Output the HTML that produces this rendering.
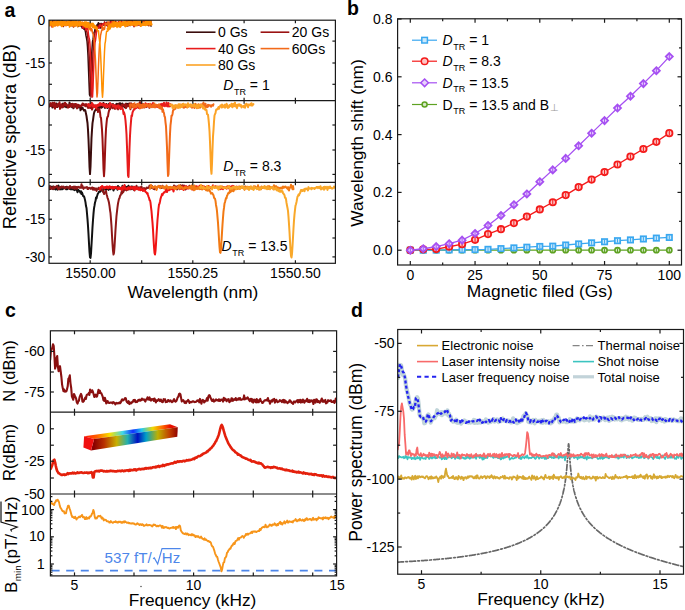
<!DOCTYPE html>
<html><head><meta charset="utf-8"><style>
html,body{margin:0;padding:0;background:#fff;width:685px;height:610px;overflow:hidden}
svg{position:absolute;left:0;top:0;font-family:"Liberation Sans", sans-serif}
</style></head><body>
<svg width="685" height="610" viewBox="0 0 685 610">
<rect width="685" height="610" fill="#fff"/>
<defs>
<clipPath id="clipA1"><rect x="49.0" y="20.2" width="286.4" height="80.5"/></clipPath>
<clipPath id="clipA2"><rect x="49.0" y="100.7" width="286.4" height="81.60000000000001"/></clipPath>
<clipPath id="clipA3"><rect x="49.0" y="182.3" width="286.4" height="81.0"/></clipPath>
<clipPath id="clipC1"><rect x="50.4" y="330.8" width="286.20000000000005" height="81.39999999999998"/></clipPath>
<clipPath id="clipC2"><rect x="50.4" y="412.2" width="286.20000000000005" height="81.80000000000001"/></clipPath>
<clipPath id="clipC3"><rect x="50.4" y="494.0" width="286.20000000000005" height="81.89999999999998"/></clipPath>
<clipPath id="clipD"><rect x="397.7" y="329.5" width="285.8" height="244.70000000000005"/></clipPath>
</defs>
<text x="4.50" y="16.50" font-size="19.5" text-anchor="start" fill="#000" font-weight="bold">a</text>
<g clip-path="url(#clipA1)">
<path d="M49.00,23.32 L49.50,23.76 L50.00,22.91 L50.50,21.99 L51.00,22.64 L51.50,21.84 L52.00,23.42 L52.50,25.34 L53.00,22.60 L53.50,22.41 L54.00,24.08 L54.50,23.89 L55.00,23.51 L55.50,21.97 L56.00,23.32 L56.50,24.41 L57.00,21.36 L57.50,22.70 L58.00,20.54 L58.50,21.46 L59.00,20.64 L59.50,23.05 L60.00,21.52 L60.50,23.83 L61.00,23.66 L61.50,23.16 L62.00,19.68 L62.50,22.65 L63.00,23.39 L63.50,23.64 L64.00,21.20 L64.50,22.78 L65.00,22.05 L65.50,22.31 L66.00,25.12 L66.50,22.34 L67.00,23.51 L67.50,24.90 L68.00,22.73 L68.50,23.45 L69.00,23.80 L69.50,23.75 L70.00,21.85 L70.50,23.82 L71.00,25.76 L71.50,21.46 L72.00,25.07 L72.50,24.01 L73.00,22.91 L73.50,26.88 L74.00,25.08 L74.50,22.22 L75.00,24.17 L75.50,24.97 L76.00,23.90 L76.50,25.27 L77.00,24.24 L77.50,25.42 L78.00,26.65 L78.50,23.66 L79.00,25.09 L79.50,24.26 L80.00,25.31 L80.50,23.60 L81.00,24.73 L81.50,25.57 L82.00,27.48 L82.50,28.23 L83.00,25.20 L83.50,26.56 L84.00,29.33 L84.50,26.64 L85.00,29.97 L85.50,32.07 L86.00,35.95 L86.50,38.12 L87.00,41.05 L87.50,46.96 L88.00,55.65 L88.50,68.68 L89.00,82.27 L89.50,94.67 L90.00,96.07 L90.50,85.28 L91.00,70.45 L91.50,57.07 L92.00,48.79 L92.50,41.94 L93.00,39.40 L93.50,35.68 L94.00,32.55 L94.50,31.78 L95.00,29.13 L95.50,30.07 L96.00,27.81 L96.50,28.02 L97.00,24.84 L97.50,26.76 L98.00,23.47 L98.50,22.67 L99.00,24.93 L99.50,23.85 L100.00,25.22 L100.50,28.11 L101.00,23.46 L101.50,23.64 L102.00,24.75 L102.50,25.08 L103.00,24.01 L103.50,23.89 L104.00,25.17 L104.50,24.84 L105.00,22.48 L105.50,23.84 L106.00,23.97 L106.50,22.31 L107.00,24.22 L107.50,22.52 L108.00,25.21 L108.50,24.02 L109.00,23.84 L109.50,22.80 L110.00,23.48 L110.50,20.66 L111.00,21.93 L111.50,24.14 L112.00,20.41 L112.50,24.83 L113.00,20.94 L113.50,24.67 L114.00,22.26 L114.50,24.67 L115.00,23.69 L115.50,21.19 L116.00,25.34 L116.50,25.62 L117.00,23.36 L117.50,23.04 L118.00,23.20 L118.50,21.97 L119.00,25.06 L119.50,22.60 L120.00,23.33 L120.50,22.21 L121.00,22.46 L121.50,21.48 L122.00,25.26 L122.50,23.15 L123.00,24.82 L123.50,23.39 L124.00,22.32 L124.50,22.87 L125.00,22.51 L125.50,23.36 L126.00,22.78 L126.50,22.89 L127.00,21.27 L127.50,22.12 L128.00,25.81 L128.50,22.32 L129.00,21.74 L129.50,23.83 L130.00,25.42 L130.50,21.14 L131.00,23.00 L131.50,22.36 L132.00,20.67 L132.50,24.40 L133.00,23.27 L133.50,23.41 L134.00,22.17 L134.50,23.98 L135.00,22.48 L135.50,23.08 L136.00,21.63 L136.50,21.46 L137.00,25.29 L137.50,22.52 L138.00,23.72 L138.50,23.23 L139.00,22.62 L139.50,22.52 L140.00,24.22 L140.50,22.82 L141.00,23.05 L141.50,23.30 L142.00,25.03 L142.50,24.29 L143.00,23.84 L143.50,22.42 L144.00,21.19 L144.50,24.69 L145.00,24.71 L145.50,23.05 L146.00,24.07 L146.50,24.43 L147.00,24.50 L147.50,24.64 L148.00,22.57 L148.50,25.53 L149.00,21.39 L149.50,24.54 L150.00,23.99 L150.50,24.56 L151.00,26.07" fill="none" stroke="#3a0c0c" stroke-width="1.5" stroke-linejoin="round" stroke-linecap="round" />
<path d="M49.00,25.53 L49.50,21.59 L50.00,20.78 L50.50,24.54 L51.00,21.80 L51.50,23.30 L52.00,24.58 L52.50,20.87 L53.00,20.17 L53.50,23.72 L54.00,23.40 L54.50,22.97 L55.00,23.40 L55.50,22.06 L56.00,21.09 L56.50,23.11 L57.00,21.91 L57.50,20.91 L58.00,24.13 L58.50,23.29 L59.00,23.99 L59.50,21.91 L60.00,22.41 L60.50,21.91 L61.00,22.08 L61.50,23.71 L62.00,22.25 L62.50,23.96 L63.00,23.95 L63.50,26.48 L64.00,21.38 L64.50,24.80 L65.00,23.35 L65.50,23.47 L66.00,21.34 L66.50,22.83 L67.00,24.64 L67.50,23.42 L68.00,23.68 L68.50,23.14 L69.00,25.31 L69.50,23.58 L70.00,20.35 L70.50,22.62 L71.00,20.74 L71.50,18.85 L72.00,22.93 L72.50,25.73 L73.00,23.85 L73.50,22.07 L74.00,22.45 L74.50,25.57 L75.00,24.17 L75.50,24.05 L76.00,23.95 L76.50,24.15 L77.00,25.35 L77.50,25.04 L78.00,24.62 L78.50,22.85 L79.00,25.25 L79.50,23.60 L80.00,26.34 L80.50,23.02 L81.00,24.85 L81.50,25.23 L82.00,23.54 L82.50,28.23 L83.00,28.15 L83.50,25.76 L84.00,27.97 L84.50,27.96 L85.00,24.45 L85.50,29.32 L86.00,29.99 L86.50,31.62 L87.00,32.01 L87.50,35.66 L88.00,39.38 L88.50,45.97 L89.00,52.38 L89.50,62.58 L90.00,77.06 L90.50,90.54 L91.00,97.20 L91.50,90.37 L92.00,77.07 L92.50,63.26 L93.00,52.92 L93.50,45.41 L94.00,39.72 L94.50,36.26 L95.00,33.08 L95.50,31.23 L96.00,30.15 L96.50,31.06 L97.00,28.89 L97.50,27.34 L98.00,26.05 L98.50,25.51 L99.00,28.36 L99.50,26.47 L100.00,25.57 L100.50,24.74 L101.00,23.43 L101.50,24.78 L102.00,26.02 L102.50,24.03 L103.00,24.16 L103.50,24.07 L104.00,24.47 L104.50,21.87 L105.00,23.81 L105.50,22.82 L106.00,25.34 L106.50,22.84 L107.00,24.79 L107.50,26.15 L108.00,23.38 L108.50,22.92 L109.00,24.07 L109.50,23.75 L110.00,22.24 L110.50,24.38 L111.00,26.67 L111.50,23.26 L112.00,23.32 L112.50,22.05 L113.00,24.07 L113.50,21.71 L114.00,21.90 L114.50,25.45 L115.00,22.18 L115.50,25.13 L116.00,25.78 L116.50,23.88 L117.00,24.31 L117.50,26.39 L118.00,23.16 L118.50,22.56 L119.00,21.42 L119.50,23.49 L120.00,25.64 L120.50,24.85 L121.00,22.00 L121.50,22.12 L122.00,22.64 L122.50,23.83 L123.00,23.08 L123.50,23.70 L124.00,23.82 L124.50,22.92 L125.00,23.30 L125.50,23.67 L126.00,23.23 L126.50,24.10 L127.00,26.15 L127.50,24.23 L128.00,23.42 L128.50,20.81 L129.00,23.91 L129.50,20.41 L130.00,21.21 L130.50,24.60 L131.00,24.38 L131.50,23.09 L132.00,20.75 L132.50,22.75 L133.00,22.29 L133.50,24.26 L134.00,26.68 L134.50,23.62 L135.00,22.13 L135.50,21.54 L136.00,23.21 L136.50,23.03 L137.00,21.56 L137.50,23.46 L138.00,21.56 L138.50,24.95 L139.00,24.87 L139.50,24.91 L140.00,22.57 L140.50,24.05 L141.00,23.08 L141.50,22.69 L142.00,22.76 L142.50,21.32 L143.00,21.11 L143.50,24.46 L144.00,22.98 L144.50,23.59 L145.00,24.77 L145.50,20.67 L146.00,22.09 L146.50,23.52 L147.00,23.85 L147.50,22.69 L148.00,24.80 L148.50,23.57 L149.00,21.44 L149.50,21.86 L150.00,24.46 L150.50,23.95 L151.00,20.41" fill="none" stroke="#9a1212" stroke-width="1.5" stroke-linejoin="round" stroke-linecap="round" />
<path d="M49.00,25.32 L49.50,24.20 L50.00,25.32 L50.50,22.73 L51.00,22.87 L51.50,21.63 L52.00,27.12 L52.50,23.06 L53.00,25.70 L53.50,22.36 L54.00,23.57 L54.50,20.83 L55.00,22.76 L55.50,24.81 L56.00,21.47 L56.50,24.95 L57.00,23.86 L57.50,21.79 L58.00,22.61 L58.50,22.68 L59.00,23.30 L59.50,22.57 L60.00,22.14 L60.50,22.93 L61.00,21.86 L61.50,21.47 L62.00,23.33 L62.50,24.73 L63.00,21.13 L63.50,23.43 L64.00,22.46 L64.50,21.98 L65.00,24.73 L65.50,22.69 L66.00,25.71 L66.50,22.32 L67.00,24.07 L67.50,23.16 L68.00,22.39 L68.50,24.41 L69.00,23.31 L69.50,24.46 L70.00,23.51 L70.50,21.97 L71.00,23.46 L71.50,23.71 L72.00,25.08 L72.50,22.32 L73.00,23.64 L73.50,21.16 L74.00,24.73 L74.50,22.18 L75.00,21.13 L75.50,23.77 L76.00,25.54 L76.50,21.68 L77.00,22.38 L77.50,22.94 L78.00,22.43 L78.50,24.73 L79.00,23.05 L79.50,23.26 L80.00,25.27 L80.50,23.40 L81.00,25.27 L81.50,23.33 L82.00,23.13 L82.50,22.40 L83.00,28.00 L83.50,25.05 L84.00,26.14 L84.50,26.07 L85.00,26.73 L85.50,27.05 L86.00,30.25 L86.50,26.82 L87.00,27.02 L87.50,28.96 L88.00,30.07 L88.50,34.82 L89.00,37.62 L89.50,39.36 L90.00,44.53 L90.50,53.59 L91.00,66.02 L91.50,78.40 L92.00,92.89 L92.50,96.91 L93.00,88.27 L93.50,72.93 L94.00,59.99 L94.50,48.95 L95.00,42.46 L95.50,40.41 L96.00,36.43 L96.50,32.46 L97.00,30.02 L97.50,27.24 L98.00,28.24 L98.50,27.92 L99.00,27.19 L99.50,26.64 L100.00,24.73 L100.50,25.88 L101.00,25.62 L101.50,27.30 L102.00,27.92 L102.50,24.81 L103.00,23.72 L103.50,24.61 L104.00,23.69 L104.50,23.38 L105.00,24.29 L105.50,22.75 L106.00,25.11 L106.50,23.99 L107.00,24.45 L107.50,23.75 L108.00,22.89 L108.50,22.52 L109.00,23.53 L109.50,23.03 L110.00,24.15 L110.50,23.77 L111.00,21.72 L111.50,23.82 L112.00,21.69 L112.50,22.75 L113.00,23.20 L113.50,20.53 L114.00,23.74 L114.50,23.81 L115.00,23.33 L115.50,22.92 L116.00,22.98 L116.50,22.07 L117.00,23.11 L117.50,22.67 L118.00,23.62 L118.50,21.68 L119.00,23.82 L119.50,23.67 L120.00,23.24 L120.50,22.78 L121.00,24.26 L121.50,20.93 L122.00,24.10 L122.50,23.77 L123.00,23.83 L123.50,23.97 L124.00,22.41 L124.50,23.00 L125.00,24.33 L125.50,24.02 L126.00,23.68 L126.50,21.10 L127.00,24.16 L127.50,25.10 L128.00,24.86 L128.50,23.70 L129.00,21.01 L129.50,24.75 L130.00,23.11 L130.50,19.54 L131.00,23.89 L131.50,21.09 L132.00,21.38 L132.50,22.37 L133.00,25.22 L133.50,22.76 L134.00,23.72 L134.50,25.92 L135.00,25.69 L135.50,23.15 L136.00,22.94 L136.50,21.41 L137.00,22.25 L137.50,23.93 L138.00,23.88 L138.50,23.45 L139.00,24.78 L139.50,22.13 L140.00,23.20 L140.50,24.38 L141.00,24.16 L141.50,24.88 L142.00,23.87 L142.50,22.81 L143.00,23.82 L143.50,21.77 L144.00,20.81 L144.50,24.14 L145.00,23.19 L145.50,23.73 L146.00,20.72 L146.50,22.72 L147.00,22.36 L147.50,21.97 L148.00,19.88 L148.50,22.76 L149.00,24.60 L149.50,23.83 L150.00,22.36 L150.50,23.23 L151.00,24.39" fill="none" stroke="#e81c1c" stroke-width="1.5" stroke-linejoin="round" stroke-linecap="round" />
<path d="M49.00,19.15 L49.50,23.10 L50.00,24.10 L50.50,24.31 L51.00,25.84 L51.50,24.99 L52.00,23.76 L52.50,23.75 L53.00,24.48 L53.50,22.49 L54.00,23.24 L54.50,24.66 L55.00,26.24 L55.50,23.07 L56.00,23.24 L56.50,23.61 L57.00,25.33 L57.50,23.28 L58.00,25.52 L58.50,21.88 L59.00,23.05 L59.50,23.04 L60.00,24.51 L60.50,24.91 L61.00,21.09 L61.50,21.98 L62.00,23.86 L62.50,22.37 L63.00,21.08 L63.50,24.92 L64.00,24.11 L64.50,24.12 L65.00,22.67 L65.50,24.93 L66.00,23.04 L66.50,25.04 L67.00,22.04 L67.50,22.14 L68.00,23.73 L68.50,22.38 L69.00,24.45 L69.50,23.84 L70.00,22.08 L70.50,23.58 L71.00,22.95 L71.50,24.86 L72.00,22.55 L72.50,22.86 L73.00,25.33 L73.50,26.88 L74.00,26.54 L74.50,23.66 L75.00,23.91 L75.50,25.89 L76.00,23.44 L76.50,22.19 L77.00,23.84 L77.50,24.36 L78.00,22.48 L78.50,21.29 L79.00,21.64 L79.50,24.80 L80.00,22.71 L80.50,23.67 L81.00,24.24 L81.50,24.89 L82.00,23.52 L82.50,24.82 L83.00,22.82 L83.50,23.68 L84.00,22.77 L84.50,26.05 L85.00,24.43 L85.50,23.49 L86.00,24.19 L86.50,24.52 L87.00,26.04 L87.50,22.87 L88.00,23.91 L88.50,25.13 L89.00,29.63 L89.50,27.71 L90.00,26.62 L90.50,28.32 L91.00,30.85 L91.50,28.46 L92.00,29.33 L92.50,32.81 L93.00,33.62 L93.50,36.25 L94.00,38.16 L94.50,45.62 L95.00,52.00 L95.50,60.62 L96.00,73.78 L96.50,87.70 L97.00,96.92 L97.50,92.83 L98.00,79.57 L98.50,65.56 L99.00,53.60 L99.50,44.21 L100.00,40.89 L100.50,35.71 L101.00,33.44 L101.50,31.04 L102.00,29.87 L102.50,25.99 L103.00,29.97 L103.50,27.91 L104.00,28.56 L104.50,29.34 L105.00,26.15 L105.50,23.18 L106.00,24.22 L106.50,23.52 L107.00,24.35 L107.50,25.03 L108.00,21.82 L108.50,25.13 L109.00,22.29 L109.50,24.85 L110.00,24.16 L110.50,23.78 L111.00,24.06 L111.50,23.30 L112.00,23.14 L112.50,21.49 L113.00,23.90 L113.50,26.64 L114.00,26.80 L114.50,25.79 L115.00,24.84 L115.50,22.75 L116.00,25.88 L116.50,23.62 L117.00,23.57 L117.50,23.22 L118.00,23.77 L118.50,22.96 L119.00,23.47 L119.50,21.96 L120.00,23.00 L120.50,26.95 L121.00,23.43 L121.50,23.16 L122.00,24.30 L122.50,24.55 L123.00,21.82 L123.50,23.16 L124.00,24.83 L124.50,23.85 L125.00,23.62 L125.50,25.76 L126.00,22.41 L126.50,23.54 L127.00,22.63 L127.50,25.63 L128.00,20.48 L128.50,22.39 L129.00,22.59 L129.50,24.37 L130.00,24.28 L130.50,25.46 L131.00,21.01 L131.50,24.48 L132.00,22.92 L132.50,22.35 L133.00,24.15 L133.50,21.97 L134.00,20.23 L134.50,22.78 L135.00,21.09 L135.50,22.36 L136.00,23.88 L136.50,23.79 L137.00,25.70 L137.50,23.02 L138.00,21.02 L138.50,22.18 L139.00,21.93 L139.50,21.48 L140.00,23.95 L140.50,22.33 L141.00,20.34 L141.50,24.34 L142.00,23.13 L142.50,23.83 L143.00,23.45 L143.50,24.23 L144.00,23.34 L144.50,25.14 L145.00,23.92 L145.50,23.87 L146.00,23.89 L146.50,21.09 L147.00,23.03 L147.50,22.89 L148.00,23.58 L148.50,21.24 L149.00,25.72 L149.50,23.43 L150.00,21.45 L150.50,20.71 L151.00,22.84" fill="none" stroke="#f56a10" stroke-width="1.5" stroke-linejoin="round" stroke-linecap="round" />
<path d="M49.00,23.13 L49.50,22.19 L50.00,23.41 L50.50,22.31 L51.00,24.10 L51.50,22.19 L52.00,23.22 L52.50,24.74 L53.00,27.13 L53.50,21.77 L54.00,22.58 L54.50,22.02 L55.00,24.46 L55.50,21.57 L56.00,22.56 L56.50,23.25 L57.00,21.83 L57.50,21.86 L58.00,22.58 L58.50,20.15 L59.00,21.13 L59.50,22.68 L60.00,23.53 L60.50,23.03 L61.00,20.65 L61.50,22.62 L62.00,24.51 L62.50,24.15 L63.00,23.20 L63.50,22.00 L64.00,24.27 L64.50,22.46 L65.00,21.58 L65.50,22.14 L66.00,25.51 L66.50,23.68 L67.00,25.09 L67.50,22.64 L68.00,24.76 L68.50,22.46 L69.00,23.13 L69.50,27.09 L70.00,24.53 L70.50,22.63 L71.00,23.26 L71.50,23.88 L72.00,25.21 L72.50,22.68 L73.00,20.81 L73.50,23.01 L74.00,23.46 L74.50,23.60 L75.00,25.42 L75.50,23.93 L76.00,24.68 L76.50,21.83 L77.00,24.79 L77.50,26.63 L78.00,24.67 L78.50,23.91 L79.00,23.77 L79.50,26.22 L80.00,22.19 L80.50,23.42 L81.00,24.29 L81.50,24.74 L82.00,23.00 L82.50,24.13 L83.00,23.28 L83.50,23.90 L84.00,23.55 L84.50,22.08 L85.00,23.78 L85.50,25.15 L86.00,22.45 L86.50,23.57 L87.00,24.97 L87.50,22.45 L88.00,24.36 L88.50,22.58 L89.00,25.90 L89.50,27.72 L90.00,27.38 L90.50,24.17 L91.00,25.69 L91.50,24.91 L92.00,25.03 L92.50,27.31 L93.00,23.32 L93.50,27.00 L94.00,25.66 L94.50,28.08 L95.00,26.69 L95.50,25.92 L96.00,27.82 L96.50,29.14 L97.00,29.02 L97.50,30.74 L98.00,30.81 L98.50,30.65 L99.00,37.11 L99.50,40.40 L100.00,44.86 L100.50,52.14 L101.00,63.31 L101.50,76.22 L102.00,90.52 L102.50,97.20 L103.00,90.78 L103.50,75.83 L104.00,63.42 L104.50,51.49 L105.00,43.53 L105.50,41.06 L106.00,35.87 L106.50,31.73 L107.00,31.03 L107.50,31.34 L108.00,30.62 L108.50,27.51 L109.00,28.00 L109.50,27.89 L110.00,25.50 L110.50,26.56 L111.00,25.69 L111.50,24.69 L112.00,24.52 L112.50,25.15 L113.00,24.92 L113.50,23.90 L114.00,23.98 L114.50,26.13 L115.00,24.71 L115.50,25.61 L116.00,26.00 L116.50,25.03 L117.00,27.46 L117.50,22.81 L118.00,25.18 L118.50,23.46 L119.00,26.65 L119.50,26.38 L120.00,20.91 L120.50,22.34 L121.00,24.74 L121.50,24.90 L122.00,24.79 L122.50,23.56 L123.00,24.33 L123.50,24.60 L124.00,23.49 L124.50,25.12 L125.00,20.20 L125.50,24.50 L126.00,22.00 L126.50,24.96 L127.00,23.17 L127.50,22.17 L128.00,24.05 L128.50,22.12 L129.00,22.10 L129.50,21.12 L130.00,23.41 L130.50,24.18 L131.00,24.96 L131.50,23.21 L132.00,24.98 L132.50,23.44 L133.00,23.26 L133.50,24.25 L134.00,24.97 L134.50,22.87 L135.00,23.01 L135.50,23.13 L136.00,23.49 L136.50,22.02 L137.00,24.90 L137.50,22.75 L138.00,24.04 L138.50,22.11 L139.00,23.88 L139.50,23.92 L140.00,22.70 L140.50,26.36 L141.00,23.88 L141.50,25.99 L142.00,24.76 L142.50,22.33 L143.00,22.74 L143.50,23.97 L144.00,23.40 L144.50,23.38 L145.00,22.88 L145.50,20.59 L146.00,22.96 L146.50,19.97 L147.00,23.85 L147.50,22.21 L148.00,22.22 L148.50,22.96 L149.00,23.70 L149.50,21.14 L150.00,20.66 L150.50,21.68 L151.00,20.22" fill="none" stroke="#ff9000" stroke-width="1.5" stroke-linejoin="round" stroke-linecap="round" />
<path d="M49.00,22.60 L49.50,24.90 L50.00,22.52 L50.50,24.06 L51.00,22.24 L51.50,23.74 L52.00,23.19 L52.50,23.42 L53.00,23.99 L53.50,25.06 L54.00,23.66 L54.50,23.59 L55.00,22.61 L55.50,24.01 L56.00,23.27 L56.50,24.24 L57.00,23.45 L57.50,25.06 L58.00,21.71 L58.50,23.23 L59.00,24.29 L59.50,23.19 L60.00,22.79 L60.50,23.27 L61.00,22.27 L61.50,23.62 L62.00,25.71 L62.50,24.55 L63.00,22.52 L63.50,22.74 L64.00,23.16 L64.50,24.43 L65.00,22.79 L65.50,22.92 L66.00,24.34 L66.50,24.32 L67.00,23.21 L67.50,22.55 L68.00,22.16 L68.50,22.93 L69.00,21.56 L69.50,24.25 L70.00,23.01 L70.50,24.02 L71.00,25.27 L71.50,24.65 L72.00,22.57 L72.50,24.39 L73.00,24.66 L73.50,22.95 L74.00,22.77 L74.50,23.54 L75.00,22.21 L75.50,24.98 L76.00,21.50 L76.50,22.68 L77.00,23.45 L77.50,23.50 L78.00,23.86 L78.50,23.97 L79.00,23.55 L79.50,24.78 L80.00,21.85 L80.50,23.79 L81.00,23.16 L81.50,23.95 L82.00,24.05 L82.50,23.05 L83.00,23.32 L83.50,24.63 L84.00,24.26 L84.50,23.37 L85.00,25.85 L85.50,26.13 L86.00,22.77 L86.50,24.40 L87.00,26.44 L87.50,24.94 L88.00,24.49 L88.50,24.16 L89.00,23.94 L89.50,24.31 L90.00,24.09 L90.50,25.36 L91.00,24.44 L91.50,24.53 L92.00,23.99 L92.50,25.20 L93.00,24.63 L93.50,25.50 L94.00,26.86 L94.50,26.57 L95.00,27.07 L95.50,27.38 L96.00,27.67 L96.50,28.18" fill="none" stroke="#ff9000" stroke-width="3.0" stroke-linejoin="round" stroke-linecap="round" />
<path d="M108.00,28.88 L108.50,28.98 L109.00,26.64 L109.50,28.27 L110.00,26.64 L110.50,25.56 L111.00,25.49 L111.50,25.05 L112.00,25.58 L112.50,24.60 L113.00,26.10 L113.50,24.23 L114.00,22.76 L114.50,24.03 L115.00,22.78 L115.50,24.47 L116.00,25.38 L116.50,24.93 L117.00,23.08 L117.50,23.54 L118.00,25.78 L118.50,24.42 L119.00,24.09 L119.50,25.00 L120.00,26.22 L120.50,25.15 L121.00,24.07 L121.50,24.24 L122.00,24.45 L122.50,23.32 L123.00,22.89 L123.50,23.87 L124.00,22.95 L124.50,23.73 L125.00,23.86 L125.50,25.86 L126.00,22.97 L126.50,23.62 L127.00,23.57 L127.50,24.09 L128.00,24.63 L128.50,23.24 L129.00,22.93 L129.50,22.18 L130.00,22.82 L130.50,24.12 L131.00,23.67 L131.50,22.71 L132.00,23.28 L132.50,23.64 L133.00,24.06 L133.50,23.06 L134.00,23.36 L134.50,21.95 L135.00,22.54 L135.50,25.03 L136.00,21.60 L136.50,23.26 L137.00,23.76 L137.50,23.22 L138.00,22.82 L138.50,23.49 L139.00,23.54 L139.50,23.46 L140.00,21.84 L140.50,23.40 L141.00,22.76 L141.50,23.03 L142.00,23.73 L142.50,24.09 L143.00,24.32 L143.50,23.07 L144.00,24.34 L144.50,24.56 L145.00,24.53 L145.50,24.75 L146.00,23.37 L146.50,23.34 L147.00,24.24 L147.50,22.26 L148.00,23.68 L148.50,23.01 L149.00,23.16 L149.50,21.92 L150.00,22.68 L150.50,23.46 L151.00,24.28" fill="none" stroke="#ff9000" stroke-width="3.0" stroke-linejoin="round" stroke-linecap="round" />
</g>
<g clip-path="url(#clipA2)">
<path d="M49.00,106.62 L49.50,105.29 L50.00,105.15 L50.50,104.36 L51.00,105.90 L51.50,105.09 L52.00,106.16 L52.50,107.59 L53.00,105.37 L53.50,103.54 L54.00,104.34 L54.50,103.59 L55.00,103.92 L55.50,107.05 L56.00,105.71 L56.50,103.53 L57.00,106.25 L57.50,107.01 L58.00,104.99 L58.50,104.60 L59.00,105.03 L59.50,105.81 L60.00,106.26 L60.50,106.94 L61.00,106.98 L61.50,106.96 L62.00,107.18 L62.50,106.32 L63.00,103.59 L63.50,105.34 L64.00,105.90 L64.50,105.04 L65.00,106.67 L65.50,105.09 L66.00,104.40 L66.50,107.36 L67.00,106.40 L67.50,105.86 L68.00,106.75 L68.50,106.93 L69.00,106.05 L69.50,102.59 L70.00,104.82 L70.50,105.11 L71.00,104.48 L71.50,105.97 L72.00,107.22 L72.50,105.17 L73.00,104.39 L73.50,108.34 L74.00,105.30 L74.50,104.37 L75.00,106.23 L75.50,106.51 L76.00,105.16 L76.50,107.06 L77.00,105.54 L77.50,105.08 L78.00,106.51 L78.50,107.33 L79.00,105.70 L79.50,106.99 L80.00,106.60 L80.50,110.32 L81.00,106.18 L81.50,108.93 L82.00,107.42 L82.50,107.63 L83.00,109.00 L83.50,109.63 L84.00,110.59 L84.50,110.16 L85.00,109.94 L85.50,111.16 L86.00,113.85 L86.50,116.00 L87.00,119.75 L87.50,123.01 L88.00,129.87 L88.50,139.51 L89.00,151.99 L89.50,166.59 L90.00,174.10 L90.50,166.60 L91.00,152.57 L91.50,137.99 L92.00,130.01 L92.50,123.17 L93.00,120.07 L93.50,116.45 L94.00,113.18 L94.50,111.54 L95.00,110.74 L95.50,109.98 L96.00,108.47 L96.50,108.52 L97.00,110.06 L97.50,105.73 L98.00,107.80 L98.50,106.14 L99.00,107.27 L99.50,107.89 L100.00,106.65 L100.50,107.54 L101.00,104.52 L101.50,107.74 L102.00,105.55 L102.50,106.98 L103.00,106.37 L103.50,102.89 L104.00,105.10 L104.50,106.25 L105.00,107.86 L105.50,106.25 L106.00,106.18 L106.50,104.07 L107.00,107.57 L107.50,108.01 L108.00,105.78 L108.50,105.45 L109.00,103.69 L109.50,106.78 L110.00,109.02 L110.50,106.53 L111.00,107.20 L111.50,106.29 L112.00,104.37 L112.50,107.25 L113.00,104.04 L113.50,105.30 L114.00,105.90 L114.50,106.64 L115.00,106.05 L115.50,106.00 L116.00,104.56 L116.50,103.90 L117.00,105.57 L117.50,104.61 L118.00,103.85 L118.50,103.90 L119.00,104.86 L119.50,103.16 L120.00,103.78 L120.50,103.42 L121.00,105.68 L121.50,105.95 L122.00,107.94 L122.50,103.57 L123.00,104.58 L123.50,106.57 L124.00,105.15 L124.50,105.01 L125.00,107.55 L125.50,104.99 L126.00,103.97 L126.50,103.76 L127.00,105.82 L127.50,105.78 L128.00,103.69 L128.50,104.17 L129.00,106.06 L129.50,106.11" fill="none" stroke="#3a0c0c" stroke-width="2.0" stroke-linejoin="round" stroke-linecap="round" />
<path d="M49.00,104.55 L49.50,106.13 L50.00,106.07 L50.50,103.12 L51.00,104.96 L51.50,105.87 L52.00,104.64 L52.50,102.68 L53.00,105.00 L53.50,106.30 L54.00,107.33 L54.50,102.62 L55.00,108.63 L55.50,103.96 L56.00,106.56 L56.50,106.91 L57.00,106.60 L57.50,105.56 L58.00,103.92 L58.50,106.15 L59.00,104.48 L59.50,102.23 L60.00,108.91 L60.50,106.26 L61.00,107.65 L61.50,104.24 L62.00,107.22 L62.50,107.37 L63.00,107.33 L63.50,105.36 L64.00,103.89 L64.50,105.17 L65.00,102.65 L65.50,103.28 L66.00,105.52 L66.50,104.17 L67.00,105.20 L67.50,105.28 L68.00,107.82 L68.50,107.04 L69.00,105.37 L69.50,106.93 L70.00,104.46 L70.50,105.01 L71.00,106.57 L71.50,103.89 L72.00,105.10 L72.50,103.80 L73.00,105.60 L73.50,107.50 L74.00,104.53 L74.50,105.75 L75.00,104.36 L75.50,104.05 L76.00,103.95 L76.50,107.31 L77.00,108.45 L77.50,106.11 L78.00,104.63 L78.50,106.41 L79.00,105.12 L79.50,106.55 L80.00,105.92 L80.50,105.92 L81.00,106.34 L81.50,104.87 L82.00,105.10 L82.50,103.48 L83.00,105.09 L83.50,103.88 L84.00,105.49 L84.50,104.50 L85.00,105.84 L85.50,106.30 L86.00,103.99 L86.50,104.77 L87.00,104.64 L87.50,106.77 L88.00,107.99 L88.50,106.97 L89.00,105.52 L89.50,107.82 L90.00,104.18 L90.50,107.96 L91.00,105.36 L91.50,102.81 L92.00,109.59 L92.50,108.35 L93.00,105.24 L93.50,106.83 L94.00,106.50 L94.50,107.04 L95.00,105.29 L95.50,106.48 L96.00,108.12 L96.50,108.12 L97.00,109.65 L97.50,108.76 L98.00,111.99 L98.50,109.07 L99.00,111.10 L99.50,109.80 L100.00,112.15 L100.50,117.10 L101.00,117.77 L101.50,123.64 L102.00,129.68 L102.50,138.87 L103.00,153.21 L103.50,168.60 L104.00,176.20 L104.50,168.77 L105.00,153.61 L105.50,139.18 L106.00,128.98 L106.50,123.41 L107.00,118.63 L107.50,116.78 L108.00,116.47 L108.50,112.92 L109.00,110.76 L109.50,109.71 L110.00,108.20 L110.50,107.58 L111.00,107.01 L111.50,107.38 L112.00,107.04 L112.50,108.21 L113.00,106.61 L113.50,106.67 L114.00,105.27 L114.50,108.64 L115.00,107.13 L115.50,108.61 L116.00,107.30 L116.50,108.08 L117.00,105.86 L117.50,106.99 L118.00,109.40 L118.50,104.49 L119.00,107.41 L119.50,108.02 L120.00,106.40 L120.50,106.79 L121.00,107.40 L121.50,104.95 L122.00,106.28 L122.50,104.63 L123.00,104.85 L123.50,104.90 L124.00,105.49 L124.50,105.84 L125.00,106.21 L125.50,103.82 L126.00,108.13 L126.50,107.07 L127.00,106.51 L127.50,105.11 L128.00,105.44 L128.50,106.25 L129.00,106.06 L129.50,103.38 L130.00,106.47 L130.50,109.24 L131.00,103.14 L131.50,106.77 L132.00,105.96 L132.50,105.34 L133.00,107.23 L133.50,103.96 L134.00,105.67 L134.50,107.33 L135.00,105.20 L135.50,104.91 L136.00,105.59 L136.50,104.87 L137.00,107.42 L137.50,104.27 L138.00,106.55 L138.50,103.82 L139.00,106.28 L139.50,105.28 L140.00,102.10 L140.50,105.40 L141.00,104.04 L141.50,104.84 L142.00,107.38 L142.50,103.97 L143.00,104.04 L143.50,107.24 L144.00,105.54 L144.50,107.37 L145.00,105.80 L145.50,104.25 L146.00,105.30 L146.50,106.96 L147.00,106.59 L147.50,105.38 L148.00,105.44 L148.50,105.23 L149.00,104.63 L149.50,107.85" fill="none" stroke="#9a1212" stroke-width="2.0" stroke-linejoin="round" stroke-linecap="round" />
<path d="M88.00,105.40 L88.50,103.95 L89.00,104.79 L89.50,106.33 L90.00,106.23 L90.50,105.23 L91.00,104.55 L91.50,105.44 L92.00,103.27 L92.50,103.75 L93.00,106.45 L93.50,104.81 L94.00,105.91 L94.50,107.00 L95.00,106.27 L95.50,105.47 L96.00,108.18 L96.50,106.31 L97.00,105.00 L97.50,106.40 L98.00,105.99 L98.50,104.38 L99.00,105.57 L99.50,105.27 L100.00,102.97 L100.50,105.28 L101.00,105.14 L101.50,104.95 L102.00,103.41 L102.50,105.08 L103.00,105.49 L103.50,105.68 L104.00,104.11 L104.50,106.38 L105.00,104.03 L105.50,105.31 L106.00,107.28 L106.50,104.74 L107.00,104.98 L107.50,107.03 L108.00,105.18 L108.50,105.31 L109.00,105.99 L109.50,107.07 L110.00,102.94 L110.50,104.72 L111.00,104.53 L111.50,104.46 L112.00,104.79 L112.50,104.84 L113.00,106.33 L113.50,104.87 L114.00,106.20 L114.50,106.61 L115.00,105.23 L115.50,106.39 L116.00,108.37 L116.50,106.79 L117.00,105.68 L117.50,106.51 L118.00,105.57 L118.50,107.21 L119.00,108.11 L119.50,106.21 L120.00,107.21 L120.50,109.12 L121.00,107.46 L121.50,108.71 L122.00,107.74 L122.50,108.62 L123.00,109.78 L123.50,113.91 L124.00,112.30 L124.50,114.01 L125.00,116.54 L125.50,120.59 L126.00,126.68 L126.50,134.21 L127.00,146.97 L127.50,161.40 L128.00,175.47 L128.50,177.04 L129.00,164.73 L129.50,147.95 L130.00,135.99 L130.50,127.38 L131.00,121.43 L131.50,115.52 L132.00,115.99 L132.50,112.65 L133.00,111.15 L133.50,110.28 L134.00,109.48 L134.50,109.57 L135.00,107.05 L135.50,107.03 L136.00,108.15 L136.50,107.69 L137.00,106.82 L137.50,106.37 L138.00,105.88 L138.50,106.68 L139.00,108.07 L139.50,105.20 L140.00,108.28 L140.50,107.36 L141.00,105.68 L141.50,107.14 L142.00,104.30 L142.50,103.91 L143.00,104.41 L143.50,105.45 L144.00,105.51 L144.50,105.24 L145.00,105.97 L145.50,103.17 L146.00,106.40 L146.50,104.00 L147.00,104.92 L147.50,105.20 L148.00,104.26 L148.50,103.97 L149.00,104.41 L149.50,105.63 L150.00,106.36 L150.50,106.31 L151.00,104.36 L151.50,104.60 L152.00,104.43 L152.50,106.12 L153.00,103.01 L153.50,107.08 L154.00,104.93 L154.50,104.55 L155.00,105.94 L155.50,106.79 L156.00,105.93 L156.50,106.81 L157.00,105.65 L157.50,107.01 L158.00,107.03 L158.50,105.34 L159.00,107.26 L159.50,105.66 L160.00,105.56 L160.50,104.30 L161.00,105.08 L161.50,106.41 L162.00,103.80 L162.50,106.24 L163.00,105.86 L163.50,105.77 L164.00,102.67 L164.50,105.29 L165.00,106.22 L165.50,104.46 L166.00,105.52 L166.50,102.44 L167.00,106.24 L167.50,104.57 L168.00,106.49 L168.50,103.09 L169.00,106.26 L169.50,105.09 L170.00,106.40 L170.50,104.23" fill="none" stroke="#e81c1c" stroke-width="2.0" stroke-linejoin="round" stroke-linecap="round" />
<path d="M130.00,104.63 L130.50,108.21 L131.00,104.37 L131.50,104.53 L132.00,105.07 L132.50,104.14 L133.00,106.91 L133.50,107.58 L134.00,104.55 L134.50,103.28 L135.00,106.90 L135.50,106.82 L136.00,106.47 L136.50,106.89 L137.00,104.37 L137.50,105.25 L138.00,103.74 L138.50,103.70 L139.00,106.70 L139.50,104.65 L140.00,108.33 L140.50,105.59 L141.00,104.71 L141.50,106.51 L142.00,107.76 L142.50,106.13 L143.00,104.02 L143.50,106.01 L144.00,107.27 L144.50,104.95 L145.00,104.62 L145.50,106.86 L146.00,105.78 L146.50,104.25 L147.00,105.16 L147.50,104.71 L148.00,106.04 L148.50,105.82 L149.00,107.14 L149.50,106.61 L150.00,103.81 L150.50,106.28 L151.00,106.92 L151.50,106.40 L152.00,107.15 L152.50,105.23 L153.00,104.77 L153.50,107.14 L154.00,104.72 L154.50,103.43 L155.00,107.42 L155.50,105.33 L156.00,105.92 L156.50,104.67 L157.00,104.86 L157.50,105.18 L158.00,106.28 L158.50,107.32 L159.00,104.24 L159.50,108.16 L160.00,106.05 L160.50,106.48 L161.00,108.92 L161.50,108.43 L162.00,107.21 L162.50,111.84 L163.00,109.49 L163.50,111.83 L164.00,113.18 L164.50,116.40 L165.00,117.08 L165.50,122.37 L166.00,126.43 L166.50,136.39 L167.00,147.59 L167.50,163.52 L168.00,175.90 L168.50,174.26 L169.00,160.45 L169.50,146.41 L170.00,133.87 L170.50,125.02 L171.00,121.23 L171.50,115.70 L172.00,115.67 L172.50,113.99 L173.00,110.66 L173.50,109.58 L174.00,109.74 L174.50,108.93 L175.00,107.26 L175.50,108.71 L176.00,105.23 L176.50,106.90 L177.00,106.71 L177.50,106.67 L178.00,107.22 L178.50,105.19 L179.00,107.30 L179.50,106.24 L180.00,105.57 L180.50,104.60 L181.00,104.75 L181.50,106.59 L182.00,104.89 L182.50,106.11 L183.00,107.30 L183.50,107.22 L184.00,107.83 L184.50,105.50 L185.00,104.49 L185.50,107.07 L186.00,106.16 L186.50,107.14 L187.00,105.74 L187.50,107.19 L188.00,106.74 L188.50,106.56 L189.00,106.27 L189.50,106.13 L190.00,105.91 L190.50,105.88 L191.00,106.82 L191.50,104.94 L192.00,107.73 L192.50,105.42 L193.00,106.77 L193.50,105.42 L194.00,105.22 L194.50,108.05 L195.00,105.12 L195.50,103.91 L196.00,104.60 L196.50,105.09 L197.00,108.17 L197.50,105.73 L198.00,106.64 L198.50,104.22 L199.00,105.90 L199.50,106.29 L200.00,107.70 L200.50,104.58 L201.00,106.19 L201.50,105.81 L202.00,104.16 L202.50,105.40 L203.00,105.10 L203.50,102.52 L204.00,106.16 L204.50,106.09 L205.00,104.86 L205.50,103.74 L206.00,107.25 L206.50,105.73 L207.00,106.67 L207.50,107.16 L208.00,104.75 L208.50,106.41 L209.00,105.09 L209.50,105.31 L210.00,105.28 L210.50,105.38 L211.00,106.77 L211.50,105.54 L212.00,105.19 L212.50,105.03 L213.00,105.80 L213.50,104.26" fill="none" stroke="#f26a1a" stroke-width="2.0" stroke-linejoin="round" stroke-linecap="round" />
<path d="M170.00,104.76 L170.50,105.32 L171.00,104.68 L171.50,105.24 L172.00,104.63 L172.50,107.90 L173.00,107.06 L173.50,105.96 L174.00,105.34 L174.50,108.14 L175.00,105.81 L175.50,105.30 L176.00,105.79 L176.50,105.80 L177.00,107.18 L177.50,105.40 L178.00,108.05 L178.50,104.33 L179.00,106.30 L179.50,104.19 L180.00,107.71 L180.50,105.04 L181.00,105.38 L181.50,106.61 L182.00,107.03 L182.50,104.09 L183.00,105.05 L183.50,103.75 L184.00,105.66 L184.50,105.37 L185.00,105.07 L185.50,104.66 L186.00,105.04 L186.50,104.60 L187.00,106.20 L187.50,107.44 L188.00,103.16 L188.50,105.43 L189.00,105.07 L189.50,106.21 L190.00,104.43 L190.50,105.45 L191.00,104.35 L191.50,106.53 L192.00,105.81 L192.50,105.50 L193.00,106.18 L193.50,105.44 L194.00,103.85 L194.50,106.54 L195.00,106.19 L195.50,105.68 L196.00,107.12 L196.50,107.45 L197.00,104.64 L197.50,105.07 L198.00,108.01 L198.50,107.91 L199.00,105.32 L199.50,104.85 L200.00,105.61 L200.50,105.88 L201.00,104.67 L201.50,106.78 L202.00,105.34 L202.50,105.61 L203.00,108.40 L203.50,106.72 L204.00,107.76 L204.50,108.96 L205.00,109.63 L205.50,108.82 L206.00,109.98 L206.50,109.89 L207.00,114.01 L207.50,114.37 L208.00,114.72 L208.50,119.06 L209.00,124.35 L209.50,131.00 L210.00,142.01 L210.50,155.44 L211.00,169.19 L211.50,173.77 L212.00,163.81 L212.50,149.08 L213.00,136.43 L213.50,129.80 L214.00,121.71 L214.50,115.50 L215.00,114.18 L215.50,113.07 L216.00,110.09 L216.50,109.44 L217.00,109.19 L217.50,109.38 L218.00,108.27 L218.50,106.99 L219.00,108.67 L219.50,106.78 L220.00,106.59 L220.50,105.32 L221.00,105.87 L221.50,107.49 L222.00,104.58 L222.50,106.37 L223.00,107.24 L223.50,105.81 L224.00,106.50 L224.50,104.75 L225.00,107.69 L225.50,107.38 L226.00,106.26 L226.50,103.75 L227.00,104.59 L227.50,107.06 L228.00,107.95 L228.50,106.16 L229.00,107.31 L229.50,104.98 L230.00,105.48 L230.50,105.70 L231.00,106.20 L231.50,103.76 L232.00,106.81 L232.50,107.27 L233.00,104.18 L233.50,103.91 L234.00,106.02 L234.50,104.76 L235.00,102.61 L235.50,106.56 L236.00,105.73 L236.50,104.94 L237.00,108.15 L237.50,105.68 L238.00,104.56 L238.50,105.62 L239.00,104.19 L239.50,104.53 L240.00,105.96 L240.50,104.78 L241.00,104.90 L241.50,107.54 L242.00,106.53 L242.50,106.45 L243.00,106.10 L243.50,106.04 L244.00,107.25 L244.50,105.41 L245.00,107.74 L245.50,104.24 L246.00,105.10 L246.50,103.70 L247.00,104.98 L247.50,106.06 L248.00,107.22 L248.50,104.58 L249.00,105.41 L249.50,104.95 L250.00,104.47 L250.50,103.91 L251.00,105.47 L251.50,103.23 L252.00,105.53 L252.50,105.41 L253.00,104.56 L253.50,104.12" fill="none" stroke="#fca326" stroke-width="2.0" stroke-linejoin="round" stroke-linecap="round" />
</g>
<g clip-path="url(#clipA3)">
<path d="M49.00,186.25 L49.50,189.34 L50.00,186.30 L50.50,189.05 L51.00,188.15 L51.50,187.25 L52.00,186.51 L52.50,188.60 L53.00,189.25 L53.50,186.74 L54.00,187.35 L54.50,188.64 L55.00,187.97 L55.50,189.56 L56.00,187.14 L56.50,188.20 L57.00,186.52 L57.50,189.69 L58.00,187.03 L58.50,185.65 L59.00,187.63 L59.50,187.63 L60.00,189.59 L60.50,187.48 L61.00,187.80 L61.50,188.39 L62.00,189.35 L62.50,187.81 L63.00,188.87 L63.50,188.40 L64.00,187.66 L64.50,188.03 L65.00,188.01 L65.50,187.15 L66.00,189.19 L66.50,186.77 L67.00,189.21 L67.50,189.04 L68.00,188.10 L68.50,187.51 L69.00,188.05 L69.50,188.76 L70.00,189.06 L70.50,188.68 L71.00,189.40 L71.50,188.02 L72.00,188.82 L72.50,187.21 L73.00,189.46 L73.50,188.98 L74.00,188.55 L74.50,190.11 L75.00,189.79 L75.50,186.67 L76.00,189.45 L76.50,188.22 L77.00,190.71 L77.50,192.19 L78.00,189.65 L78.50,190.42 L79.00,190.39 L79.50,191.23 L80.00,191.83 L80.50,192.79 L81.00,191.22 L81.50,193.99 L82.00,192.40 L82.50,194.16 L83.00,195.75 L83.50,196.36 L84.00,196.20 L84.50,197.88 L85.00,199.88 L85.50,202.43 L86.00,206.08 L86.50,207.92 L87.00,213.51 L87.50,219.16 L88.00,226.05 L88.50,234.28 L89.00,243.57 L89.50,251.84 L90.00,257.40 L90.50,257.95 L91.00,253.35 L91.50,244.75 L92.00,236.30 L92.50,227.26 L93.00,219.98 L93.50,213.68 L94.00,208.37 L94.50,205.63 L95.00,202.47 L95.50,201.03 L96.00,197.60 L96.50,198.41 L97.00,196.22 L97.50,194.74 L98.00,193.47 L98.50,192.66 L99.00,191.73 L99.50,191.71 L100.00,191.73 L100.50,191.17 L101.00,189.71 L101.50,190.43 L102.00,189.59 L102.50,190.31 L103.00,191.66 L103.50,190.34 L104.00,189.30 L104.50,187.94 L105.00,187.99 L105.50,187.61 L106.00,189.73 L106.50,188.24 L107.00,188.92 L107.50,188.19 L108.00,188.78 L108.50,189.92 L109.00,187.91 L109.50,188.17 L110.00,187.67 L110.50,189.19 L111.00,187.36 L111.50,187.21 L112.00,186.93 L112.50,186.87 L113.00,188.59 L113.50,190.53 L114.00,187.15 L114.50,188.95 L115.00,188.26 L115.50,186.96 L116.00,187.71 L116.50,187.72 L117.00,187.27 L117.50,189.71 L118.00,186.08 L118.50,188.21 L119.00,188.15 L119.50,187.27 L120.00,187.94 L120.50,188.61 L121.00,187.91 L121.50,188.15 L122.00,188.39 L122.50,185.81 L123.00,189.11 L123.50,189.85 L124.00,188.62 L124.50,188.64 L125.00,186.34 L125.50,187.54 L126.00,186.88 L126.50,187.08 L127.00,188.54 L127.50,186.86 L128.00,187.49 L128.50,185.80 L129.00,187.45 L129.50,187.67 L130.00,186.91 L130.50,186.89 L131.00,189.35 L131.50,186.42 L132.00,186.56 L132.50,186.78 L133.00,188.68 L133.50,189.53 L134.00,187.85 L134.50,186.85" fill="none" stroke="#111111" stroke-width="2.0" stroke-linejoin="round" stroke-linecap="round" />
<path d="M49.00,186.99 L49.50,188.41 L50.00,186.54 L50.50,188.78 L51.00,188.75 L51.50,187.48 L52.00,188.02 L52.50,188.12 L53.00,188.89 L53.50,186.42 L54.00,188.54 L54.50,187.06 L55.00,186.69 L55.50,187.52 L56.00,187.22 L56.50,186.49 L57.00,185.92 L57.50,186.54 L58.00,188.81 L58.50,189.30 L59.00,188.06 L59.50,188.57 L60.00,186.96 L60.50,187.38 L61.00,187.72 L61.50,186.43 L62.00,186.52 L62.50,187.55 L63.00,187.16 L63.50,186.46 L64.00,187.84 L64.50,187.22 L65.00,188.45 L65.50,187.48 L66.00,187.20 L66.50,187.61 L67.00,187.33 L67.50,186.86 L68.00,187.12 L68.50,188.22 L69.00,188.12 L69.50,188.73 L70.00,185.92 L70.50,187.15 L71.00,187.14 L71.50,187.70 L72.00,187.11 L72.50,187.06 L73.00,188.30 L73.50,187.73 L74.00,186.46 L74.50,188.84 L75.00,188.52 L75.50,187.05 L76.00,188.38 L76.50,186.91 L77.00,188.68 L77.50,187.42 L78.00,186.87 L78.50,187.29 L79.00,186.93 L79.50,187.84 L80.00,187.84 L80.50,187.72 L81.00,187.17 L81.50,184.25 L82.00,187.81 L82.50,185.94 L83.00,187.98 L83.50,188.83 L84.00,188.04 L84.50,187.43 L85.00,187.64 L85.50,187.70 L86.00,187.33 L86.50,187.32 L87.00,187.02 L87.50,189.03 L88.00,187.92 L88.50,188.86 L89.00,187.75 L89.50,188.08 L90.00,187.89 L90.50,188.51 L91.00,188.89 L91.50,188.38 L92.00,187.56 L92.50,187.50 L93.00,189.83 L93.50,188.06 L94.00,188.11 L94.50,189.80 L95.00,189.51 L95.50,189.06 L96.00,188.26 L96.50,190.90 L97.00,189.16 L97.50,189.39 L98.00,188.83 L98.50,187.79 L99.00,187.99 L99.50,189.73 L100.00,189.86 L100.50,189.44 L101.00,188.78 L101.50,188.74 L102.00,189.99 L102.50,189.23 L103.00,191.66 L103.50,192.22 L104.00,194.09 L104.50,192.80 L105.00,192.02 L105.50,192.40 L106.00,190.91 L106.50,194.22 L107.00,195.60 L107.50,197.77 L108.00,198.97 L108.50,200.79 L109.00,202.80 L109.50,206.00 L110.00,210.12 L110.50,213.21 L111.00,219.41 L111.50,226.21 L112.00,235.49 L112.50,243.88 L113.00,250.97 L113.50,254.49 L114.00,252.92 L114.50,246.85 L115.00,238.55 L115.50,229.89 L116.00,222.56 L116.50,215.78 L117.00,211.44 L117.50,207.06 L118.00,203.51 L118.50,201.12 L119.00,198.83 L119.50,198.20 L120.00,195.99 L120.50,195.36 L121.00,193.86 L121.50,192.14 L122.00,193.57 L122.50,191.29 L123.00,192.35 L123.50,191.71 L124.00,189.49 L124.50,189.81 L125.00,189.92 L125.50,189.40 L126.00,188.85 L126.50,190.41 L127.00,189.34 L127.50,189.76 L128.00,188.87 L128.50,189.42 L129.00,188.33 L129.50,188.90 L130.00,189.37 L130.50,188.78 L131.00,188.24 L131.50,187.58 L132.00,188.68 L132.50,188.78 L133.00,188.16 L133.50,187.63 L134.00,188.80 L134.50,190.57 L135.00,187.92 L135.50,188.48 L136.00,188.48 L136.50,185.68 L137.00,188.18 L137.50,187.36 L138.00,189.30 L138.50,187.73 L139.00,187.21 L139.50,187.72 L140.00,188.05 L140.50,187.35 L141.00,187.81 L141.50,186.56 L142.00,187.61 L142.50,188.53 L143.00,189.64 L143.50,188.43 L144.00,188.01 L144.50,188.85 L145.00,188.69 L145.50,189.28 L146.00,188.72 L146.50,187.58 L147.00,187.92 L147.50,187.83 L148.00,187.94 L148.50,187.83 L149.00,186.89 L149.50,185.64 L150.00,186.98 L150.50,185.69 L151.00,187.66 L151.50,187.60 L152.00,186.00 L152.50,188.23 L153.00,188.39 L153.50,187.65 L154.00,189.13 L154.50,189.32 L155.00,186.40 L155.50,188.52 L156.00,187.95 L156.50,187.92 L157.00,188.41 L157.50,186.84 L158.00,186.95 L158.50,186.73 L159.00,186.79 L159.50,187.41 L160.00,186.12 L160.50,186.50 L161.00,188.03 L161.50,187.42 L162.00,187.84 L162.50,185.69 L163.00,186.73 L163.50,186.94 L164.00,187.50 L164.50,186.91 L165.00,188.34 L165.50,187.40 L166.00,187.47 L166.50,187.46 L167.00,188.12 L167.50,187.00 L168.00,188.51 L168.50,187.88 L169.00,187.58 L169.50,187.47 L170.00,187.93 L170.50,188.39 L171.00,188.32 L171.50,187.78 L172.00,188.25 L172.50,187.53 L173.00,188.61 L173.50,187.39 L174.00,185.45 L174.50,188.68 L175.00,187.51 L175.50,186.30 L176.00,187.22 L176.50,186.57 L177.00,189.40 L177.50,187.87 L178.00,185.91 L178.50,187.92 L179.00,187.02 L179.50,189.22 L180.00,186.40 L180.50,185.26 L181.00,187.45 L181.50,187.06 L182.00,186.99 L182.50,185.36 L183.00,187.79 L183.50,188.97 L184.00,185.57 L184.50,188.49 L185.00,186.84 L185.50,189.61 L186.00,187.79 L186.50,187.20 L187.00,188.43 L187.50,187.88 L188.00,186.81 L188.50,188.05 L189.00,186.89 L189.50,185.68" fill="none" stroke="#8e1818" stroke-width="2.0" stroke-linejoin="round" stroke-linecap="round" />
<path d="M100.00,189.37 L100.50,187.11 L101.00,186.87 L101.50,187.77 L102.00,185.97 L102.50,186.17 L103.00,186.98 L103.50,186.97 L104.00,187.53 L104.50,188.53 L105.00,187.02 L105.50,187.94 L106.00,188.05 L106.50,186.45 L107.00,187.70 L107.50,186.59 L108.00,188.50 L108.50,187.93 L109.00,187.51 L109.50,186.23 L110.00,187.62 L110.50,186.79 L111.00,188.19 L111.50,187.41 L112.00,186.76 L112.50,188.41 L113.00,188.22 L113.50,186.98 L114.00,188.65 L114.50,187.27 L115.00,187.27 L115.50,187.69 L116.00,186.86 L116.50,187.17 L117.00,187.44 L117.50,189.05 L118.00,189.03 L118.50,187.37 L119.00,189.15 L119.50,187.59 L120.00,188.00 L120.50,188.49 L121.00,187.94 L121.50,189.96 L122.00,187.92 L122.50,186.57 L123.00,188.94 L123.50,187.33 L124.00,187.45 L124.50,184.93 L125.00,188.71 L125.50,188.56 L126.00,188.55 L126.50,188.74 L127.00,189.43 L127.50,187.81 L128.00,188.76 L128.50,187.20 L129.00,187.59 L129.50,188.94 L130.00,188.34 L130.50,186.75 L131.00,188.37 L131.50,187.89 L132.00,187.32 L132.50,188.54 L133.00,187.79 L133.50,186.73 L134.00,187.21 L134.50,189.95 L135.00,186.93 L135.50,188.61 L136.00,189.03 L136.50,189.12 L137.00,187.45 L137.50,188.36 L138.00,188.87 L138.50,189.57 L139.00,188.33 L139.50,187.95 L140.00,190.07 L140.50,190.29 L141.00,189.75 L141.50,189.00 L142.00,190.11 L142.50,190.03 L143.00,190.91 L143.50,189.26 L144.00,190.77 L144.50,190.83 L145.00,190.34 L145.50,191.94 L146.00,192.25 L146.50,192.42 L147.00,193.77 L147.50,192.98 L148.00,195.06 L148.50,196.57 L149.00,197.77 L149.50,200.02 L150.00,200.29 L150.50,202.64 L151.00,207.06 L151.50,211.20 L152.00,217.15 L152.50,222.60 L153.00,229.66 L153.50,238.72 L154.00,246.79 L154.50,252.88 L155.00,254.50 L155.50,250.95 L156.00,243.79 L156.50,235.20 L157.00,227.47 L157.50,219.77 L158.00,214.52 L158.50,208.54 L159.00,204.58 L159.50,203.69 L160.00,201.47 L160.50,198.89 L161.00,197.16 L161.50,195.88 L162.00,194.14 L162.50,195.19 L163.00,193.72 L163.50,192.99 L164.00,192.36 L164.50,192.51 L165.00,191.64 L165.50,191.52 L166.00,189.49 L166.50,190.75 L167.00,192.05 L167.50,189.38 L168.00,189.55 L168.50,190.32 L169.00,190.23 L169.50,189.79 L170.00,187.60 L170.50,189.45 L171.00,187.79 L171.50,188.03 L172.00,189.22 L172.50,188.36 L173.00,189.31 L173.50,191.43 L174.00,189.16 L174.50,189.05 L175.00,187.49 L175.50,187.67 L176.00,187.24 L176.50,187.69 L177.00,187.13 L177.50,187.49 L178.00,187.88 L178.50,187.11 L179.00,186.68 L179.50,186.71 L180.00,188.39 L180.50,187.99 L181.00,188.88 L181.50,188.87 L182.00,187.55 L182.50,188.48 L183.00,186.47 L183.50,189.96 L184.00,188.92 L184.50,187.57 L185.00,186.66 L185.50,188.10 L186.00,185.97 L186.50,186.98 L187.00,188.41 L187.50,187.76 L188.00,187.22 L188.50,188.57 L189.00,186.68 L189.50,187.92 L190.00,187.17 L190.50,186.83 L191.00,188.06 L191.50,186.67 L192.00,189.40 L192.50,187.04 L193.00,189.47 L193.50,186.55 L194.00,188.15 L194.50,186.43 L195.00,186.29 L195.50,187.71 L196.00,188.19 L196.50,186.34 L197.00,188.66 L197.50,186.78 L198.00,187.65 L198.50,187.88 L199.00,188.08 L199.50,185.81 L200.00,189.04 L200.50,188.03 L201.00,187.09 L201.50,186.52 L202.00,185.88 L202.50,186.20 L203.00,188.00 L203.50,187.15 L204.00,186.40 L204.50,186.97 L205.00,188.95 L205.50,187.15 L206.00,186.91 L206.50,188.74 L207.00,187.89 L207.50,187.49 L208.00,186.87 L208.50,185.97 L209.00,186.33 L209.50,186.99 L210.00,187.23 L210.50,187.77 L211.00,187.96 L211.50,187.64 L212.00,187.64 L212.50,186.47 L213.00,185.38 L213.50,186.93 L214.00,186.52 L214.50,186.80 L215.00,187.16 L215.50,186.23 L216.00,186.36 L216.50,187.32 L217.00,187.52 L217.50,186.78 L218.00,187.88 L218.50,187.20 L219.00,186.43 L219.50,187.44 L220.00,189.18 L220.50,186.76 L221.00,188.50 L221.50,188.70 L222.00,188.81 L222.50,186.61 L223.00,189.30 L223.50,187.50 L224.00,187.15 L224.50,187.17 L225.00,187.96 L225.50,187.43 L226.00,187.22 L226.50,188.60 L227.00,186.70 L227.50,186.39 L228.00,188.13 L228.50,188.05 L229.00,188.41 L229.50,186.36 L230.00,188.40 L230.50,187.83 L231.00,189.05 L231.50,186.19 L232.00,187.58 L232.50,187.11 L233.00,185.86 L233.50,186.69 L234.00,188.44 L234.50,186.92 L235.00,186.68 L235.50,188.19 L236.00,188.30 L236.50,188.30 L237.00,186.61 L237.50,187.31 L238.00,188.34 L238.50,186.74 L239.00,186.65 L239.50,188.14" fill="none" stroke="#f01414" stroke-width="2.0" stroke-linejoin="round" stroke-linecap="round" />
<path d="M150.00,188.87 L150.50,186.29 L151.00,184.92 L151.50,186.01 L152.00,186.43 L152.50,187.26 L153.00,187.98 L153.50,187.25 L154.00,186.73 L154.50,187.54 L155.00,186.48 L155.50,187.35 L156.00,186.79 L156.50,189.94 L157.00,188.18 L157.50,186.61 L158.00,186.46 L158.50,186.99 L159.00,185.85 L159.50,186.72 L160.00,186.71 L160.50,188.25 L161.00,187.01 L161.50,186.67 L162.00,186.15 L162.50,186.31 L163.00,187.36 L163.50,187.22 L164.00,188.51 L164.50,186.84 L165.00,188.44 L165.50,187.68 L166.00,187.44 L166.50,185.54 L167.00,186.22 L167.50,188.15 L168.00,188.78 L168.50,187.65 L169.00,188.18 L169.50,187.07 L170.00,187.11 L170.50,186.84 L171.00,188.39 L171.50,187.80 L172.00,187.25 L172.50,187.17 L173.00,188.01 L173.50,187.79 L174.00,186.70 L174.50,189.12 L175.00,187.74 L175.50,187.51 L176.00,188.91 L176.50,188.48 L177.00,187.44 L177.50,188.03 L178.00,186.52 L178.50,186.93 L179.00,185.40 L179.50,188.70 L180.00,185.76 L180.50,188.20 L181.00,186.78 L181.50,186.65 L182.00,187.40 L182.50,187.84 L183.00,188.17 L183.50,189.28 L184.00,187.95 L184.50,188.45 L185.00,187.06 L185.50,188.31 L186.00,187.79 L186.50,187.22 L187.00,187.58 L187.50,187.62 L188.00,187.87 L188.50,188.08 L189.00,187.24 L189.50,187.03 L190.00,188.45 L190.50,186.16 L191.00,187.19 L191.50,189.26 L192.00,185.26 L192.50,187.18 L193.00,188.50 L193.50,186.32 L194.00,190.34 L194.50,185.48 L195.00,189.29 L195.50,189.43 L196.00,188.85 L196.50,187.81 L197.00,188.39 L197.50,187.24 L198.00,188.88 L198.50,187.11 L199.00,187.94 L199.50,189.17 L200.00,187.24 L200.50,188.00 L201.00,188.54 L201.50,187.19 L202.00,189.60 L202.50,188.89 L203.00,187.24 L203.50,188.69 L204.00,188.10 L204.50,188.30 L205.00,189.09 L205.50,188.48 L206.00,190.15 L206.50,188.75 L207.00,190.45 L207.50,189.69 L208.00,190.70 L208.50,189.64 L209.00,189.92 L209.50,189.62 L210.00,191.49 L210.50,192.17 L211.00,193.63 L211.50,193.36 L212.00,193.01 L212.50,193.27 L213.00,194.56 L213.50,195.14 L214.00,197.48 L214.50,198.40 L215.00,198.66 L215.50,200.87 L216.00,204.94 L216.50,207.44 L217.00,211.23 L217.50,217.20 L218.00,222.88 L218.50,230.68 L219.00,239.16 L219.50,247.00 L220.00,252.37 L220.50,252.87 L221.00,248.46 L221.50,240.81 L222.00,232.65 L222.50,224.47 L223.00,217.77 L223.50,211.32 L224.00,207.93 L224.50,203.53 L225.00,202.08 L225.50,199.97 L226.00,197.93 L226.50,198.20 L227.00,195.81 L227.50,194.91 L228.00,193.72 L228.50,192.75 L229.00,193.18 L229.50,192.81 L230.00,190.25 L230.50,191.99 L231.00,191.18 L231.50,191.30 L232.00,190.61 L232.50,188.83 L233.00,188.69 L233.50,191.26 L234.00,189.66 L234.50,187.98 L235.00,189.48 L235.50,188.70 L236.00,187.22 L236.50,186.71 L237.00,187.26 L237.50,188.92 L238.00,188.55 L238.50,188.29 L239.00,188.72 L239.50,188.96 L240.00,186.38 L240.50,188.01 L241.00,187.47 L241.50,187.05 L242.00,187.65 L242.50,188.01 L243.00,187.84 L243.50,186.69 L244.00,187.57 L244.50,189.89 L245.00,186.98 L245.50,186.36 L246.00,188.18 L246.50,188.46 L247.00,188.31 L247.50,186.80 L248.00,188.77 L248.50,187.07 L249.00,186.73 L249.50,187.21 L250.00,187.66 L250.50,188.42 L251.00,188.32 L251.50,187.70 L252.00,188.59 L252.50,187.77 L253.00,188.53 L253.50,186.35 L254.00,186.17 L254.50,188.38 L255.00,186.33 L255.50,187.35 L256.00,187.53 L256.50,187.15 L257.00,187.18 L257.50,188.91 L258.00,185.20 L258.50,188.42 L259.00,189.75 L259.50,187.59 L260.00,187.54 L260.50,188.24 L261.00,189.28 L261.50,186.42 L262.00,187.62 L262.50,187.35 L263.00,188.06 L263.50,187.67 L264.00,188.14 L264.50,187.11 L265.00,187.55 L265.50,186.87 L266.00,186.87 L266.50,187.36 L267.00,187.35 L267.50,186.37 L268.00,188.97 L268.50,187.35 L269.00,186.16 L269.50,188.51 L270.00,186.76 L270.50,187.94 L271.00,187.44 L271.50,187.69 L272.00,187.62 L272.50,186.91 L273.00,187.49 L273.50,189.37 L274.00,185.32 L274.50,187.50 L275.00,187.85 L275.50,186.44 L276.00,186.13 L276.50,189.48 L277.00,187.08 L277.50,189.40 L278.00,187.93 L278.50,187.49 L279.00,187.87 L279.50,188.02 L280.00,188.53 L280.50,187.83 L281.00,187.55 L281.50,187.58 L282.00,188.69 L282.50,188.18 L283.00,186.45 L283.50,186.80 L284.00,187.72 L284.50,186.81 L285.00,187.04 L285.50,186.49 L286.00,187.15 L286.50,187.80 L287.00,188.34 L287.50,187.40 L288.00,189.36 L288.50,187.32 L289.00,190.42 L289.50,188.34 L290.00,187.86 L290.50,186.91 L291.00,184.70 L291.50,187.23 L292.00,187.55 L292.50,189.20 L293.00,186.07 L293.50,189.19" fill="none" stroke="#f27a14" stroke-width="2.0" stroke-linejoin="round" stroke-linecap="round" />
<path d="M200.00,187.11 L200.50,188.04 L201.00,184.94 L201.50,187.49 L202.00,187.03 L202.50,188.00 L203.00,187.44 L203.50,186.27 L204.00,188.26 L204.50,188.02 L205.00,187.93 L205.50,188.32 L206.00,188.41 L206.50,187.34 L207.00,186.07 L207.50,186.05 L208.00,188.64 L208.50,188.04 L209.00,187.46 L209.50,186.95 L210.00,187.40 L210.50,187.39 L211.00,187.05 L211.50,186.71 L212.00,189.42 L212.50,187.59 L213.00,186.80 L213.50,186.14 L214.00,186.68 L214.50,188.06 L215.00,188.09 L215.50,187.17 L216.00,187.43 L216.50,187.09 L217.00,186.33 L217.50,188.62 L218.00,187.74 L218.50,189.73 L219.00,186.67 L219.50,187.25 L220.00,188.22 L220.50,187.15 L221.00,186.07 L221.50,186.49 L222.00,187.49 L222.50,187.72 L223.00,187.30 L223.50,188.35 L224.00,188.34 L224.50,187.70 L225.00,187.43 L225.50,187.16 L226.00,187.93 L226.50,188.28 L227.00,187.46 L227.50,187.83 L228.00,187.10 L228.50,186.07 L229.00,186.46 L229.50,188.14 L230.00,187.84 L230.50,188.93 L231.00,187.47 L231.50,188.24 L232.00,188.68 L232.50,188.37 L233.00,186.85 L233.50,187.26 L234.00,187.56 L234.50,186.50 L235.00,187.89 L235.50,188.41 L236.00,186.99 L236.50,189.32 L237.00,187.17 L237.50,187.26 L238.00,187.23 L238.50,186.79 L239.00,187.86 L239.50,187.48 L240.00,189.04 L240.50,188.04 L241.00,187.98 L241.50,187.27 L242.00,186.14 L242.50,187.40 L243.00,186.68 L243.50,188.39 L244.00,187.47 L244.50,189.08 L245.00,188.20 L245.50,188.30 L246.00,187.73 L246.50,187.71 L247.00,188.14 L247.50,188.40 L248.00,186.86 L248.50,188.00 L249.00,190.02 L249.50,187.46 L250.00,187.31 L250.50,186.91 L251.00,186.20 L251.50,188.70 L252.00,187.64 L252.50,187.87 L253.00,189.34 L253.50,189.98 L254.00,186.77 L254.50,188.62 L255.00,188.22 L255.50,188.02 L256.00,188.10 L256.50,187.64 L257.00,189.17 L257.50,188.26 L258.00,188.02 L258.50,188.88 L259.00,188.57 L259.50,188.17 L260.00,188.05 L260.50,189.42 L261.00,188.26 L261.50,187.71 L262.00,187.00 L262.50,187.50 L263.00,186.85 L263.50,187.96 L264.00,188.13 L264.50,185.97 L265.00,187.94 L265.50,188.56 L266.00,188.13 L266.50,187.11 L267.00,189.23 L267.50,187.41 L268.00,186.94 L268.50,187.12 L269.00,188.15 L269.50,189.13 L270.00,189.34 L270.50,188.49 L271.00,187.23 L271.50,187.78 L272.00,187.61 L272.50,188.34 L273.00,186.92 L273.50,188.75 L274.00,189.32 L274.50,188.67 L275.00,189.32 L275.50,188.13 L276.00,187.76 L276.50,188.64 L277.00,190.42 L277.50,190.45 L278.00,189.25 L278.50,190.95 L279.00,189.75 L279.50,191.65 L280.00,190.96 L280.50,190.41 L281.00,191.86 L281.50,190.82 L282.00,191.11 L282.50,191.16 L283.00,193.25 L283.50,193.65 L284.00,194.44 L284.50,195.11 L285.00,197.79 L285.50,197.66 L286.00,199.14 L286.50,202.76 L287.00,205.48 L287.50,208.00 L288.00,210.90 L288.50,216.94 L289.00,224.16 L289.50,231.87 L290.00,241.17 L290.50,249.39 L291.00,255.86 L291.50,257.49 L292.00,253.84 L292.50,246.19 L293.00,237.46 L293.50,228.26 L294.00,220.38 L294.50,214.36 L295.00,209.78 L295.50,205.64 L296.00,204.21 L296.50,201.95 L297.00,199.20 L297.50,196.57 L298.00,196.02 L298.50,194.47 L299.00,195.41 L299.50,193.69 L300.00,193.21 L300.50,191.88 L301.00,189.98 L301.50,190.67 L302.00,190.00 L302.50,191.03 L303.00,190.51 L303.50,189.45 L304.00,189.61 L304.50,191.21 L305.00,188.72 L305.50,188.60 L306.00,189.09 L306.50,188.53 L307.00,188.66 L307.50,189.45 L308.00,190.47 L308.50,187.12 L309.00,188.67 L309.50,188.65 L310.00,188.47 L310.50,188.31 L311.00,188.11 L311.50,189.31 L312.00,187.88 L312.50,188.15 L313.00,188.23 L313.50,188.29 L314.00,187.99 L314.50,189.05 L315.00,188.07 L315.50,188.21 L316.00,187.97 L316.50,187.05 L317.00,187.18 L317.50,186.95 L318.00,188.10 L318.50,187.22 L319.00,186.87 L319.50,188.08 L320.00,188.33 L320.50,186.15 L321.00,189.39 L321.50,187.81 L322.00,187.67 L322.50,188.76 L323.00,187.80 L323.50,187.15 L324.00,189.78 L324.50,186.68 L325.00,187.59 L325.50,188.48 L326.00,186.65 L326.50,187.56 L327.00,188.01 L327.50,189.91 L328.00,186.78 L328.50,187.57 L329.00,188.23 L329.50,187.68 L330.00,186.46 L330.50,187.97 L331.00,187.68 L331.50,187.99 L332.00,188.64 L332.50,188.52 L333.00,187.94 L333.50,187.84 L334.00,186.50 L334.50,187.41 L335.00,187.74 L335.50,187.15" fill="none" stroke="#f9a82a" stroke-width="2.0" stroke-linejoin="round" stroke-linecap="round" />
</g>
<rect x="49.00" y="20.20" width="286.40" height="243.10" fill="none" stroke="#1a1a1a" stroke-width="1.2"/>
<line x1="49.00" y1="100.70" x2="335.40" y2="100.70" stroke="#1a1a1a" stroke-width="1.2" />
<line x1="49.00" y1="182.30" x2="335.40" y2="182.30" stroke="#1a1a1a" stroke-width="1.2" />
<line x1="49.00" y1="41.10" x2="52.00" y2="41.10" stroke="#1a1a1a" stroke-width="1.2" />
<line x1="332.40" y1="41.10" x2="335.40" y2="41.10" stroke="#1a1a1a" stroke-width="1.2" />
<line x1="49.00" y1="63.00" x2="52.00" y2="63.00" stroke="#1a1a1a" stroke-width="1.2" />
<line x1="332.40" y1="63.00" x2="335.40" y2="63.00" stroke="#1a1a1a" stroke-width="1.2" />
<line x1="49.00" y1="84.30" x2="52.00" y2="84.30" stroke="#1a1a1a" stroke-width="1.2" />
<line x1="332.40" y1="84.30" x2="335.40" y2="84.30" stroke="#1a1a1a" stroke-width="1.2" />
<line x1="49.00" y1="125.00" x2="52.00" y2="125.00" stroke="#1a1a1a" stroke-width="1.2" />
<line x1="332.40" y1="125.00" x2="335.40" y2="125.00" stroke="#1a1a1a" stroke-width="1.2" />
<line x1="49.00" y1="150.00" x2="52.00" y2="150.00" stroke="#1a1a1a" stroke-width="1.2" />
<line x1="332.40" y1="150.00" x2="335.40" y2="150.00" stroke="#1a1a1a" stroke-width="1.2" />
<line x1="49.00" y1="174.40" x2="52.00" y2="174.40" stroke="#1a1a1a" stroke-width="1.2" />
<line x1="332.40" y1="174.40" x2="335.40" y2="174.40" stroke="#1a1a1a" stroke-width="1.2" />
<line x1="49.00" y1="200.30" x2="52.00" y2="200.30" stroke="#1a1a1a" stroke-width="1.2" />
<line x1="332.40" y1="200.30" x2="335.40" y2="200.30" stroke="#1a1a1a" stroke-width="1.2" />
<line x1="49.00" y1="219.20" x2="52.00" y2="219.20" stroke="#1a1a1a" stroke-width="1.2" />
<line x1="332.40" y1="219.20" x2="335.40" y2="219.20" stroke="#1a1a1a" stroke-width="1.2" />
<line x1="49.00" y1="238.00" x2="52.00" y2="238.00" stroke="#1a1a1a" stroke-width="1.2" />
<line x1="332.40" y1="238.00" x2="335.40" y2="238.00" stroke="#1a1a1a" stroke-width="1.2" />
<line x1="49.00" y1="256.90" x2="52.00" y2="256.90" stroke="#1a1a1a" stroke-width="1.2" />
<line x1="332.40" y1="256.90" x2="335.40" y2="256.90" stroke="#1a1a1a" stroke-width="1.2" />
<line x1="90.20" y1="100.70" x2="90.20" y2="97.70" stroke="#1a1a1a" stroke-width="1.2" />
<line x1="90.20" y1="20.20" x2="90.20" y2="23.20" stroke="#1a1a1a" stroke-width="1.2" />
<line x1="141.70" y1="100.70" x2="141.70" y2="97.70" stroke="#1a1a1a" stroke-width="1.2" />
<line x1="141.70" y1="20.20" x2="141.70" y2="23.20" stroke="#1a1a1a" stroke-width="1.2" />
<line x1="192.80" y1="100.70" x2="192.80" y2="97.70" stroke="#1a1a1a" stroke-width="1.2" />
<line x1="192.80" y1="20.20" x2="192.80" y2="23.20" stroke="#1a1a1a" stroke-width="1.2" />
<line x1="244.10" y1="100.70" x2="244.10" y2="97.70" stroke="#1a1a1a" stroke-width="1.2" />
<line x1="244.10" y1="20.20" x2="244.10" y2="23.20" stroke="#1a1a1a" stroke-width="1.2" />
<line x1="295.40" y1="100.70" x2="295.40" y2="97.70" stroke="#1a1a1a" stroke-width="1.2" />
<line x1="295.40" y1="20.20" x2="295.40" y2="23.20" stroke="#1a1a1a" stroke-width="1.2" />
<line x1="90.20" y1="182.30" x2="90.20" y2="179.30" stroke="#1a1a1a" stroke-width="1.2" />
<line x1="90.20" y1="100.70" x2="90.20" y2="103.70" stroke="#1a1a1a" stroke-width="1.2" />
<line x1="141.70" y1="182.30" x2="141.70" y2="179.30" stroke="#1a1a1a" stroke-width="1.2" />
<line x1="141.70" y1="100.70" x2="141.70" y2="103.70" stroke="#1a1a1a" stroke-width="1.2" />
<line x1="192.80" y1="182.30" x2="192.80" y2="179.30" stroke="#1a1a1a" stroke-width="1.2" />
<line x1="192.80" y1="100.70" x2="192.80" y2="103.70" stroke="#1a1a1a" stroke-width="1.2" />
<line x1="244.10" y1="182.30" x2="244.10" y2="179.30" stroke="#1a1a1a" stroke-width="1.2" />
<line x1="244.10" y1="100.70" x2="244.10" y2="103.70" stroke="#1a1a1a" stroke-width="1.2" />
<line x1="295.40" y1="182.30" x2="295.40" y2="179.30" stroke="#1a1a1a" stroke-width="1.2" />
<line x1="295.40" y1="100.70" x2="295.40" y2="103.70" stroke="#1a1a1a" stroke-width="1.2" />
<line x1="90.20" y1="263.30" x2="90.20" y2="260.30" stroke="#1a1a1a" stroke-width="1.2" />
<line x1="90.20" y1="182.30" x2="90.20" y2="185.30" stroke="#1a1a1a" stroke-width="1.2" />
<line x1="141.70" y1="263.30" x2="141.70" y2="260.30" stroke="#1a1a1a" stroke-width="1.2" />
<line x1="141.70" y1="182.30" x2="141.70" y2="185.30" stroke="#1a1a1a" stroke-width="1.2" />
<line x1="192.80" y1="263.30" x2="192.80" y2="260.30" stroke="#1a1a1a" stroke-width="1.2" />
<line x1="192.80" y1="182.30" x2="192.80" y2="185.30" stroke="#1a1a1a" stroke-width="1.2" />
<line x1="244.10" y1="263.30" x2="244.10" y2="260.30" stroke="#1a1a1a" stroke-width="1.2" />
<line x1="244.10" y1="182.30" x2="244.10" y2="185.30" stroke="#1a1a1a" stroke-width="1.2" />
<line x1="295.40" y1="263.30" x2="295.40" y2="260.30" stroke="#1a1a1a" stroke-width="1.2" />
<line x1="295.40" y1="182.30" x2="295.40" y2="185.30" stroke="#1a1a1a" stroke-width="1.2" />
<text x="45.40" y="25.20" font-size="14" text-anchor="end" fill="#000" >0</text>
<text x="45.40" y="68.00" font-size="14" text-anchor="end" fill="#000" >-15</text>
<text x="45.40" y="105.70" font-size="14" text-anchor="end" fill="#000" >0</text>
<text x="45.40" y="155.00" font-size="14" text-anchor="end" fill="#000" >-15</text>
<text x="45.40" y="187.30" font-size="14" text-anchor="end" fill="#000" >0</text>
<text x="45.40" y="224.20" font-size="14" text-anchor="end" fill="#000" >-15</text>
<text x="45.40" y="261.90" font-size="14" text-anchor="end" fill="#000" >-30</text>
<text x="90.60" y="277.60" font-size="14" text-anchor="middle" fill="#000" >1550.00</text>
<text x="192.80" y="277.60" font-size="14" text-anchor="middle" fill="#000" >1550.25</text>
<text x="295.40" y="277.60" font-size="14" text-anchor="middle" fill="#000" >1550.50</text>
<text x="192.90" y="297.60" font-size="17.3" text-anchor="middle" fill="#000" >Wavelength (nm)</text>
<text transform="translate(16.2,136.7) rotate(-90)" font-size="18.3" text-anchor="middle" fill="#000">Reflective spectra (dB)</text>
<line x1="186.00" y1="32.20" x2="215.50" y2="32.20" stroke="#3a0c0c" stroke-width="1.6" />
<text x="218.00" y="37.20" font-size="14" text-anchor="start" fill="#000" >0 Gs</text>
<line x1="260.60" y1="32.20" x2="289.30" y2="32.20" stroke="#9a1212" stroke-width="1.6" />
<text x="291.80" y="37.20" font-size="14" text-anchor="start" fill="#000" >20 Gs</text>
<line x1="186.00" y1="48.60" x2="215.50" y2="48.60" stroke="#e81c1c" stroke-width="1.6" />
<text x="218.00" y="53.60" font-size="14" text-anchor="start" fill="#000" >40 Gs</text>
<line x1="260.60" y1="48.60" x2="289.30" y2="48.60" stroke="#f26a1a" stroke-width="1.6" />
<text x="291.80" y="53.60" font-size="14" text-anchor="start" fill="#000" >60Gs</text>
<line x1="186.00" y1="65.00" x2="215.50" y2="65.00" stroke="#fca326" stroke-width="1.6" />
<text x="218.00" y="70.00" font-size="14" text-anchor="start" fill="#000" >80 Gs</text>
<text x="223.20" y="90.10" font-size="14" fill="#000"><tspan font-style="italic">D</tspan><tspan font-size="9.0" dx="0.6" dy="4.5">TR</tspan><tspan dy="-4.5"> = 1</tspan></text>
<text x="223.20" y="171.40" font-size="14" fill="#000"><tspan font-style="italic">D</tspan><tspan font-size="9.0" dx="0.6" dy="4.5">TR</tspan><tspan dy="-4.5"> = 8.3</tspan></text>
<text x="221.60" y="251.20" font-size="14" fill="#000"><tspan font-style="italic">D</tspan><tspan font-size="9.0" dx="0.6" dy="4.5">TR</tspan><tspan dy="-4.5"> = 13.5</tspan></text>
<text x="347.00" y="14.50" font-size="19.5" text-anchor="start" fill="#000" font-weight="bold">b</text>
<rect x="397.60" y="18.80" width="283.90" height="246.20" fill="none" stroke="#1a1a1a" stroke-width="1.2"/>
<line x1="410.30" y1="265.00" x2="410.30" y2="261.00" stroke="#1a1a1a" stroke-width="1.2" />
<line x1="410.30" y1="18.80" x2="410.30" y2="22.80" stroke="#1a1a1a" stroke-width="1.2" />
<line x1="475.05" y1="265.00" x2="475.05" y2="261.00" stroke="#1a1a1a" stroke-width="1.2" />
<line x1="475.05" y1="18.80" x2="475.05" y2="22.80" stroke="#1a1a1a" stroke-width="1.2" />
<line x1="539.80" y1="265.00" x2="539.80" y2="261.00" stroke="#1a1a1a" stroke-width="1.2" />
<line x1="539.80" y1="18.80" x2="539.80" y2="22.80" stroke="#1a1a1a" stroke-width="1.2" />
<line x1="604.55" y1="265.00" x2="604.55" y2="261.00" stroke="#1a1a1a" stroke-width="1.2" />
<line x1="604.55" y1="18.80" x2="604.55" y2="22.80" stroke="#1a1a1a" stroke-width="1.2" />
<line x1="669.30" y1="265.00" x2="669.30" y2="261.00" stroke="#1a1a1a" stroke-width="1.2" />
<line x1="669.30" y1="18.80" x2="669.30" y2="22.80" stroke="#1a1a1a" stroke-width="1.2" />
<line x1="442.68" y1="265.00" x2="442.68" y2="262.50" stroke="#1a1a1a" stroke-width="1.2" />
<line x1="442.68" y1="18.80" x2="442.68" y2="21.30" stroke="#1a1a1a" stroke-width="1.2" />
<line x1="507.43" y1="265.00" x2="507.43" y2="262.50" stroke="#1a1a1a" stroke-width="1.2" />
<line x1="507.43" y1="18.80" x2="507.43" y2="21.30" stroke="#1a1a1a" stroke-width="1.2" />
<line x1="572.17" y1="265.00" x2="572.17" y2="262.50" stroke="#1a1a1a" stroke-width="1.2" />
<line x1="572.17" y1="18.80" x2="572.17" y2="21.30" stroke="#1a1a1a" stroke-width="1.2" />
<line x1="636.92" y1="265.00" x2="636.92" y2="262.50" stroke="#1a1a1a" stroke-width="1.2" />
<line x1="636.92" y1="18.80" x2="636.92" y2="21.30" stroke="#1a1a1a" stroke-width="1.2" />
<line x1="397.60" y1="250.20" x2="401.60" y2="250.20" stroke="#1a1a1a" stroke-width="1.2" />
<line x1="677.50" y1="250.20" x2="681.50" y2="250.20" stroke="#1a1a1a" stroke-width="1.2" />
<line x1="397.60" y1="192.40" x2="401.60" y2="192.40" stroke="#1a1a1a" stroke-width="1.2" />
<line x1="677.50" y1="192.40" x2="681.50" y2="192.40" stroke="#1a1a1a" stroke-width="1.2" />
<line x1="397.60" y1="134.60" x2="401.60" y2="134.60" stroke="#1a1a1a" stroke-width="1.2" />
<line x1="677.50" y1="134.60" x2="681.50" y2="134.60" stroke="#1a1a1a" stroke-width="1.2" />
<line x1="397.60" y1="76.80" x2="401.60" y2="76.80" stroke="#1a1a1a" stroke-width="1.2" />
<line x1="677.50" y1="76.80" x2="681.50" y2="76.80" stroke="#1a1a1a" stroke-width="1.2" />
<line x1="397.60" y1="19.00" x2="401.60" y2="19.00" stroke="#1a1a1a" stroke-width="1.2" />
<line x1="677.50" y1="19.00" x2="681.50" y2="19.00" stroke="#1a1a1a" stroke-width="1.2" />
<line x1="397.60" y1="221.30" x2="400.10" y2="221.30" stroke="#1a1a1a" stroke-width="1.2" />
<line x1="679.00" y1="221.30" x2="681.50" y2="221.30" stroke="#1a1a1a" stroke-width="1.2" />
<line x1="397.60" y1="163.50" x2="400.10" y2="163.50" stroke="#1a1a1a" stroke-width="1.2" />
<line x1="679.00" y1="163.50" x2="681.50" y2="163.50" stroke="#1a1a1a" stroke-width="1.2" />
<line x1="397.60" y1="105.70" x2="400.10" y2="105.70" stroke="#1a1a1a" stroke-width="1.2" />
<line x1="679.00" y1="105.70" x2="681.50" y2="105.70" stroke="#1a1a1a" stroke-width="1.2" />
<line x1="397.60" y1="47.90" x2="400.10" y2="47.90" stroke="#1a1a1a" stroke-width="1.2" />
<line x1="679.00" y1="47.90" x2="681.50" y2="47.90" stroke="#1a1a1a" stroke-width="1.2" />
<text x="392.50" y="255.20" font-size="14" text-anchor="end" fill="#000" >0.0</text>
<text x="392.50" y="197.40" font-size="14" text-anchor="end" fill="#000" >0.2</text>
<text x="392.50" y="139.60" font-size="14" text-anchor="end" fill="#000" >0.4</text>
<text x="392.50" y="81.80" font-size="14" text-anchor="end" fill="#000" >0.6</text>
<text x="392.50" y="24.00" font-size="14" text-anchor="end" fill="#000" >0.8</text>
<text x="410.30" y="280.00" font-size="14" text-anchor="middle" fill="#000" >0</text>
<text x="475.05" y="280.00" font-size="14" text-anchor="middle" fill="#000" >25</text>
<text x="539.80" y="280.00" font-size="14" text-anchor="middle" fill="#000" >50</text>
<text x="604.55" y="280.00" font-size="14" text-anchor="middle" fill="#000" >75</text>
<text x="669.30" y="280.00" font-size="14" text-anchor="middle" fill="#000" >100</text>
<text x="539.80" y="297.30" font-size="17.4" text-anchor="middle" fill="#000" >Magnetic filed (Gs)</text>
<text transform="translate(363.2,143) rotate(-90)" font-size="17.3" text-anchor="middle" fill="#000">Wavelength shift (nm)</text>
<path d="M410.30,250.20 L423.25,250.20 L436.20,250.20 L449.15,250.20 L462.10,250.20 L475.05,250.20 L488.00,250.20 L500.95,250.20 L513.90,250.20 L526.85,250.20 L539.80,250.20 L552.75,250.20 L565.70,250.20 L578.65,250.20 L591.60,250.20 L604.55,250.20 L617.50,250.20 L630.45,250.20 L643.40,250.20 L656.35,250.20 L669.30,250.20" fill="none" stroke="#5ea222" stroke-width="1.3" stroke-linejoin="round" stroke-linecap="round" />
<circle cx="410.30" cy="250.20" r="2.60" fill="#d6e7c7" stroke="#5ea222" stroke-width="1.6"/>
<line x1="410.30" y1="248.38" x2="410.30" y2="252.02" stroke="#5ea222" stroke-width="1.0" />
<circle cx="423.25" cy="250.20" r="2.60" fill="#d6e7c7" stroke="#5ea222" stroke-width="1.6"/>
<line x1="423.25" y1="248.38" x2="423.25" y2="252.02" stroke="#5ea222" stroke-width="1.0" />
<circle cx="436.20" cy="250.20" r="2.60" fill="#d6e7c7" stroke="#5ea222" stroke-width="1.6"/>
<line x1="436.20" y1="248.38" x2="436.20" y2="252.02" stroke="#5ea222" stroke-width="1.0" />
<circle cx="449.15" cy="250.20" r="2.60" fill="#d6e7c7" stroke="#5ea222" stroke-width="1.6"/>
<line x1="449.15" y1="248.38" x2="449.15" y2="252.02" stroke="#5ea222" stroke-width="1.0" />
<circle cx="462.10" cy="250.20" r="2.60" fill="#d6e7c7" stroke="#5ea222" stroke-width="1.6"/>
<line x1="462.10" y1="248.38" x2="462.10" y2="252.02" stroke="#5ea222" stroke-width="1.0" />
<circle cx="475.05" cy="250.20" r="2.60" fill="#d6e7c7" stroke="#5ea222" stroke-width="1.6"/>
<line x1="475.05" y1="248.38" x2="475.05" y2="252.02" stroke="#5ea222" stroke-width="1.0" />
<circle cx="488.00" cy="250.20" r="2.60" fill="#d6e7c7" stroke="#5ea222" stroke-width="1.6"/>
<line x1="488.00" y1="248.38" x2="488.00" y2="252.02" stroke="#5ea222" stroke-width="1.0" />
<circle cx="500.95" cy="250.20" r="2.60" fill="#d6e7c7" stroke="#5ea222" stroke-width="1.6"/>
<line x1="500.95" y1="248.38" x2="500.95" y2="252.02" stroke="#5ea222" stroke-width="1.0" />
<circle cx="513.90" cy="250.20" r="2.60" fill="#d6e7c7" stroke="#5ea222" stroke-width="1.6"/>
<line x1="513.90" y1="248.38" x2="513.90" y2="252.02" stroke="#5ea222" stroke-width="1.0" />
<circle cx="526.85" cy="250.20" r="2.60" fill="#d6e7c7" stroke="#5ea222" stroke-width="1.6"/>
<line x1="526.85" y1="248.38" x2="526.85" y2="252.02" stroke="#5ea222" stroke-width="1.0" />
<circle cx="539.80" cy="250.20" r="2.60" fill="#d6e7c7" stroke="#5ea222" stroke-width="1.6"/>
<line x1="539.80" y1="248.38" x2="539.80" y2="252.02" stroke="#5ea222" stroke-width="1.0" />
<circle cx="552.75" cy="250.20" r="2.60" fill="#d6e7c7" stroke="#5ea222" stroke-width="1.6"/>
<line x1="552.75" y1="248.38" x2="552.75" y2="252.02" stroke="#5ea222" stroke-width="1.0" />
<circle cx="565.70" cy="250.20" r="2.60" fill="#d6e7c7" stroke="#5ea222" stroke-width="1.6"/>
<line x1="565.70" y1="248.38" x2="565.70" y2="252.02" stroke="#5ea222" stroke-width="1.0" />
<circle cx="578.65" cy="250.20" r="2.60" fill="#d6e7c7" stroke="#5ea222" stroke-width="1.6"/>
<line x1="578.65" y1="248.38" x2="578.65" y2="252.02" stroke="#5ea222" stroke-width="1.0" />
<circle cx="591.60" cy="250.20" r="2.60" fill="#d6e7c7" stroke="#5ea222" stroke-width="1.6"/>
<line x1="591.60" y1="248.38" x2="591.60" y2="252.02" stroke="#5ea222" stroke-width="1.0" />
<circle cx="604.55" cy="250.20" r="2.60" fill="#d6e7c7" stroke="#5ea222" stroke-width="1.6"/>
<line x1="604.55" y1="248.38" x2="604.55" y2="252.02" stroke="#5ea222" stroke-width="1.0" />
<circle cx="617.50" cy="250.20" r="2.60" fill="#d6e7c7" stroke="#5ea222" stroke-width="1.6"/>
<line x1="617.50" y1="248.38" x2="617.50" y2="252.02" stroke="#5ea222" stroke-width="1.0" />
<circle cx="630.45" cy="250.20" r="2.60" fill="#d6e7c7" stroke="#5ea222" stroke-width="1.6"/>
<line x1="630.45" y1="248.38" x2="630.45" y2="252.02" stroke="#5ea222" stroke-width="1.0" />
<circle cx="643.40" cy="250.20" r="2.60" fill="#d6e7c7" stroke="#5ea222" stroke-width="1.6"/>
<line x1="643.40" y1="248.38" x2="643.40" y2="252.02" stroke="#5ea222" stroke-width="1.0" />
<circle cx="656.35" cy="250.20" r="2.60" fill="#d6e7c7" stroke="#5ea222" stroke-width="1.6"/>
<line x1="656.35" y1="248.38" x2="656.35" y2="252.02" stroke="#5ea222" stroke-width="1.0" />
<circle cx="669.30" cy="250.20" r="2.60" fill="#d6e7c7" stroke="#5ea222" stroke-width="1.6"/>
<line x1="669.30" y1="248.38" x2="669.30" y2="252.02" stroke="#5ea222" stroke-width="1.0" />
<path d="M410.30,250.20 L423.25,250.20 L436.20,250.06 L449.15,249.91 L462.10,249.77 L475.05,249.62 L488.00,249.34 L500.95,248.62 L513.90,247.90 L526.85,247.21 L539.80,246.46 L552.75,246.17 L565.70,245.02 L578.65,243.93 L591.60,242.83 L604.55,241.74 L617.50,240.70 L630.45,239.92 L643.40,238.97 L656.35,238.11 L669.30,237.45" fill="none" stroke="#3aa8f0" stroke-width="1.3" stroke-linejoin="round" stroke-linecap="round" />
<rect x="407.60" y="247.50" width="5.40" height="5.40" fill="#cde9fb" stroke="#3aa8f0" stroke-width="1.7"/>
<line x1="410.30" y1="248.31" x2="410.30" y2="252.09" stroke="#3aa8f0" stroke-width="1.0" />
<rect x="420.55" y="247.50" width="5.40" height="5.40" fill="#cde9fb" stroke="#3aa8f0" stroke-width="1.7"/>
<line x1="423.25" y1="248.31" x2="423.25" y2="252.09" stroke="#3aa8f0" stroke-width="1.0" />
<rect x="433.50" y="247.36" width="5.40" height="5.40" fill="#cde9fb" stroke="#3aa8f0" stroke-width="1.7"/>
<line x1="436.20" y1="248.17" x2="436.20" y2="251.95" stroke="#3aa8f0" stroke-width="1.0" />
<rect x="446.45" y="247.21" width="5.40" height="5.40" fill="#cde9fb" stroke="#3aa8f0" stroke-width="1.7"/>
<line x1="449.15" y1="248.02" x2="449.15" y2="251.80" stroke="#3aa8f0" stroke-width="1.0" />
<rect x="459.40" y="247.07" width="5.40" height="5.40" fill="#cde9fb" stroke="#3aa8f0" stroke-width="1.7"/>
<line x1="462.10" y1="247.88" x2="462.10" y2="251.66" stroke="#3aa8f0" stroke-width="1.0" />
<rect x="472.35" y="246.92" width="5.40" height="5.40" fill="#cde9fb" stroke="#3aa8f0" stroke-width="1.7"/>
<line x1="475.05" y1="247.73" x2="475.05" y2="251.51" stroke="#3aa8f0" stroke-width="1.0" />
<rect x="485.30" y="246.64" width="5.40" height="5.40" fill="#cde9fb" stroke="#3aa8f0" stroke-width="1.7"/>
<line x1="488.00" y1="247.45" x2="488.00" y2="251.23" stroke="#3aa8f0" stroke-width="1.0" />
<rect x="498.25" y="245.92" width="5.40" height="5.40" fill="#cde9fb" stroke="#3aa8f0" stroke-width="1.7"/>
<line x1="500.95" y1="246.73" x2="500.95" y2="250.51" stroke="#3aa8f0" stroke-width="1.0" />
<rect x="511.20" y="245.20" width="5.40" height="5.40" fill="#cde9fb" stroke="#3aa8f0" stroke-width="1.7"/>
<line x1="513.90" y1="246.01" x2="513.90" y2="249.79" stroke="#3aa8f0" stroke-width="1.0" />
<rect x="524.15" y="244.51" width="5.40" height="5.40" fill="#cde9fb" stroke="#3aa8f0" stroke-width="1.7"/>
<line x1="526.85" y1="245.32" x2="526.85" y2="249.10" stroke="#3aa8f0" stroke-width="1.0" />
<rect x="537.10" y="243.76" width="5.40" height="5.40" fill="#cde9fb" stroke="#3aa8f0" stroke-width="1.7"/>
<line x1="539.80" y1="244.57" x2="539.80" y2="248.35" stroke="#3aa8f0" stroke-width="1.0" />
<rect x="550.05" y="243.47" width="5.40" height="5.40" fill="#cde9fb" stroke="#3aa8f0" stroke-width="1.7"/>
<line x1="552.75" y1="244.28" x2="552.75" y2="248.06" stroke="#3aa8f0" stroke-width="1.0" />
<rect x="563.00" y="242.32" width="5.40" height="5.40" fill="#cde9fb" stroke="#3aa8f0" stroke-width="1.7"/>
<line x1="565.70" y1="243.13" x2="565.70" y2="246.91" stroke="#3aa8f0" stroke-width="1.0" />
<rect x="575.95" y="241.23" width="5.40" height="5.40" fill="#cde9fb" stroke="#3aa8f0" stroke-width="1.7"/>
<line x1="578.65" y1="242.04" x2="578.65" y2="245.82" stroke="#3aa8f0" stroke-width="1.0" />
<rect x="588.90" y="240.13" width="5.40" height="5.40" fill="#cde9fb" stroke="#3aa8f0" stroke-width="1.7"/>
<line x1="591.60" y1="240.94" x2="591.60" y2="244.72" stroke="#3aa8f0" stroke-width="1.0" />
<rect x="601.85" y="239.04" width="5.40" height="5.40" fill="#cde9fb" stroke="#3aa8f0" stroke-width="1.7"/>
<line x1="604.55" y1="239.85" x2="604.55" y2="243.63" stroke="#3aa8f0" stroke-width="1.0" />
<rect x="614.80" y="238.00" width="5.40" height="5.40" fill="#cde9fb" stroke="#3aa8f0" stroke-width="1.7"/>
<line x1="617.50" y1="238.81" x2="617.50" y2="242.59" stroke="#3aa8f0" stroke-width="1.0" />
<rect x="627.75" y="237.22" width="5.40" height="5.40" fill="#cde9fb" stroke="#3aa8f0" stroke-width="1.7"/>
<line x1="630.45" y1="238.03" x2="630.45" y2="241.81" stroke="#3aa8f0" stroke-width="1.0" />
<rect x="640.70" y="236.27" width="5.40" height="5.40" fill="#cde9fb" stroke="#3aa8f0" stroke-width="1.7"/>
<line x1="643.40" y1="237.08" x2="643.40" y2="240.86" stroke="#3aa8f0" stroke-width="1.0" />
<rect x="653.65" y="235.41" width="5.40" height="5.40" fill="#cde9fb" stroke="#3aa8f0" stroke-width="1.7"/>
<line x1="656.35" y1="236.22" x2="656.35" y2="240.00" stroke="#3aa8f0" stroke-width="1.0" />
<rect x="666.60" y="234.75" width="5.40" height="5.40" fill="#cde9fb" stroke="#3aa8f0" stroke-width="1.7"/>
<line x1="669.30" y1="235.56" x2="669.30" y2="239.34" stroke="#3aa8f0" stroke-width="1.0" />
<path d="M410.30,250.20 L423.25,249.34 L436.20,249.05 L449.15,246.75 L462.10,244.16 L475.05,239.84 L488.00,234.08 L500.95,229.19 L513.90,223.09 L526.85,216.61 L539.80,209.44 L552.75,202.25 L565.70,195.08 L578.65,187.10 L591.60,179.62 L604.55,172.05 L617.50,164.48 L630.45,156.59 L643.40,149.02 L656.35,141.83 L669.30,133.16" fill="none" stroke="#f41a1a" stroke-width="1.3" stroke-linejoin="round" stroke-linecap="round" />
<circle cx="410.30" cy="250.20" r="3.20" fill="#fcc5c5" stroke="#f41a1a" stroke-width="1.8"/>
<line x1="410.30" y1="247.96" x2="410.30" y2="252.44" stroke="#f41a1a" stroke-width="1.0" />
<circle cx="423.25" cy="249.34" r="3.20" fill="#fcc5c5" stroke="#f41a1a" stroke-width="1.8"/>
<line x1="423.25" y1="247.10" x2="423.25" y2="251.58" stroke="#f41a1a" stroke-width="1.0" />
<circle cx="436.20" cy="249.05" r="3.20" fill="#fcc5c5" stroke="#f41a1a" stroke-width="1.8"/>
<line x1="436.20" y1="246.81" x2="436.20" y2="251.29" stroke="#f41a1a" stroke-width="1.0" />
<circle cx="449.15" cy="246.75" r="3.20" fill="#fcc5c5" stroke="#f41a1a" stroke-width="1.8"/>
<line x1="449.15" y1="244.51" x2="449.15" y2="248.99" stroke="#f41a1a" stroke-width="1.0" />
<circle cx="462.10" cy="244.16" r="3.20" fill="#fcc5c5" stroke="#f41a1a" stroke-width="1.8"/>
<line x1="462.10" y1="241.92" x2="462.10" y2="246.40" stroke="#f41a1a" stroke-width="1.0" />
<circle cx="475.05" cy="239.84" r="3.20" fill="#fcc5c5" stroke="#f41a1a" stroke-width="1.8"/>
<line x1="475.05" y1="237.60" x2="475.05" y2="242.08" stroke="#f41a1a" stroke-width="1.0" />
<circle cx="488.00" cy="234.08" r="3.20" fill="#fcc5c5" stroke="#f41a1a" stroke-width="1.8"/>
<line x1="488.00" y1="231.84" x2="488.00" y2="236.32" stroke="#f41a1a" stroke-width="1.0" />
<circle cx="500.95" cy="229.19" r="3.20" fill="#fcc5c5" stroke="#f41a1a" stroke-width="1.8"/>
<line x1="500.95" y1="226.95" x2="500.95" y2="231.43" stroke="#f41a1a" stroke-width="1.0" />
<circle cx="513.90" cy="223.09" r="3.20" fill="#fcc5c5" stroke="#f41a1a" stroke-width="1.8"/>
<line x1="513.90" y1="220.85" x2="513.90" y2="225.33" stroke="#f41a1a" stroke-width="1.0" />
<circle cx="526.85" cy="216.61" r="3.20" fill="#fcc5c5" stroke="#f41a1a" stroke-width="1.8"/>
<line x1="526.85" y1="214.37" x2="526.85" y2="218.85" stroke="#f41a1a" stroke-width="1.0" />
<circle cx="539.80" cy="209.44" r="3.20" fill="#fcc5c5" stroke="#f41a1a" stroke-width="1.8"/>
<line x1="539.80" y1="207.20" x2="539.80" y2="211.68" stroke="#f41a1a" stroke-width="1.0" />
<circle cx="552.75" cy="202.25" r="3.20" fill="#fcc5c5" stroke="#f41a1a" stroke-width="1.8"/>
<line x1="552.75" y1="200.01" x2="552.75" y2="204.49" stroke="#f41a1a" stroke-width="1.0" />
<circle cx="565.70" cy="195.08" r="3.20" fill="#fcc5c5" stroke="#f41a1a" stroke-width="1.8"/>
<line x1="565.70" y1="192.84" x2="565.70" y2="197.32" stroke="#f41a1a" stroke-width="1.0" />
<circle cx="578.65" cy="187.10" r="3.20" fill="#fcc5c5" stroke="#f41a1a" stroke-width="1.8"/>
<line x1="578.65" y1="184.86" x2="578.65" y2="189.34" stroke="#f41a1a" stroke-width="1.0" />
<circle cx="591.60" cy="179.62" r="3.20" fill="#fcc5c5" stroke="#f41a1a" stroke-width="1.8"/>
<line x1="591.60" y1="177.38" x2="591.60" y2="181.86" stroke="#f41a1a" stroke-width="1.0" />
<circle cx="604.55" cy="172.05" r="3.20" fill="#fcc5c5" stroke="#f41a1a" stroke-width="1.8"/>
<line x1="604.55" y1="169.81" x2="604.55" y2="174.29" stroke="#f41a1a" stroke-width="1.0" />
<circle cx="617.50" cy="164.48" r="3.20" fill="#fcc5c5" stroke="#f41a1a" stroke-width="1.8"/>
<line x1="617.50" y1="162.24" x2="617.50" y2="166.72" stroke="#f41a1a" stroke-width="1.0" />
<circle cx="630.45" cy="156.59" r="3.20" fill="#fcc5c5" stroke="#f41a1a" stroke-width="1.8"/>
<line x1="630.45" y1="154.35" x2="630.45" y2="158.83" stroke="#f41a1a" stroke-width="1.0" />
<circle cx="643.40" cy="149.02" r="3.20" fill="#fcc5c5" stroke="#f41a1a" stroke-width="1.8"/>
<line x1="643.40" y1="146.78" x2="643.40" y2="151.26" stroke="#f41a1a" stroke-width="1.0" />
<circle cx="656.35" cy="141.83" r="3.20" fill="#fcc5c5" stroke="#f41a1a" stroke-width="1.8"/>
<line x1="656.35" y1="139.59" x2="656.35" y2="144.07" stroke="#f41a1a" stroke-width="1.0" />
<circle cx="669.30" cy="133.16" r="3.20" fill="#fcc5c5" stroke="#f41a1a" stroke-width="1.8"/>
<line x1="669.30" y1="130.92" x2="669.30" y2="135.40" stroke="#f41a1a" stroke-width="1.0" />
<path d="M410.30,250.20 L423.25,248.76 L436.20,246.60 L449.15,243.72 L462.10,240.13 L475.05,233.51 L488.00,225.45 L500.95,215.51 L513.90,204.72 L526.85,193.98 L539.80,181.69 L552.75,169.89 L565.70,158.38 L578.65,145.83 L591.60,133.16 L604.55,120.61 L617.50,108.03 L630.45,96.20 L643.40,83.62 L656.35,70.67 L669.30,56.60" fill="none" stroke="#a650f2" stroke-width="1.3" stroke-linejoin="round" stroke-linecap="round" />
<path d="M410.30,246.70 L413.80,250.20 L410.30,253.70 L406.80,250.20 Z" fill="#e8d3fb" stroke="#a650f2" stroke-width="1.8"/>
<line x1="410.30" y1="247.75" x2="410.30" y2="252.65" stroke="#a650f2" stroke-width="1.0" />
<path d="M423.25,245.26 L426.75,248.76 L423.25,252.26 L419.75,248.76 Z" fill="#e8d3fb" stroke="#a650f2" stroke-width="1.8"/>
<line x1="423.25" y1="246.31" x2="423.25" y2="251.21" stroke="#a650f2" stroke-width="1.0" />
<path d="M436.20,243.10 L439.70,246.60 L436.20,250.10 L432.70,246.60 Z" fill="#e8d3fb" stroke="#a650f2" stroke-width="1.8"/>
<line x1="436.20" y1="244.15" x2="436.20" y2="249.05" stroke="#a650f2" stroke-width="1.0" />
<path d="M449.15,240.22 L452.65,243.72 L449.15,247.22 L445.65,243.72 Z" fill="#e8d3fb" stroke="#a650f2" stroke-width="1.8"/>
<line x1="449.15" y1="241.27" x2="449.15" y2="246.17" stroke="#a650f2" stroke-width="1.0" />
<path d="M462.10,236.63 L465.60,240.13 L462.10,243.63 L458.60,240.13 Z" fill="#e8d3fb" stroke="#a650f2" stroke-width="1.8"/>
<line x1="462.10" y1="237.68" x2="462.10" y2="242.58" stroke="#a650f2" stroke-width="1.0" />
<path d="M475.05,230.01 L478.55,233.51 L475.05,237.01 L471.55,233.51 Z" fill="#e8d3fb" stroke="#a650f2" stroke-width="1.8"/>
<line x1="475.05" y1="231.06" x2="475.05" y2="235.96" stroke="#a650f2" stroke-width="1.0" />
<path d="M488.00,221.95 L491.50,225.45 L488.00,228.95 L484.50,225.45 Z" fill="#e8d3fb" stroke="#a650f2" stroke-width="1.8"/>
<line x1="488.00" y1="223.00" x2="488.00" y2="227.90" stroke="#a650f2" stroke-width="1.0" />
<path d="M500.95,212.01 L504.45,215.51 L500.95,219.01 L497.45,215.51 Z" fill="#e8d3fb" stroke="#a650f2" stroke-width="1.8"/>
<line x1="500.95" y1="213.06" x2="500.95" y2="217.96" stroke="#a650f2" stroke-width="1.0" />
<path d="M513.90,201.22 L517.40,204.72 L513.90,208.22 L510.40,204.72 Z" fill="#e8d3fb" stroke="#a650f2" stroke-width="1.8"/>
<line x1="513.90" y1="202.27" x2="513.90" y2="207.17" stroke="#a650f2" stroke-width="1.0" />
<path d="M526.85,190.48 L530.35,193.98 L526.85,197.48 L523.35,193.98 Z" fill="#e8d3fb" stroke="#a650f2" stroke-width="1.8"/>
<line x1="526.85" y1="191.53" x2="526.85" y2="196.43" stroke="#a650f2" stroke-width="1.0" />
<path d="M539.80,178.19 L543.30,181.69 L539.80,185.19 L536.30,181.69 Z" fill="#e8d3fb" stroke="#a650f2" stroke-width="1.8"/>
<line x1="539.80" y1="179.24" x2="539.80" y2="184.14" stroke="#a650f2" stroke-width="1.0" />
<path d="M552.75,166.39 L556.25,169.89 L552.75,173.39 L549.25,169.89 Z" fill="#e8d3fb" stroke="#a650f2" stroke-width="1.8"/>
<line x1="552.75" y1="167.44" x2="552.75" y2="172.34" stroke="#a650f2" stroke-width="1.0" />
<path d="M565.70,154.88 L569.20,158.38 L565.70,161.88 L562.20,158.38 Z" fill="#e8d3fb" stroke="#a650f2" stroke-width="1.8"/>
<line x1="565.70" y1="155.93" x2="565.70" y2="160.83" stroke="#a650f2" stroke-width="1.0" />
<path d="M578.65,142.33 L582.15,145.83 L578.65,149.33 L575.15,145.83 Z" fill="#e8d3fb" stroke="#a650f2" stroke-width="1.8"/>
<line x1="578.65" y1="143.38" x2="578.65" y2="148.28" stroke="#a650f2" stroke-width="1.0" />
<path d="M591.60,129.66 L595.10,133.16 L591.60,136.66 L588.10,133.16 Z" fill="#e8d3fb" stroke="#a650f2" stroke-width="1.8"/>
<line x1="591.60" y1="130.71" x2="591.60" y2="135.61" stroke="#a650f2" stroke-width="1.0" />
<path d="M604.55,117.11 L608.05,120.61 L604.55,124.11 L601.05,120.61 Z" fill="#e8d3fb" stroke="#a650f2" stroke-width="1.8"/>
<line x1="604.55" y1="118.16" x2="604.55" y2="123.06" stroke="#a650f2" stroke-width="1.0" />
<path d="M617.50,104.53 L621.00,108.03 L617.50,111.53 L614.00,108.03 Z" fill="#e8d3fb" stroke="#a650f2" stroke-width="1.8"/>
<line x1="617.50" y1="105.58" x2="617.50" y2="110.48" stroke="#a650f2" stroke-width="1.0" />
<path d="M630.45,92.70 L633.95,96.20 L630.45,99.70 L626.95,96.20 Z" fill="#e8d3fb" stroke="#a650f2" stroke-width="1.8"/>
<line x1="630.45" y1="93.75" x2="630.45" y2="98.65" stroke="#a650f2" stroke-width="1.0" />
<path d="M643.40,80.12 L646.90,83.62 L643.40,87.12 L639.90,83.62 Z" fill="#e8d3fb" stroke="#a650f2" stroke-width="1.8"/>
<line x1="643.40" y1="81.17" x2="643.40" y2="86.07" stroke="#a650f2" stroke-width="1.0" />
<path d="M656.35,67.17 L659.85,70.67 L656.35,74.17 L652.85,70.67 Z" fill="#e8d3fb" stroke="#a650f2" stroke-width="1.8"/>
<line x1="656.35" y1="68.22" x2="656.35" y2="73.12" stroke="#a650f2" stroke-width="1.0" />
<path d="M669.30,53.10 L672.80,56.60 L669.30,60.10 L665.80,56.60 Z" fill="#e8d3fb" stroke="#a650f2" stroke-width="1.8"/>
<line x1="669.30" y1="54.15" x2="669.30" y2="59.05" stroke="#a650f2" stroke-width="1.0" />
<line x1="412.00" y1="40.20" x2="437.00" y2="40.20" stroke="#3aa8f0" stroke-width="1.2" />
<rect x="421.80" y="37.40" width="5.60" height="5.60" fill="#cde9fb" stroke="#3aa8f0" stroke-width="1.5"/>
<text x="442.60" y="45.20" font-size="14" fill="#000"><tspan font-style="italic">D</tspan><tspan font-size="9.0" dx="0.6" dy="4.5">TR</tspan><tspan dy="-4.5"> = 1</tspan></text>
<line x1="412.00" y1="61.20" x2="437.00" y2="61.20" stroke="#f41a1a" stroke-width="1.2" />
<circle cx="424.60" cy="61.20" r="3.30" fill="#fcc5c5" stroke="#f41a1a" stroke-width="1.5"/>
<text x="442.60" y="66.20" font-size="14" fill="#000"><tspan font-style="italic">D</tspan><tspan font-size="9.0" dx="0.6" dy="4.5">TR</tspan><tspan dy="-4.5"> = 8.3</tspan></text>
<line x1="412.00" y1="82.80" x2="437.00" y2="82.80" stroke="#a650f2" stroke-width="1.2" />
<path d="M424.60,79.00 L428.40,82.80 L424.60,86.60 L420.80,82.80 Z" fill="#e8d3fb" stroke="#a650f2" stroke-width="1.5"/>
<text x="442.60" y="87.80" font-size="14" fill="#000"><tspan font-style="italic">D</tspan><tspan font-size="9.0" dx="0.6" dy="4.5">TR</tspan><tspan dy="-4.5"> = 13.5</tspan></text>
<line x1="412.00" y1="104.50" x2="437.00" y2="104.50" stroke="#5ea222" stroke-width="1.2" />
<circle cx="424.60" cy="104.50" r="2.50" fill="#d6e7c7" stroke="#5ea222" stroke-width="1.5"/>
<text x="442.6" y="109.50" font-size="14" fill="#000">D<tspan font-size="9" dx="0.6" dy="4.5">TR</tspan><tspan dy="-4.5"> = 13.5 and B</tspan><tspan font-size="10" fill="#999" dx="0.5" dy="1">⊥</tspan></text>
<text x="5.00" y="317.00" font-size="19.5" text-anchor="start" fill="#000" font-weight="bold">c</text>
<g clip-path="url(#clipC1)">
<path d="M50.20,360.01 L50.90,351.18 L51.60,349.21 L52.30,347.70 L53.00,344.22 L53.70,345.84 L54.40,356.04 L55.10,368.59 L55.80,365.87 L56.50,358.19 L57.20,356.07 L57.90,366.53 L58.60,371.09 L59.30,368.75 L60.00,366.16 L60.70,371.33 L61.40,377.00 L62.10,384.57 L62.80,388.33 L63.50,391.20 L64.20,389.58 L64.90,391.66 L65.60,390.98 L66.30,391.48 L67.00,389.33 L67.70,386.31 L68.40,378.65 L69.10,377.91 L69.80,375.37 L70.50,383.37 L71.20,387.98 L71.90,396.32 L72.60,398.11 L73.30,399.72 L74.00,393.95 L74.70,395.54 L75.40,396.99 L76.10,398.44 L76.80,402.21 L77.50,403.59 L78.20,401.48 L78.90,400.75 L79.60,397.09 L80.30,395.52 L81.00,393.91 L81.70,395.60 L82.40,401.50 L83.10,401.89 L83.80,401.15 L84.50,399.12 L85.20,397.64 L85.90,398.94 L86.60,395.22 L87.30,394.49 L88.00,394.43 L88.70,393.15 L89.40,394.94 L90.10,389.49 L90.80,391.99 L91.50,392.11 L92.20,390.24 L92.90,391.73 L93.60,394.33 L94.30,397.05 L95.00,395.21 L95.70,394.59 L96.40,396.76 L97.10,396.28 L97.80,392.96 L98.50,389.70 L99.20,392.87 L99.90,390.79 L100.60,392.99 L101.30,393.27 L102.00,394.84 L102.70,396.63 L103.40,400.10 L104.10,400.86 L104.80,397.71 L105.50,399.76 L106.20,403.41 L106.90,401.63 L107.60,401.00 L108.30,402.82 L109.00,402.86 L109.70,402.89 L110.40,402.47 L111.10,402.66 L111.80,402.50 L112.50,403.37 L113.20,402.11 L113.90,402.68 L114.60,402.84 L115.30,404.44 L116.00,403.41 L116.70,402.88 L117.40,403.47 L118.10,403.04 L118.80,403.39 L119.50,402.27 L120.20,403.16 L120.90,402.14 L121.60,400.13 L122.30,399.30 L123.00,400.43 L123.70,399.88 L124.40,399.27 L125.10,398.07 L125.80,398.19 L126.50,401.21 L127.20,402.33 L127.90,402.98 L128.60,401.19 L129.30,404.07 L130.00,402.41 L130.70,403.38 L131.40,403.32 L132.10,401.84 L132.80,401.90 L133.50,400.06 L134.20,401.10 L134.90,399.87 L135.60,402.07 L136.30,401.39 L137.00,402.05 L137.70,401.17 L138.40,399.83 L139.10,400.67 L139.80,399.65 L140.50,400.57 L141.20,400.10 L141.90,398.57 L142.60,399.61 L143.30,399.66 L144.00,399.27 L144.70,400.60 L145.40,401.52 L146.10,399.25 L146.80,399.29 L147.50,397.23 L148.20,399.59 L148.90,399.28 L149.60,397.42 L150.30,400.16 L151.00,400.54 L151.70,399.12 L152.40,399.57 L153.10,398.97 L153.80,400.92 L154.50,398.47 L155.20,399.85 L155.90,402.40 L156.60,400.36 L157.30,400.88 L158.00,400.26 L158.70,399.19 L159.40,400.51 L160.10,401.05 L160.80,399.54 L161.50,401.10 L162.20,402.15 L162.90,402.02 L163.60,399.16 L164.30,399.88 L165.00,399.23 L165.70,402.24 L166.40,401.78 L167.10,401.94 L167.80,400.24 L168.50,399.97 L169.20,401.38 L169.90,401.44 L170.60,400.43 L171.30,401.55 L172.00,402.13 L172.70,401.70 L173.40,400.32 L174.10,399.16 L174.80,401.21 L175.50,401.68 L176.20,401.15 L176.90,399.84 L177.60,397.55 L178.30,396.86 L179.00,394.19 L179.70,393.64 L180.40,394.20 L181.10,398.10 L181.80,401.51 L182.50,400.39 L183.20,400.11 L183.90,401.14 L184.60,402.82 L185.30,401.70 L186.00,403.10 L186.70,401.34 L187.40,401.14 L188.10,399.95 L188.80,400.84 L189.50,403.04 L190.20,401.82 L190.90,402.26 L191.60,402.22 L192.30,401.42 L193.00,401.19 L193.70,401.54 L194.40,402.13 L195.10,401.88 L195.80,401.90 L196.50,401.51 L197.20,400.47 L197.90,401.01 L198.60,400.24 L199.30,402.36 L200.00,398.92 L200.70,400.96 L201.40,403.80 L202.10,400.77 L202.80,399.86 L203.50,401.06 L204.20,402.46 L204.90,400.83 L205.60,401.35 L206.30,399.84 L207.00,398.06 L207.70,400.65 L208.40,396.28 L209.10,395.21 L209.80,395.70 L210.50,397.75 L211.20,399.15 L211.90,400.84 L212.60,401.00 L213.30,399.42 L214.00,401.58 L214.70,400.65 L215.40,400.66 L216.10,399.32 L216.80,400.30 L217.50,400.10 L218.20,400.83 L218.90,399.24 L219.60,400.86 L220.30,400.90 L221.00,399.49 L221.70,399.98 L222.40,399.68 L223.10,401.57 L223.80,397.74 L224.50,400.08 L225.20,398.58 L225.90,399.87 L226.60,401.21 L227.30,399.53 L228.00,400.31 L228.70,399.16 L229.40,402.16 L230.10,400.96 L230.80,401.13 L231.50,398.37 L232.20,398.55 L232.90,400.88 L233.60,399.42 L234.30,399.28 L235.00,399.87 L235.70,398.05 L236.40,400.19 L237.10,399.26 L237.80,399.65 L238.50,398.27 L239.20,399.46 L239.90,398.01 L240.60,399.73 L241.30,399.83 L242.00,399.51 L242.70,399.02 L243.40,399.11 L244.10,395.42 L244.80,399.35 L245.50,398.20 L246.20,398.71 L246.90,398.43 L247.60,397.37 L248.30,398.49 L249.00,399.99 L249.70,401.02 L250.40,398.97 L251.10,398.85 L251.80,401.62 L252.50,399.21 L253.20,402.59 L253.90,400.47 L254.60,399.51 L255.30,401.59 L256.00,402.39 L256.70,398.97 L257.40,402.28 L258.10,400.28 L258.80,402.24 L259.50,400.21 L260.20,398.91 L260.90,401.22 L261.60,401.70 L262.30,403.01 L263.00,402.62 L263.70,401.50 L264.40,400.49 L265.10,400.20 L265.80,400.46 L266.50,399.89 L267.20,400.52 L267.90,398.04 L268.60,401.05 L269.30,400.84 L270.00,403.71 L270.70,401.73 L271.40,400.39 L272.10,401.55 L272.80,399.59 L273.50,400.29 L274.20,398.92 L274.90,402.57 L275.60,401.65 L276.30,399.72 L277.00,400.96 L277.70,402.08 L278.40,401.60 L279.10,401.48 L279.80,400.13 L280.50,400.39 L281.20,401.20 L281.90,402.12 L282.60,400.21 L283.30,399.90 L284.00,402.40 L284.70,400.13 L285.40,402.35 L286.10,401.44 L286.80,402.16 L287.50,403.12 L288.20,401.96 L288.90,402.07 L289.60,400.22 L290.30,400.47 L291.00,401.95 L291.70,402.94 L292.40,402.79 L293.10,403.82 L293.80,401.62 L294.50,401.51 L295.20,402.40 L295.90,401.32 L296.60,401.24 L297.30,400.16 L298.00,402.41 L298.70,400.15 L299.40,401.90 L300.10,399.78 L300.80,402.56 L301.50,400.23 L302.20,402.29 L302.90,399.62 L303.60,400.89 L304.30,402.68 L305.00,400.50 L305.70,401.47 L306.40,400.87 L307.10,398.86 L307.80,401.75 L308.50,401.89 L309.20,400.20 L309.90,402.05 L310.60,400.55 L311.30,400.33 L312.00,401.44 L312.70,400.69 L313.40,403.96 L314.10,399.74 L314.80,402.26 L315.50,402.54 L316.20,399.28 L316.90,399.55 L317.60,402.08 L318.30,400.94 L319.00,401.89 L319.70,402.72 L320.40,401.06 L321.10,400.30 L321.80,398.48 L322.50,401.70 L323.20,400.46 L323.90,401.83 L324.60,401.74 L325.30,399.96 L326.00,403.38 L326.70,402.68 L327.40,402.42 L328.10,400.19 L328.80,401.05 L329.50,400.89 L330.20,401.04 L330.90,400.26 L331.60,401.98 L332.30,401.75 L333.00,401.90 L333.70,400.94 L334.40,402.92 L335.10,401.71 L335.80,398.49 L336.50,400.80" fill="none" stroke="#8a1010" stroke-width="2.1" stroke-linejoin="round" stroke-linecap="round" />
</g>
<g clip-path="url(#clipC2)">
<path d="M50.20,469.28 L50.90,468.53 L51.60,466.79 L52.30,465.06 L53.00,462.16 L53.70,460.18 L54.40,459.69 L55.10,462.28 L55.80,465.87 L56.50,469.03 L57.20,471.02 L57.90,472.10 L58.60,473.32 L59.30,473.39 L60.00,474.09 L60.70,474.41 L61.40,474.89 L62.10,475.01 L62.80,474.61 L63.50,474.75 L64.20,474.34 L64.90,475.10 L65.60,474.55 L66.30,474.62 L67.00,473.88 L67.70,473.14 L68.40,474.01 L69.10,473.43 L69.80,473.35 L70.50,473.28 L71.20,473.41 L71.90,473.34 L72.60,472.66 L73.30,473.42 L74.00,472.90 L74.70,472.88 L75.40,473.51 L76.10,473.23 L76.80,472.82 L77.50,472.34 L78.20,472.92 L78.90,473.00 L79.60,472.79 L80.30,472.42 L81.00,472.53 L81.70,472.37 L82.40,472.79 L83.10,472.95 L83.80,473.00 L84.50,472.46 L85.20,472.73 L85.90,472.82 L86.60,472.49 L87.30,472.58 L88.00,473.26 L88.70,472.68 L89.40,472.87 L90.10,472.47 L90.80,472.61 L91.50,472.09 L92.20,473.54 L92.90,477.41 L93.60,477.47 L94.30,472.05 L95.00,471.48 L95.70,471.14 L96.40,470.92 L97.10,471.05 L97.80,471.28 L98.50,470.86 L99.20,471.38 L99.90,470.80 L100.60,470.57 L101.30,470.80 L102.00,470.60 L102.70,470.69 L103.40,471.44 L104.10,471.04 L104.80,471.17 L105.50,471.45 L106.20,471.48 L106.90,470.95 L107.60,471.50 L108.30,471.22 L109.00,471.10 L109.70,471.23 L110.40,470.67 L111.10,470.86 L111.80,471.07 L112.50,471.28 L113.20,470.99 L113.90,471.06 L114.60,471.39 L115.30,471.51 L116.00,471.31 L116.70,471.44 L117.40,470.92 L118.10,470.92 L118.80,471.08 L119.50,470.87 L120.20,470.77 L120.90,471.38 L121.60,470.78 L122.30,470.51 L123.00,470.90 L123.70,471.26 L124.40,470.68 L125.10,470.97 L125.80,470.42 L126.50,470.35 L127.20,470.23 L127.90,470.34 L128.60,470.87 L129.30,469.91 L130.00,470.69 L130.70,469.83 L131.40,470.00 L132.10,470.26 L132.80,470.14 L133.50,469.97 L134.20,469.33 L134.90,469.87 L135.60,469.39 L136.30,470.41 L137.00,469.51 L137.70,469.56 L138.40,469.09 L139.10,469.22 L139.80,468.90 L140.50,469.50 L141.20,469.05 L141.90,469.21 L142.60,468.75 L143.30,468.72 L144.00,469.17 L144.70,468.40 L145.40,468.05 L146.10,468.62 L146.80,468.06 L147.50,468.17 L148.20,468.47 L148.90,467.85 L149.60,468.25 L150.30,467.68 L151.00,468.22 L151.70,468.06 L152.40,467.41 L153.10,467.37 L153.80,467.07 L154.50,467.27 L155.20,467.44 L155.90,466.54 L156.60,467.13 L157.30,466.34 L158.00,466.35 L158.70,465.95 L159.40,466.98 L160.10,466.22 L160.80,466.13 L161.50,465.70 L162.20,466.06 L162.90,464.95 L163.60,465.42 L164.30,465.91 L165.00,464.96 L165.70,464.90 L166.40,464.92 L167.10,464.29 L167.80,464.36 L168.50,464.46 L169.20,464.05 L169.90,463.92 L170.60,463.52 L171.30,463.54 L172.00,463.29 L172.70,463.53 L173.40,463.14 L174.10,462.68 L174.80,461.85 L175.50,462.63 L176.20,462.49 L176.90,461.83 L177.60,461.36 L178.30,461.47 L179.00,461.95 L179.70,461.23 L180.40,461.29 L181.10,461.38 L181.80,461.58 L182.50,461.10 L183.20,460.98 L183.90,460.76 L184.60,461.32 L185.30,461.05 L186.00,460.60 L186.70,460.11 L187.40,460.18 L188.10,460.47 L188.80,459.94 L189.50,460.28 L190.20,459.96 L190.90,459.75 L191.60,459.65 L192.30,459.37 L193.00,458.71 L193.70,458.59 L194.40,459.09 L195.10,457.72 L195.80,457.61 L196.50,457.74 L197.20,457.02 L197.90,456.47 L198.60,455.96 L199.30,456.15 L200.00,455.93 L200.70,455.68 L201.40,454.91 L202.10,454.84 L202.80,453.84 L203.50,453.83 L204.20,453.18 L204.90,453.03 L205.60,452.79 L206.30,452.44 L207.00,451.36 L207.70,451.55 L208.40,450.51 L209.10,449.79 L209.80,449.46 L210.50,448.41 L211.20,448.10 L211.90,447.36 L212.60,446.33 L213.30,445.62 L214.00,444.41 L214.70,443.50 L215.40,441.97 L216.10,441.19 L216.80,439.52 L217.50,438.01 L218.20,436.30 L218.90,434.39 L219.60,431.53 L220.30,428.55 L221.00,426.12 L221.70,424.94 L222.40,426.11 L223.10,428.26 L223.80,430.93 L224.50,433.30 L225.20,435.68 L225.90,437.39 L226.60,439.17 L227.30,440.88 L228.00,442.55 L228.70,443.88 L229.40,445.05 L230.10,446.10 L230.80,447.35 L231.50,448.18 L232.20,449.09 L232.90,449.90 L233.60,450.35 L234.30,450.84 L235.00,451.89 L235.70,452.44 L236.40,452.80 L237.10,453.26 L237.80,454.57 L238.50,454.14 L239.20,454.76 L239.90,455.34 L240.60,455.34 L241.30,456.13 L242.00,457.03 L242.70,457.15 L243.40,457.43 L244.10,457.78 L244.80,457.98 L245.50,458.58 L246.20,458.57 L246.90,458.81 L247.60,459.27 L248.30,459.80 L249.00,459.92 L249.70,460.30 L250.40,459.76 L251.10,460.99 L251.80,461.59 L252.50,461.55 L253.20,461.31 L253.90,461.40 L254.60,461.99 L255.30,461.86 L256.00,462.62 L256.70,462.46 L257.40,463.10 L258.10,463.40 L258.80,462.55 L259.50,463.44 L260.20,463.36 L260.90,463.40 L261.60,463.94 L262.30,464.43 L263.00,465.67 L263.70,466.06 L264.40,467.42 L265.10,467.71 L265.80,467.28 L266.50,467.26 L267.20,467.10 L267.90,466.75 L268.60,467.26 L269.30,467.22 L270.00,467.32 L270.70,467.87 L271.40,467.32 L272.10,467.25 L272.80,467.64 L273.50,466.82 L274.20,466.96 L274.90,467.29 L275.60,467.31 L276.30,467.83 L277.00,467.66 L277.70,468.42 L278.40,468.50 L279.10,468.44 L279.80,468.26 L280.50,468.73 L281.20,468.96 L281.90,468.57 L282.60,469.17 L283.30,469.45 L284.00,469.48 L284.70,470.06 L285.40,470.12 L286.10,469.66 L286.80,470.10 L287.50,469.96 L288.20,470.52 L288.90,470.21 L289.60,470.87 L290.30,470.84 L291.00,471.14 L291.70,470.93 L292.40,470.66 L293.10,471.75 L293.80,471.29 L294.50,471.88 L295.20,471.71 L295.90,471.91 L296.60,472.38 L297.30,472.05 L298.00,472.49 L298.70,471.75 L299.40,472.57 L300.10,472.36 L300.80,472.51 L301.50,472.67 L302.20,472.89 L302.90,473.40 L303.60,472.46 L304.30,473.14 L305.00,473.03 L305.70,473.71 L306.40,473.35 L307.10,473.72 L307.80,473.58 L308.50,474.01 L309.20,474.22 L309.90,473.90 L310.60,474.15 L311.30,473.81 L312.00,474.44 L312.70,474.71 L313.40,474.39 L314.10,475.00 L314.80,474.14 L315.50,474.31 L316.20,474.56 L316.90,474.93 L317.60,475.18 L318.30,475.26 L319.00,475.36 L319.70,475.70 L320.40,475.44 L321.10,475.30 L321.80,475.41 L322.50,476.52 L323.20,475.28 L323.90,476.03 L324.60,476.61 L325.30,476.42 L326.00,476.12 L326.70,476.47 L327.40,476.82 L328.10,477.02 L328.80,476.48 L329.50,477.07 L330.20,477.01 L330.90,477.36 L331.60,477.53 L332.30,477.10 L333.00,476.86 L333.70,477.51 L334.40,478.01 L335.10,477.77 L335.80,477.72 L336.50,478.46" fill="none" stroke="#e4200c" stroke-width="2.6" stroke-linejoin="round" stroke-linecap="round" />
</g>
<g clip-path="url(#clipC3)">
<path d="M50.60,501.27 L51.30,503.54 L52.00,503.19 L52.70,504.06 L53.40,504.26 L54.10,505.04 L54.80,502.64 L55.50,501.97 L56.20,500.21 L56.90,500.81 L57.60,499.64 L58.30,500.70 L59.00,502.12 L59.70,505.38 L60.40,507.86 L61.10,508.27 L61.80,510.00 L62.50,511.00 L63.20,511.29 L63.90,511.17 L64.60,513.45 L65.30,513.11 L66.00,513.28 L66.70,509.61 L67.40,507.80 L68.10,505.67 L68.80,505.79 L69.50,508.17 L70.20,510.33 L70.90,512.87 L71.60,515.46 L72.30,517.01 L73.00,516.83 L73.70,517.81 L74.40,518.04 L75.10,516.71 L75.80,518.16 L76.50,519.45 L77.20,518.07 L77.90,517.85 L78.60,517.01 L79.30,516.58 L80.00,517.29 L80.70,516.12 L81.40,515.78 L82.10,514.88 L82.80,517.34 L83.50,516.93 L84.20,517.22 L84.90,519.04 L85.60,518.94 L86.30,517.05 L87.00,518.90 L87.70,518.51 L88.40,517.50 L89.10,518.40 L89.80,516.55 L90.50,516.63 L91.20,515.72 L91.90,513.89 L92.60,512.95 L93.30,509.96 L94.00,511.78 L94.70,516.63 L95.40,518.61 L96.10,518.02 L96.80,518.47 L97.50,516.90 L98.20,516.03 L98.90,516.19 L99.60,516.35 L100.30,515.71 L101.00,516.90 L101.70,518.56 L102.40,517.59 L103.10,518.78 L103.80,520.39 L104.50,519.53 L105.20,519.72 L105.90,519.82 L106.60,521.12 L107.30,521.46 L108.00,521.23 L108.70,521.58 L109.40,522.64 L110.10,522.54 L110.80,521.10 L111.50,522.20 L112.20,522.37 L112.90,522.86 L113.60,522.23 L114.30,521.93 L115.00,522.06 L115.70,521.14 L116.40,522.36 L117.10,521.96 L117.80,522.71 L118.50,521.66 L119.20,522.07 L119.90,521.69 L120.60,521.63 L121.30,522.87 L122.00,522.05 L122.70,522.69 L123.40,521.59 L124.10,522.44 L124.80,521.19 L125.50,522.06 L126.20,522.08 L126.90,522.91 L127.60,522.70 L128.30,522.55 L129.00,523.36 L129.70,523.02 L130.40,523.39 L131.10,523.67 L131.80,523.22 L132.50,523.19 L133.20,523.74 L133.90,523.34 L134.60,524.01 L135.30,524.61 L136.00,524.51 L136.70,523.73 L137.40,523.18 L138.10,524.11 L138.80,524.14 L139.50,525.07 L140.20,524.10 L140.90,524.29 L141.60,525.02 L142.30,524.24 L143.00,524.53 L143.70,525.91 L144.40,525.82 L145.10,525.28 L145.80,525.10 L146.50,524.30 L147.20,525.43 L147.90,525.14 L148.60,525.32 L149.30,524.87 L150.00,525.29 L150.70,525.24 L151.40,525.65 L152.10,526.50 L152.80,525.82 L153.50,524.48 L154.20,525.03 L154.90,524.68 L155.60,525.30 L156.30,526.32 L157.00,526.29 L157.70,525.67 L158.40,526.36 L159.10,525.75 L159.80,525.39 L160.50,525.51 L161.20,526.01 L161.90,527.72 L162.60,525.91 L163.30,527.84 L164.00,528.01 L164.70,527.07 L165.40,527.26 L166.10,526.96 L166.80,527.46 L167.50,528.00 L168.20,527.61 L168.90,528.34 L169.60,528.49 L170.30,527.90 L171.00,527.89 L171.70,527.62 L172.40,527.90 L173.10,526.88 L173.80,527.94 L174.50,527.79 L175.20,527.04 L175.90,529.13 L176.60,526.94 L177.30,527.00 L178.00,527.78 L178.70,526.21 L179.40,525.49 L180.10,526.24 L180.80,530.26 L181.50,531.64 L182.20,532.41 L182.90,533.34 L183.60,533.46 L184.30,534.00 L185.00,533.81 L185.70,533.26 L186.40,534.53 L187.10,533.56 L187.80,533.60 L188.50,535.22 L189.20,534.83 L189.90,534.58 L190.60,535.11 L191.30,535.39 L192.00,534.04 L192.70,535.16 L193.40,534.63 L194.10,535.77 L194.80,535.43 L195.50,537.07 L196.20,536.70 L196.90,535.99 L197.60,536.76 L198.30,536.15 L199.00,537.25 L199.70,537.83 L200.40,537.86 L201.10,536.57 L201.80,537.93 L202.50,538.77 L203.20,538.89 L203.90,539.76 L204.60,538.33 L205.30,539.89 L206.00,539.38 L206.70,540.29 L207.40,540.77 L208.10,541.33 L208.80,540.89 L209.50,541.98 L210.20,541.83 L210.90,542.73 L211.60,545.38 L212.30,546.36 L213.00,546.74 L213.70,548.76 L214.40,550.87 L215.10,553.59 L215.80,554.98 L216.50,556.60 L217.20,556.60 L217.90,559.56 L218.60,561.73 L219.30,563.49 L220.00,565.46 L220.70,567.38 L221.40,571.33 L222.10,569.54 L222.80,565.61 L223.50,562.53 L224.20,562.22 L224.90,558.14 L225.60,557.45 L226.30,556.27 L227.00,552.71 L227.70,552.14 L228.40,550.37 L229.10,549.76 L229.80,548.53 L230.50,548.67 L231.20,546.78 L231.90,545.48 L232.60,545.45 L233.30,543.69 L234.00,542.90 L234.70,544.04 L235.40,541.25 L236.10,540.87 L236.80,540.66 L237.50,539.33 L238.20,538.05 L238.90,539.75 L239.60,537.97 L240.30,537.67 L241.00,537.35 L241.70,536.50 L242.40,536.03 L243.10,536.52 L243.80,537.73 L244.50,536.22 L245.20,535.90 L245.90,534.01 L246.60,534.75 L247.30,533.65 L248.00,534.74 L248.70,533.76 L249.40,533.68 L250.10,533.33 L250.80,532.72 L251.50,531.81 L252.20,533.02 L252.90,531.42 L253.60,531.35 L254.30,531.78 L255.00,531.31 L255.70,531.80 L256.40,532.14 L257.10,531.40 L257.80,531.15 L258.50,530.78 L259.20,531.09 L259.90,528.88 L260.60,530.06 L261.30,528.50 L262.00,527.43 L262.70,527.48 L263.40,526.69 L264.10,527.11 L264.80,527.25 L265.50,524.67 L266.20,526.09 L266.90,527.38 L267.60,526.49 L268.30,526.78 L269.00,525.72 L269.70,524.51 L270.40,524.59 L271.10,525.73 L271.80,525.76 L272.50,524.43 L273.20,524.61 L273.90,524.84 L274.60,523.29 L275.30,524.12 L276.00,525.36 L276.70,525.61 L277.40,523.86 L278.10,525.08 L278.80,523.29 L279.50,522.95 L280.20,521.82 L280.90,523.92 L281.60,522.85 L282.30,524.62 L283.00,523.08 L283.70,522.85 L284.40,521.32 L285.10,523.51 L285.80,522.08 L286.50,522.09 L287.20,520.54 L287.90,522.61 L288.60,522.54 L289.30,521.30 L290.00,521.68 L290.70,521.78 L291.40,522.07 L292.10,521.36 L292.80,522.39 L293.50,520.91 L294.20,520.56 L294.90,520.56 L295.60,519.02 L296.30,520.14 L297.00,521.33 L297.70,520.72 L298.40,519.88 L299.10,520.61 L299.80,518.87 L300.50,520.00 L301.20,520.49 L301.90,520.53 L302.60,519.43 L303.30,520.53 L304.00,521.13 L304.70,519.45 L305.40,520.19 L306.10,518.51 L306.80,518.16 L307.50,519.89 L308.20,519.43 L308.90,519.47 L309.60,518.86 L310.30,519.00 L311.00,519.71 L311.70,520.28 L312.40,518.87 L313.10,517.81 L313.80,519.80 L314.50,519.27 L315.20,519.27 L315.90,518.87 L316.60,520.31 L317.30,518.69 L318.00,518.94 L318.70,517.23 L319.40,518.08 L320.10,517.95 L320.80,518.36 L321.50,518.58 L322.20,517.76 L322.90,519.45 L323.60,517.44 L324.30,517.83 L325.00,518.27 L325.70,517.18 L326.40,518.41 L327.10,518.41 L327.80,517.72 L328.50,519.22 L329.20,517.90 L329.90,518.00 L330.60,517.09 L331.30,516.56 L332.00,517.25 L332.70,517.43 L333.40,517.30 L334.10,518.13 L334.80,515.89 L335.50,516.73 L336.20,516.22 L336.90,518.41" fill="none" stroke="#f7951a" stroke-width="1.9" stroke-linejoin="round" stroke-linecap="round" />
</g>
<line x1="50.40" y1="570.60" x2="336.60" y2="570.60" stroke="#4d86ea" stroke-width="1.6" stroke-dasharray="8,6.6" stroke-dashoffset="-1.2"/>
<text x="104.5" y="563.1" font-size="15.2" fill="#4d86ea">537 fT/</text>
<path d="M153.1,558.8 L154.3,557.9 L157.7,564.0 L162.0,548.6 L180.7,548.6" fill="none" stroke="#4d86ea" stroke-width="1.15"/>
<text x="161.8" y="563.1" font-size="15.0" fill="#4d86ea">Hz</text>
<defs>
<linearGradient id="gfront" gradientUnits="userSpaceOnUse" x1="94" y1="0" x2="178" y2="0">
<stop offset="0" stop-color="#8a0000"/><stop offset="0.12" stop-color="#b83000"/><stop offset="0.27" stop-color="#c8b000"/><stop offset="0.4" stop-color="#20b0b0"/><stop offset="0.52" stop-color="#0010c0"/><stop offset="0.62" stop-color="#00a0c8"/><stop offset="0.76" stop-color="#c0b000"/><stop offset="0.9" stop-color="#c04000"/><stop offset="1" stop-color="#900000"/>
</linearGradient>
<linearGradient id="gtop" gradientUnits="userSpaceOnUse" x1="84" y1="0" x2="170" y2="0">
<stop offset="0" stop-color="#ff1a00"/><stop offset="0.15" stop-color="#ff6000"/><stop offset="0.3" stop-color="#f8e000"/><stop offset="0.45" stop-color="#40d8e8"/><stop offset="0.57" stop-color="#1030ff"/><stop offset="0.67" stop-color="#20c8f0"/><stop offset="0.8" stop-color="#f0d800"/><stop offset="0.92" stop-color="#ff6000"/><stop offset="1" stop-color="#e81000"/>
</linearGradient>
</defs>
<path d="M84.1,436.2 L170,424.2 L177.8,427.3 L94.1,439.0 Z" fill="url(#gtop)"/>
<path d="M94.1,439.0 L177.8,427.3 L177.3,436.8 L91.0,450.6 Z" fill="url(#gfront)"/>
<path d="M84.1,436.2 L94.1,439.0 L91.0,450.6 L83.4,447.5 Z" fill="#f01010"/>
<rect x="50.40" y="330.80" width="286.20" height="245.10" fill="none" stroke="#1a1a1a" stroke-width="1.2"/>
<line x1="50.40" y1="412.20" x2="336.60" y2="412.20" stroke="#1a1a1a" stroke-width="1.2" />
<line x1="50.40" y1="494.00" x2="336.60" y2="494.00" stroke="#1a1a1a" stroke-width="1.2" />
<line x1="74.50" y1="412.20" x2="74.50" y2="408.70" stroke="#1a1a1a" stroke-width="1.2" />
<line x1="74.50" y1="330.80" x2="74.50" y2="334.30" stroke="#1a1a1a" stroke-width="1.2" />
<line x1="134.00" y1="412.20" x2="134.00" y2="408.70" stroke="#1a1a1a" stroke-width="1.2" />
<line x1="134.00" y1="330.80" x2="134.00" y2="334.30" stroke="#1a1a1a" stroke-width="1.2" />
<line x1="193.60" y1="412.20" x2="193.60" y2="408.70" stroke="#1a1a1a" stroke-width="1.2" />
<line x1="193.60" y1="330.80" x2="193.60" y2="334.30" stroke="#1a1a1a" stroke-width="1.2" />
<line x1="253.30" y1="412.20" x2="253.30" y2="408.70" stroke="#1a1a1a" stroke-width="1.2" />
<line x1="253.30" y1="330.80" x2="253.30" y2="334.30" stroke="#1a1a1a" stroke-width="1.2" />
<line x1="312.70" y1="412.20" x2="312.70" y2="408.70" stroke="#1a1a1a" stroke-width="1.2" />
<line x1="312.70" y1="330.80" x2="312.70" y2="334.30" stroke="#1a1a1a" stroke-width="1.2" />
<line x1="74.50" y1="494.00" x2="74.50" y2="490.50" stroke="#1a1a1a" stroke-width="1.2" />
<line x1="74.50" y1="412.20" x2="74.50" y2="415.70" stroke="#1a1a1a" stroke-width="1.2" />
<line x1="134.00" y1="494.00" x2="134.00" y2="490.50" stroke="#1a1a1a" stroke-width="1.2" />
<line x1="134.00" y1="412.20" x2="134.00" y2="415.70" stroke="#1a1a1a" stroke-width="1.2" />
<line x1="193.60" y1="494.00" x2="193.60" y2="490.50" stroke="#1a1a1a" stroke-width="1.2" />
<line x1="193.60" y1="412.20" x2="193.60" y2="415.70" stroke="#1a1a1a" stroke-width="1.2" />
<line x1="253.30" y1="494.00" x2="253.30" y2="490.50" stroke="#1a1a1a" stroke-width="1.2" />
<line x1="253.30" y1="412.20" x2="253.30" y2="415.70" stroke="#1a1a1a" stroke-width="1.2" />
<line x1="312.70" y1="494.00" x2="312.70" y2="490.50" stroke="#1a1a1a" stroke-width="1.2" />
<line x1="312.70" y1="412.20" x2="312.70" y2="415.70" stroke="#1a1a1a" stroke-width="1.2" />
<line x1="74.50" y1="575.90" x2="74.50" y2="572.40" stroke="#1a1a1a" stroke-width="1.2" />
<line x1="74.50" y1="494.00" x2="74.50" y2="497.50" stroke="#1a1a1a" stroke-width="1.2" />
<line x1="134.00" y1="575.90" x2="134.00" y2="572.40" stroke="#1a1a1a" stroke-width="1.2" />
<line x1="134.00" y1="494.00" x2="134.00" y2="497.50" stroke="#1a1a1a" stroke-width="1.2" />
<line x1="193.60" y1="575.90" x2="193.60" y2="572.40" stroke="#1a1a1a" stroke-width="1.2" />
<line x1="193.60" y1="494.00" x2="193.60" y2="497.50" stroke="#1a1a1a" stroke-width="1.2" />
<line x1="253.30" y1="575.90" x2="253.30" y2="572.40" stroke="#1a1a1a" stroke-width="1.2" />
<line x1="253.30" y1="494.00" x2="253.30" y2="497.50" stroke="#1a1a1a" stroke-width="1.2" />
<line x1="312.70" y1="575.90" x2="312.70" y2="572.40" stroke="#1a1a1a" stroke-width="1.2" />
<line x1="312.70" y1="494.00" x2="312.70" y2="497.50" stroke="#1a1a1a" stroke-width="1.2" />
<line x1="50.40" y1="351.40" x2="53.90" y2="351.40" stroke="#1a1a1a" stroke-width="1.2" />
<line x1="333.10" y1="351.40" x2="336.60" y2="351.40" stroke="#1a1a1a" stroke-width="1.2" />
<line x1="50.40" y1="372.00" x2="53.90" y2="372.00" stroke="#1a1a1a" stroke-width="1.2" />
<line x1="333.10" y1="372.00" x2="336.60" y2="372.00" stroke="#1a1a1a" stroke-width="1.2" />
<line x1="50.40" y1="392.00" x2="53.90" y2="392.00" stroke="#1a1a1a" stroke-width="1.2" />
<line x1="333.10" y1="392.00" x2="336.60" y2="392.00" stroke="#1a1a1a" stroke-width="1.2" />
<line x1="50.40" y1="428.80" x2="53.90" y2="428.80" stroke="#1a1a1a" stroke-width="1.2" />
<line x1="333.10" y1="428.80" x2="336.60" y2="428.80" stroke="#1a1a1a" stroke-width="1.2" />
<line x1="50.40" y1="445.20" x2="53.90" y2="445.20" stroke="#1a1a1a" stroke-width="1.2" />
<line x1="333.10" y1="445.20" x2="336.60" y2="445.20" stroke="#1a1a1a" stroke-width="1.2" />
<line x1="50.40" y1="461.20" x2="53.90" y2="461.20" stroke="#1a1a1a" stroke-width="1.2" />
<line x1="333.10" y1="461.20" x2="336.60" y2="461.20" stroke="#1a1a1a" stroke-width="1.2" />
<line x1="50.40" y1="478.00" x2="53.90" y2="478.00" stroke="#1a1a1a" stroke-width="1.2" />
<line x1="333.10" y1="478.00" x2="336.60" y2="478.00" stroke="#1a1a1a" stroke-width="1.2" />
<line x1="50.40" y1="574.82" x2="52.40" y2="574.82" stroke="#1a1a1a" stroke-width="1.2" />
<line x1="334.60" y1="574.82" x2="336.60" y2="574.82" stroke="#1a1a1a" stroke-width="1.2" />
<line x1="50.40" y1="572.19" x2="52.40" y2="572.19" stroke="#1a1a1a" stroke-width="1.2" />
<line x1="334.60" y1="572.19" x2="336.60" y2="572.19" stroke="#1a1a1a" stroke-width="1.2" />
<line x1="50.40" y1="570.03" x2="52.40" y2="570.03" stroke="#1a1a1a" stroke-width="1.2" />
<line x1="334.60" y1="570.03" x2="336.60" y2="570.03" stroke="#1a1a1a" stroke-width="1.2" />
<line x1="50.40" y1="568.21" x2="52.40" y2="568.21" stroke="#1a1a1a" stroke-width="1.2" />
<line x1="334.60" y1="568.21" x2="336.60" y2="568.21" stroke="#1a1a1a" stroke-width="1.2" />
<line x1="50.40" y1="566.64" x2="52.40" y2="566.64" stroke="#1a1a1a" stroke-width="1.2" />
<line x1="334.60" y1="566.64" x2="336.60" y2="566.64" stroke="#1a1a1a" stroke-width="1.2" />
<line x1="50.40" y1="565.24" x2="52.40" y2="565.24" stroke="#1a1a1a" stroke-width="1.2" />
<line x1="334.60" y1="565.24" x2="336.60" y2="565.24" stroke="#1a1a1a" stroke-width="1.2" />
<line x1="50.40" y1="564.00" x2="53.90" y2="564.00" stroke="#1a1a1a" stroke-width="1.2" />
<line x1="333.10" y1="564.00" x2="336.60" y2="564.00" stroke="#1a1a1a" stroke-width="1.2" />
<line x1="50.40" y1="555.81" x2="52.40" y2="555.81" stroke="#1a1a1a" stroke-width="1.2" />
<line x1="334.60" y1="555.81" x2="336.60" y2="555.81" stroke="#1a1a1a" stroke-width="1.2" />
<line x1="50.40" y1="551.02" x2="52.40" y2="551.02" stroke="#1a1a1a" stroke-width="1.2" />
<line x1="334.60" y1="551.02" x2="336.60" y2="551.02" stroke="#1a1a1a" stroke-width="1.2" />
<line x1="50.40" y1="547.62" x2="52.40" y2="547.62" stroke="#1a1a1a" stroke-width="1.2" />
<line x1="334.60" y1="547.62" x2="336.60" y2="547.62" stroke="#1a1a1a" stroke-width="1.2" />
<line x1="50.40" y1="544.99" x2="52.40" y2="544.99" stroke="#1a1a1a" stroke-width="1.2" />
<line x1="334.60" y1="544.99" x2="336.60" y2="544.99" stroke="#1a1a1a" stroke-width="1.2" />
<line x1="50.40" y1="542.83" x2="52.40" y2="542.83" stroke="#1a1a1a" stroke-width="1.2" />
<line x1="334.60" y1="542.83" x2="336.60" y2="542.83" stroke="#1a1a1a" stroke-width="1.2" />
<line x1="50.40" y1="541.01" x2="52.40" y2="541.01" stroke="#1a1a1a" stroke-width="1.2" />
<line x1="334.60" y1="541.01" x2="336.60" y2="541.01" stroke="#1a1a1a" stroke-width="1.2" />
<line x1="50.40" y1="539.44" x2="52.40" y2="539.44" stroke="#1a1a1a" stroke-width="1.2" />
<line x1="334.60" y1="539.44" x2="336.60" y2="539.44" stroke="#1a1a1a" stroke-width="1.2" />
<line x1="50.40" y1="538.04" x2="52.40" y2="538.04" stroke="#1a1a1a" stroke-width="1.2" />
<line x1="334.60" y1="538.04" x2="336.60" y2="538.04" stroke="#1a1a1a" stroke-width="1.2" />
<line x1="50.40" y1="536.80" x2="53.90" y2="536.80" stroke="#1a1a1a" stroke-width="1.2" />
<line x1="333.10" y1="536.80" x2="336.60" y2="536.80" stroke="#1a1a1a" stroke-width="1.2" />
<line x1="50.40" y1="528.61" x2="52.40" y2="528.61" stroke="#1a1a1a" stroke-width="1.2" />
<line x1="334.60" y1="528.61" x2="336.60" y2="528.61" stroke="#1a1a1a" stroke-width="1.2" />
<line x1="50.40" y1="523.82" x2="52.40" y2="523.82" stroke="#1a1a1a" stroke-width="1.2" />
<line x1="334.60" y1="523.82" x2="336.60" y2="523.82" stroke="#1a1a1a" stroke-width="1.2" />
<line x1="50.40" y1="520.42" x2="52.40" y2="520.42" stroke="#1a1a1a" stroke-width="1.2" />
<line x1="334.60" y1="520.42" x2="336.60" y2="520.42" stroke="#1a1a1a" stroke-width="1.2" />
<line x1="50.40" y1="517.79" x2="52.40" y2="517.79" stroke="#1a1a1a" stroke-width="1.2" />
<line x1="334.60" y1="517.79" x2="336.60" y2="517.79" stroke="#1a1a1a" stroke-width="1.2" />
<line x1="50.40" y1="515.63" x2="52.40" y2="515.63" stroke="#1a1a1a" stroke-width="1.2" />
<line x1="334.60" y1="515.63" x2="336.60" y2="515.63" stroke="#1a1a1a" stroke-width="1.2" />
<line x1="50.40" y1="513.81" x2="52.40" y2="513.81" stroke="#1a1a1a" stroke-width="1.2" />
<line x1="334.60" y1="513.81" x2="336.60" y2="513.81" stroke="#1a1a1a" stroke-width="1.2" />
<line x1="50.40" y1="512.24" x2="52.40" y2="512.24" stroke="#1a1a1a" stroke-width="1.2" />
<line x1="334.60" y1="512.24" x2="336.60" y2="512.24" stroke="#1a1a1a" stroke-width="1.2" />
<line x1="50.40" y1="510.84" x2="52.40" y2="510.84" stroke="#1a1a1a" stroke-width="1.2" />
<line x1="334.60" y1="510.84" x2="336.60" y2="510.84" stroke="#1a1a1a" stroke-width="1.2" />
<line x1="50.40" y1="509.60" x2="53.90" y2="509.60" stroke="#1a1a1a" stroke-width="1.2" />
<line x1="333.10" y1="509.60" x2="336.60" y2="509.60" stroke="#1a1a1a" stroke-width="1.2" />
<line x1="50.40" y1="501.41" x2="52.40" y2="501.41" stroke="#1a1a1a" stroke-width="1.2" />
<line x1="334.60" y1="501.41" x2="336.60" y2="501.41" stroke="#1a1a1a" stroke-width="1.2" />
<line x1="50.40" y1="496.62" x2="52.40" y2="496.62" stroke="#1a1a1a" stroke-width="1.2" />
<line x1="334.60" y1="496.62" x2="336.60" y2="496.62" stroke="#1a1a1a" stroke-width="1.2" />
<text x="44.80" y="356.40" font-size="14.3" text-anchor="end" fill="#000" >-60</text>
<text x="44.80" y="397.00" font-size="14.3" text-anchor="end" fill="#000" >-75</text>
<text x="44.80" y="433.80" font-size="14.3" text-anchor="end" fill="#000" >0</text>
<text x="44.80" y="466.20" font-size="14.3" text-anchor="end" fill="#000" >-25</text>
<text x="44.80" y="499.00" font-size="14.3" text-anchor="end" fill="#000" >-50</text>
<text x="44.80" y="514.70" font-size="14.3" text-anchor="end" fill="#000" >100</text>
<text x="44.80" y="541.40" font-size="14.3" text-anchor="end" fill="#000" >10</text>
<text x="44.80" y="569.00" font-size="14.3" text-anchor="end" fill="#000" >1</text>
<text x="74.50" y="590.00" font-size="14" text-anchor="middle" fill="#000" >5</text>
<text x="193.60" y="590.00" font-size="14" text-anchor="middle" fill="#000" >10</text>
<text x="337.00" y="590.00" font-size="14" text-anchor="middle" fill="#000" >15</text>
<text x="192.50" y="606.00" font-size="17.3" text-anchor="middle" fill="#000" >Frequency (kHz)</text>
<circle cx="141" cy="586.5" r="0.7" fill="#333"/>
<text transform="translate(15.0,371) rotate(-90)" font-size="16.5" text-anchor="middle" fill="#000">N (dBm)</text>
<text transform="translate(14.6,452.5) rotate(-90)" font-size="16.5" text-anchor="middle" fill="#000">R(dBm)</text>
<g transform="translate(16.7,592.9) rotate(-90)" fill="#000"><text x="0" y="0" font-size="17">B</text><text x="11.7" y="4.5" font-size="9.9">min</text><text x="28.7" y="0" font-size="17">(pT/</text><path d="M61.4,-5 L63.2,-5.9 L65.9,0.5 L70.9,-15.7 L91.5,-15.7" fill="none" stroke="#111" stroke-width="1.2"/><text x="70.0" y="0" font-size="17">Hz</text><text x="91.0" y="0" font-size="17">)</text></g>
<text x="351.00" y="317.00" font-size="19.5" text-anchor="start" fill="#000" font-weight="bold">d</text>
<g clip-path="url(#clipD)">
<path d="M397.65,562.13 L398.19,562.10 L398.73,562.08 L399.28,562.05 L399.82,562.02 L400.36,561.99 L400.90,561.96 L401.45,561.93 L401.99,561.90 L402.53,561.87 L403.07,561.84 L403.62,561.81 L404.16,561.78 L404.70,561.75 L405.24,561.72 L405.79,561.69 L406.33,561.66 L406.87,561.63 L407.41,561.60 L407.96,561.56 L408.50,561.53 L409.04,561.50 L409.58,561.47 L410.13,561.43 L410.67,561.40 L411.21,561.37 L411.75,561.33 L412.30,561.30 L412.84,561.27 L413.38,561.23 L413.92,561.20 L414.46,561.16 L415.01,561.13 L415.55,561.09 L416.09,561.06 L416.63,561.02 L417.18,560.98 L417.72,560.95 L418.26,560.91 L418.80,560.87 L419.35,560.84 L419.89,560.80 L420.43,560.76 L420.97,560.72 L421.52,560.68 L422.06,560.64 L422.60,560.60 L423.14,560.57 L423.69,560.53 L424.23,560.49 L424.77,560.45 L425.31,560.40 L425.86,560.36 L426.40,560.32 L426.94,560.28 L427.48,560.24 L428.02,560.20 L428.57,560.15 L429.11,560.11 L429.65,560.07 L430.19,560.02 L430.74,559.98 L431.28,559.93 L431.82,559.89 L432.36,559.84 L432.91,559.80 L433.45,559.75 L433.99,559.71 L434.53,559.66 L435.08,559.61 L435.62,559.57 L436.16,559.52 L436.70,559.47 L437.25,559.42 L437.79,559.37 L438.33,559.32 L438.87,559.27 L439.42,559.22 L439.96,559.17 L440.50,559.12 L441.04,559.07 L441.59,559.02 L442.13,558.96 L442.67,558.91 L443.21,558.86 L443.75,558.80 L444.30,558.75 L444.84,558.70 L445.38,558.64 L445.92,558.58 L446.47,558.53 L447.01,558.47 L447.55,558.41 L448.09,558.36 L448.64,558.30 L449.18,558.24 L449.72,558.18 L450.26,558.12 L450.81,558.06 L451.35,558.00 L451.89,557.94 L452.43,557.88 L452.98,557.82 L453.52,557.75 L454.06,557.69 L454.60,557.63 L455.15,557.56 L455.69,557.50 L456.23,557.43 L456.77,557.36 L457.31,557.30 L457.86,557.23 L458.40,557.16 L458.94,557.09 L459.48,557.02 L460.03,556.95 L460.57,556.88 L461.11,556.81 L461.65,556.74 L462.20,556.67 L462.74,556.60 L463.28,556.52 L463.82,556.45 L464.37,556.37 L464.91,556.30 L465.45,556.22 L465.99,556.14 L466.54,556.07 L467.08,555.99 L467.62,555.91 L468.16,555.83 L468.71,555.75 L469.25,555.66 L469.79,555.58 L470.33,555.50 L470.88,555.41 L471.42,555.33 L471.96,555.24 L472.50,555.16 L473.04,555.07 L473.59,554.98 L474.13,554.89 L474.67,554.80 L475.21,554.71 L475.76,554.62 L476.30,554.53 L476.84,554.43 L477.38,554.34 L477.93,554.25 L478.47,554.15 L479.01,554.05 L479.55,553.95 L480.10,553.85 L480.64,553.75 L481.18,553.65 L481.72,553.55 L482.27,553.45 L482.81,553.34 L483.35,553.24 L483.89,553.13 L484.44,553.03 L484.98,552.92 L485.52,552.81 L486.06,552.70 L486.60,552.58 L487.15,552.47 L487.69,552.36 L488.23,552.24 L488.77,552.13 L489.32,552.01 L489.86,551.89 L490.40,551.77 L490.94,551.65 L491.49,551.52 L492.03,551.40 L492.57,551.27 L493.11,551.15 L493.66,551.02 L494.20,550.89 L494.74,550.76 L495.28,550.63 L495.83,550.49 L496.37,550.36 L496.91,550.22 L497.45,550.08 L498.00,549.94 L498.54,549.80 L499.08,549.66 L499.62,549.51 L500.17,549.37 L500.71,549.22 L501.25,549.07 L501.79,548.92 L502.33,548.76 L502.88,548.61 L503.42,548.45 L503.96,548.29 L504.50,548.13 L505.05,547.97 L505.59,547.81 L506.13,547.64 L506.67,547.47 L507.22,547.30 L507.76,547.13 L508.30,546.96 L508.84,546.78 L509.39,546.60 L509.93,546.42 L510.47,546.24 L511.01,546.05 L511.56,545.86 L512.10,545.67 L512.64,545.48 L513.18,545.29 L513.73,545.09 L514.27,544.89 L514.81,544.69 L515.35,544.48 L515.89,544.27 L516.44,544.06 L516.98,543.85 L517.52,543.63 L518.06,543.41 L518.61,543.19 L519.15,542.97 L519.69,542.74 L520.23,542.51 L520.78,542.27 L521.32,542.03 L521.86,541.79 L522.40,541.55 L522.95,541.30 L523.49,541.05 L524.03,540.79 L524.57,540.53 L525.12,540.27 L525.66,540.00 L526.20,539.73 L526.74,539.46 L527.29,539.18 L527.83,538.89 L528.37,538.60 L528.91,538.31 L529.46,538.01 L530.00,537.71 L530.54,537.40 L531.08,537.09 L531.62,536.77 L532.17,536.45 L532.71,536.12 L533.25,535.79 L533.79,535.45 L534.34,535.10 L534.88,534.75 L535.42,534.39 L535.96,534.02 L536.51,533.65 L537.05,533.27 L537.59,532.88 L538.13,532.49 L538.68,532.09 L539.22,531.68 L539.76,531.26 L540.30,530.83 L540.85,530.39 L541.39,529.95 L541.93,529.49 L542.47,529.03 L543.02,528.55 L543.56,528.06 L544.10,527.57 L544.64,527.06 L545.18,526.53 L545.73,526.00 L546.27,525.45 L546.81,524.89 L547.35,524.31 L547.90,523.71 L548.44,523.10 L548.98,522.47 L549.52,521.83 L550.07,521.16 L550.61,520.48 L551.15,519.77 L551.69,519.04 L552.24,518.28 L552.78,517.50 L553.32,516.69 L553.86,515.85 L554.41,514.98 L554.95,514.07 L555.49,513.13 L556.03,512.15 L556.58,511.12 L557.12,510.04 L557.66,508.91 L558.20,507.73 L558.75,506.48 L559.29,505.16 L559.83,503.76 L559.83,503.76 L559.89,503.61 L559.94,503.46 L560.00,503.31 L560.05,503.15 L560.11,503.00 L560.17,502.85 L560.22,502.69 L560.28,502.54 L560.33,502.38 L560.39,502.22 L560.44,502.06 L560.50,501.90 L560.56,501.74 L560.61,501.58 L560.67,501.41 L560.72,501.25 L560.78,501.08 L560.84,500.92 L560.89,500.75 L560.95,500.58 L561.00,500.41 L561.06,500.24 L561.11,500.06 L561.17,499.89 L561.23,499.71 L561.28,499.54 L561.34,499.36 L561.39,499.18 L561.45,499.00 L561.51,498.81 L561.56,498.63 L561.62,498.44 L561.67,498.26 L561.73,498.07 L561.78,497.88 L561.84,497.69 L561.90,497.49 L561.95,497.30 L562.01,497.10 L562.06,496.91 L562.12,496.71 L562.18,496.50 L562.23,496.30 L562.29,496.10 L562.34,495.89 L562.40,495.68 L562.45,495.47 L562.51,495.26 L562.57,495.05 L562.62,494.83 L562.68,494.61 L562.73,494.39 L562.79,494.17 L562.85,493.95 L562.90,493.72 L562.96,493.49 L563.01,493.26 L563.07,493.03 L563.12,492.79 L563.18,492.56 L563.24,492.32 L563.29,492.07 L563.35,491.83 L563.40,491.58 L563.46,491.33 L563.52,491.08 L563.57,490.82 L563.63,490.57 L563.68,490.31 L563.74,490.04 L563.79,489.78 L563.85,489.51 L563.91,489.23 L563.96,488.96 L564.02,488.68 L564.07,488.40 L564.13,488.11 L564.19,487.82 L564.24,487.53 L564.30,487.23 L564.35,486.93 L564.41,486.63 L564.46,486.32 L564.52,486.01 L564.58,485.70 L564.63,485.38 L564.69,485.05 L564.74,484.72 L564.80,484.39 L564.86,484.05 L564.91,483.71 L564.97,483.37 L565.02,483.01 L565.08,482.66 L565.13,482.29 L565.19,481.93 L565.25,481.55 L565.30,481.17 L565.36,480.79 L565.41,480.40 L565.47,480.00 L565.53,479.60 L565.58,479.18 L565.64,478.77 L565.69,478.34 L565.75,477.91 L565.80,477.47 L565.86,477.02 L565.92,476.57 L565.97,476.10 L566.03,475.63 L566.08,475.15 L566.14,474.66 L566.20,474.16 L566.25,473.65 L566.31,473.13 L566.36,472.59 L566.42,472.05 L566.47,471.50 L566.53,470.93 L566.59,470.35 L566.64,469.76 L566.70,469.16 L566.75,468.54 L566.81,467.91 L566.87,467.26 L566.92,466.60 L566.98,465.92 L567.03,465.23 L567.09,464.51 L567.14,463.78 L567.20,463.04 L567.26,462.27 L567.31,461.49 L567.37,460.69 L567.42,459.86 L567.48,459.02 L567.54,458.16 L567.59,457.28 L567.65,456.39 L567.70,455.47 L567.76,454.55 L567.81,453.61 L567.87,452.66 L567.93,451.71 L567.98,450.76 L568.04,449.82 L568.09,448.90 L568.15,448.01 L568.21,447.16 L568.26,446.38 L568.32,445.67 L568.37,445.05 L568.43,444.54 L568.48,444.17 L568.54,443.93 L568.60,443.84 L568.65,443.90 L568.71,444.08 L568.76,444.38 L568.82,444.79 L568.88,445.30 L568.93,445.89 L568.99,446.56 L569.04,447.28 L569.10,448.06 L569.15,448.86 L569.21,449.70 L569.27,450.55 L569.32,451.41 L569.38,452.27 L569.43,453.14 L569.49,454.00 L569.55,454.85 L569.60,455.69 L569.66,456.51 L569.71,457.33 L569.77,458.13 L569.82,458.91 L569.88,459.68 L569.94,460.43 L569.99,461.17 L570.05,461.89 L570.10,462.60 L570.16,463.29 L570.22,463.96 L570.27,464.63 L570.33,465.27 L570.38,465.91 L570.44,466.52 L570.49,467.13 L570.55,467.73 L570.61,468.31 L570.66,468.88 L570.72,469.43 L570.77,469.98 L570.83,470.52 L570.89,471.04 L570.94,471.56 L571.00,472.06 L571.05,472.56 L571.11,473.05 L571.16,473.53 L571.22,473.99 L571.28,474.46 L571.33,474.91 L571.39,475.35 L571.44,475.79 L571.50,476.22 L571.56,476.65 L571.61,477.06 L571.67,477.47 L571.72,477.88 L571.78,478.27 L571.83,478.66 L571.89,479.05 L571.95,479.43 L572.00,479.80 L572.06,480.17 L572.11,480.53 L572.17,480.89 L572.23,481.24 L572.28,481.59 L572.34,481.93 L572.39,482.27 L572.45,482.60 L572.50,482.93 L572.56,483.26 L572.62,483.58 L572.67,483.89 L572.73,484.21 L572.78,484.52 L572.84,484.82 L572.90,485.12 L572.95,485.42 L573.01,485.71 L573.06,486.00 L573.12,486.29 L573.17,486.57 L573.23,486.86 L573.29,487.13 L573.34,487.41 L573.40,487.68 L573.45,487.95 L573.51,488.21 L573.57,488.47 L573.62,488.73 L573.68,488.99 L573.73,489.25 L573.79,489.50 L573.84,489.75 L573.90,489.99 L573.96,490.24 L574.01,490.48 L574.07,490.72 L574.12,490.96 L574.18,491.19 L574.24,491.42 L574.29,491.66 L574.35,491.88 L574.40,492.11 L574.46,492.33 L574.51,492.56 L574.57,492.78 L574.63,492.99 L574.68,493.21 L574.74,493.43 L574.79,493.64 L574.85,493.85 L574.91,494.06 L574.96,494.26 L575.02,494.47 L575.07,494.67 L575.13,494.88 L575.18,495.08 L575.24,495.27 L575.30,495.47 L575.35,495.67 L575.41,495.86 L575.46,496.05 L575.52,496.24 L575.58,496.43 L575.63,496.62 L575.69,496.81 L575.74,496.99 L575.80,497.18 L575.85,497.36 L575.91,497.54 L575.97,497.72 L576.02,497.90 L576.08,498.08 L576.13,498.25 L576.19,498.43 L576.25,498.60 L576.30,498.77 L576.36,498.94 L576.41,499.11 L576.47,499.28 L576.52,499.45 L576.52,499.45 L576.90,500.54 L577.27,501.59 L577.65,502.60 L578.02,503.56 L578.40,504.49 L578.77,505.39 L579.15,506.25 L579.52,507.08 L579.90,507.89 L580.27,508.67 L580.65,509.43 L581.02,510.16 L581.40,510.88 L581.77,511.57 L582.15,512.25 L582.52,512.90 L582.90,513.54 L583.27,514.17 L583.65,514.77 L584.02,515.37 L584.40,515.95 L584.77,516.51 L585.15,517.07 L585.52,517.61 L585.90,518.14 L586.27,518.66 L586.65,519.17 L587.02,519.67 L587.40,520.16 L587.77,520.64 L588.15,521.11 L588.52,521.57 L588.90,522.02 L589.27,522.47 L589.65,522.91 L590.02,523.34 L590.40,523.76 L590.77,524.18 L591.15,524.59 L591.52,524.99 L591.90,525.39 L592.27,525.78 L592.65,526.17 L593.02,526.54 L593.40,526.92 L593.77,527.29 L594.15,527.65 L594.52,528.01 L594.90,528.36 L595.27,528.71 L595.64,529.05 L596.02,529.39 L596.39,529.73 L596.77,530.06 L597.14,530.39 L597.52,530.71 L597.89,531.03 L598.27,531.34 L598.64,531.65 L599.02,531.96 L599.39,532.26 L599.77,532.56 L600.14,532.86 L600.52,533.15 L600.89,533.44 L601.27,533.73 L601.64,534.01 L602.02,534.29 L602.39,534.57 L602.77,534.85 L603.14,535.12 L603.52,535.39 L603.89,535.66 L604.27,535.92 L604.64,536.18 L605.02,536.44 L605.39,536.70 L605.77,536.95 L606.14,537.20 L606.52,537.45 L606.89,537.70 L607.27,537.94 L607.64,538.18 L608.02,538.42 L608.39,538.66 L608.77,538.90 L609.14,539.13 L609.52,539.36 L609.89,539.59 L610.27,539.82 L610.64,540.05 L611.02,540.27 L611.39,540.49 L611.77,540.71 L612.14,540.93 L612.52,541.15 L612.89,541.37 L613.27,541.58 L613.64,541.79 L614.01,542.00 L614.39,542.21 L614.76,542.42 L615.14,542.62 L615.51,542.83 L615.89,543.03 L616.26,543.23 L616.64,543.43 L617.01,543.63 L617.39,543.83 L617.76,544.02 L618.14,544.22 L618.51,544.41 L618.89,544.60 L619.26,544.79 L619.64,544.98 L620.01,545.17 L620.39,545.35 L620.76,545.54 L621.14,545.72 L621.51,545.90 L621.89,546.08 L622.26,546.26 L622.64,546.44 L623.01,546.62 L623.39,546.80 L623.76,546.97 L624.14,547.15 L624.51,547.32 L624.89,547.49 L625.26,547.67 L625.64,547.84 L626.01,548.01 L626.39,548.17 L626.76,548.34 L627.14,548.51 L627.51,548.67 L627.89,548.84 L628.26,549.00 L628.64,549.16 L629.01,549.33 L629.39,549.49 L629.76,549.65 L630.14,549.81 L630.51,549.96 L630.89,550.12 L631.26,550.28 L631.64,550.43 L632.01,550.59 L632.39,550.74 L632.76,550.89 L633.13,551.05 L633.51,551.20 L633.88,551.35 L634.26,551.50 L634.63,551.65 L635.01,551.80 L635.38,551.94 L635.76,552.09 L636.13,552.24 L636.51,552.38 L636.88,552.53 L637.26,552.67 L637.63,552.81 L638.01,552.96 L638.38,553.10 L638.76,553.24 L639.13,553.38 L639.51,553.52 L639.88,553.66 L640.26,553.80 L640.63,553.94 L641.01,554.07 L641.38,554.21 L641.76,554.35 L642.13,554.48 L642.51,554.62 L642.88,554.75 L643.26,554.89 L643.63,555.02 L644.01,555.15 L644.38,555.28 L644.76,555.41 L645.13,555.54 L645.51,555.67 L645.88,555.80 L646.26,555.93 L646.63,556.06 L647.01,556.19 L647.38,556.32 L647.76,556.44 L648.13,556.57 L648.51,556.70 L648.88,556.82 L649.26,556.95 L649.63,557.07 L650.01,557.19 L650.38,557.32 L650.76,557.44 L651.13,557.56 L651.50,557.68 L651.88,557.81 L652.25,557.93 L652.63,558.05 L653.00,558.17 L653.38,558.29 L653.75,558.41 L654.13,558.52 L654.50,558.64 L654.88,558.76 L655.25,558.88 L655.63,558.99 L656.00,559.11 L656.38,559.23 L656.75,559.34 L657.13,559.46 L657.50,559.57 L657.88,559.68 L658.25,559.80 L658.63,559.91 L659.00,560.02 L659.38,560.14 L659.75,560.25 L660.13,560.36 L660.50,560.47 L660.88,560.58 L661.25,560.69 L661.63,560.80 L662.00,560.91 L662.38,561.02 L662.75,561.13 L663.13,561.24 L663.50,561.35 L663.88,561.46 L664.25,561.56 L664.63,561.67 L665.00,561.78 L665.38,561.88 L665.75,561.99 L666.13,562.10 L666.50,562.20 L666.88,562.31 L667.25,562.41 L667.63,562.52 L668.00,562.62 L668.38,562.72 L668.75,562.83 L669.13,562.93 L669.50,563.03 L669.88,563.14 L670.25,563.24 L670.62,563.34 L671.00,563.44 L671.37,563.54 L671.75,563.64 L672.12,563.74 L672.50,563.84 L672.87,563.94 L673.25,564.04 L673.62,564.14 L674.00,564.24 L674.37,564.34 L674.75,564.44 L675.12,564.54 L675.50,564.63 L675.87,564.73 L676.25,564.83 L676.62,564.93 L677.00,565.02 L677.37,565.12 L677.75,565.21 L678.12,565.31 L678.50,565.41 L678.87,565.50 L679.25,565.60 L679.62,565.69 L680.00,565.78 L680.37,565.88 L680.75,565.97 L681.12,566.07 L681.50,566.16 L681.87,566.25 L682.25,566.35 L682.62,566.44 L683.00,566.53 L683.37,566.62 L683.75,566.71 L684.12,566.81 L684.50,566.90 L684.87,566.99 L685.25,567.08 L685.62,567.17 L686.00,567.26 L686.37,567.35 L686.75,567.44 L687.12,567.53 L687.50,567.62 L687.87,567.71 L688.25,567.80 L688.62,567.89" fill="none" stroke="#676767" stroke-width="1.7" stroke-linejoin="round" stroke-linecap="round" stroke-dasharray="6,2.2,1.6,2.2"/>
<path d="M397.00,476.92 L397.70,476.98 L398.40,476.33 L399.10,478.53 L399.80,477.09 L400.50,477.79 L401.20,475.30 L401.90,478.83 L402.60,477.98 L403.30,478.15 L404.00,478.91 L404.70,477.33 L405.40,477.36 L406.10,478.34 L406.80,478.01 L407.50,477.28 L408.20,477.59 L408.90,476.99 L409.60,478.33 L410.30,478.57 L411.00,477.55 L411.70,479.62 L412.40,475.85 L413.10,477.29 L413.80,479.43 L414.50,477.08 L415.20,475.78 L415.90,479.08 L416.60,478.15 L417.30,476.23 L418.00,478.40 L418.70,476.42 L419.40,476.07 L420.10,477.38 L420.80,477.02 L421.50,476.34 L422.20,477.14 L422.90,476.44 L423.60,477.61 L424.30,477.52 L425.00,478.37 L425.70,477.05 L426.40,476.08 L427.10,476.09 L427.80,477.28 L428.50,479.24 L429.20,478.48 L429.90,476.84 L430.60,478.59 L431.30,476.27 L432.00,478.67 L432.70,477.13 L433.40,478.40 L434.10,478.23 L434.80,477.24 L435.50,477.91 L436.20,476.37 L436.90,477.47 L437.60,478.74 L438.30,482.07 L439.00,478.32 L439.70,477.65 L440.40,476.43 L441.10,478.72 L441.80,475.72 L442.50,476.66 L443.20,477.94 L443.90,476.22 L444.60,477.02 L445.30,471.78 L446.00,468.65 L446.70,473.02 L447.40,476.01 L448.10,476.00 L448.80,478.04 L449.50,478.24 L450.20,477.94 L450.90,477.84 L451.60,476.93 L452.30,477.95 L453.00,475.92 L453.70,477.56 L454.40,479.18 L455.10,479.01 L455.80,477.04 L456.50,477.18 L457.20,479.07 L457.90,479.52 L458.60,475.90 L459.30,477.08 L460.00,477.81 L460.70,478.89 L461.40,476.62 L462.10,478.26 L462.80,477.22 L463.50,480.17 L464.20,478.02 L464.90,477.40 L465.60,477.18 L466.30,478.72 L467.00,478.30 L467.70,476.35 L468.40,477.79 L469.10,476.07 L469.80,476.71 L470.50,476.12 L471.20,476.08 L471.90,476.79 L472.60,476.47 L473.30,478.13 L474.00,478.43 L474.70,477.28 L475.40,476.31 L476.10,478.44 L476.80,475.31 L477.50,475.42 L478.20,478.35 L478.90,478.27 L479.60,478.62 L480.30,477.31 L481.00,476.15 L481.70,476.98 L482.40,478.17 L483.10,476.70 L483.80,476.77 L484.50,476.01 L485.20,476.26 L485.90,478.48 L486.60,478.05 L487.30,476.26 L488.00,476.35 L488.70,476.92 L489.40,478.15 L490.10,476.25 L490.80,477.36 L491.50,475.17 L492.20,476.15 L492.90,478.01 L493.60,478.53 L494.30,476.26 L495.00,476.69 L495.70,478.42 L496.40,477.11 L497.10,476.94 L497.80,478.11 L498.50,477.76 L499.20,478.77 L499.90,478.42 L500.60,476.90 L501.30,477.41 L502.00,477.47 L502.70,476.04 L503.40,476.46 L504.10,478.61 L504.80,475.78 L505.50,478.63 L506.20,477.85 L506.90,477.38 L507.60,478.13 L508.30,478.06 L509.00,478.87 L509.70,477.09 L510.40,477.28 L511.10,477.26 L511.80,479.61 L512.50,478.57 L513.20,476.51 L513.90,477.16 L514.60,476.75 L515.30,477.54 L516.00,477.76 L516.70,480.06 L517.40,475.51 L518.10,478.66 L518.80,478.01 L519.50,476.75 L520.20,477.36 L520.90,476.98 L521.60,477.58 L522.30,478.63 L523.00,475.85 L523.70,478.97 L524.40,477.11 L525.10,479.18 L525.80,477.97 L526.50,478.88 L527.20,478.14 L527.90,478.71 L528.60,477.58 L529.30,476.60 L530.00,478.25 L530.70,478.30 L531.40,479.83 L532.10,475.30 L532.80,477.29 L533.50,478.68 L534.20,476.13 L534.90,477.26 L535.60,479.84 L536.30,479.07 L537.00,476.53 L537.70,479.07 L538.40,478.81 L539.10,478.36 L539.80,477.92 L540.50,477.76 L541.20,476.54 L541.90,476.93 L542.60,478.30 L543.30,477.65 L544.00,479.53 L544.70,477.12 L545.40,474.84 L546.10,477.12 L546.80,477.79 L547.50,477.91 L548.20,477.56 L548.90,476.57 L549.60,479.13 L550.30,476.75 L551.00,478.26 L551.70,477.16 L552.40,476.15 L553.10,479.03 L553.80,474.71 L554.50,476.53 L555.20,477.94 L555.90,477.07 L556.60,478.29 L557.30,477.35 L558.00,476.96 L558.70,479.84 L559.40,477.21 L560.10,477.28 L560.80,476.26 L561.50,476.63 L562.20,478.16 L562.90,478.07 L563.60,477.45 L564.30,476.67 L565.00,478.20 L565.70,475.56 L566.40,477.06 L567.10,477.16 L567.80,476.50 L568.50,477.60 L569.20,476.69 L569.90,476.54 L570.60,479.41 L571.30,478.24 L572.00,478.74 L572.70,477.48 L573.40,478.48 L574.10,478.27 L574.80,478.75 L575.50,480.02 L576.20,477.16 L576.90,477.69 L577.60,477.35 L578.30,473.53 L579.00,475.86 L579.70,477.42 L580.40,478.09 L581.10,476.76 L581.80,478.64 L582.50,478.80 L583.20,476.93 L583.90,478.95 L584.60,479.31 L585.30,477.89 L586.00,476.29 L586.70,478.99 L587.40,477.19 L588.10,476.95 L588.80,477.49 L589.50,476.77 L590.20,478.54 L590.90,478.21 L591.60,478.69 L592.30,477.99 L593.00,476.47 L593.70,477.16 L594.40,478.30 L595.10,476.88 L595.80,480.54 L596.50,477.06 L597.20,476.68 L597.90,478.58 L598.60,478.14 L599.30,477.28 L600.00,477.05 L600.70,477.77 L601.40,478.22 L602.10,478.13 L602.80,476.96 L603.50,477.76 L604.20,478.21 L604.90,478.12 L605.60,473.88 L606.30,476.29 L607.00,476.41 L607.70,477.00 L608.40,477.45 L609.10,478.26 L609.80,477.92 L610.50,477.10 L611.20,477.26 L611.90,479.17 L612.60,476.55 L613.30,477.56 L614.00,478.94 L614.70,477.59 L615.40,474.96 L616.10,477.61 L616.80,476.77 L617.50,477.07 L618.20,478.34 L618.90,477.70 L619.60,476.89 L620.30,478.15 L621.00,477.64 L621.70,477.28 L622.40,477.49 L623.10,477.43 L623.80,476.77 L624.50,476.63 L625.20,477.16 L625.90,476.08 L626.60,475.74 L627.30,478.55 L628.00,476.85 L628.70,477.08 L629.40,476.95 L630.10,477.12 L630.80,477.11 L631.50,477.15 L632.20,476.19 L632.90,478.10 L633.60,476.30 L634.30,478.20 L635.00,474.94 L635.70,475.88 L636.40,478.13 L637.10,476.87 L637.80,476.29 L638.50,477.43 L639.20,475.86 L639.90,477.09 L640.60,474.56 L641.30,476.50 L642.00,476.27 L642.70,477.58 L643.40,477.94 L644.10,476.03 L644.80,478.73 L645.50,476.30 L646.20,474.69 L646.90,474.32 L647.60,478.63 L648.30,476.83 L649.00,476.21 L649.70,476.09 L650.40,475.70 L651.10,478.39 L651.80,476.80 L652.50,478.85 L653.20,476.66 L653.90,474.28 L654.60,477.79 L655.30,476.45 L656.00,476.59 L656.70,478.56 L657.40,476.54 L658.10,478.10 L658.80,476.81 L659.50,475.98 L660.20,477.36 L660.90,476.13 L661.60,478.14 L662.30,477.83 L663.00,476.84 L663.70,477.43 L664.40,477.37 L665.10,476.44 L665.80,477.72 L666.50,476.48 L667.20,477.40 L667.90,475.66 L668.60,476.81 L669.30,477.15 L670.00,475.82 L670.70,476.22 L671.40,476.08 L672.10,477.46 L672.80,475.86 L673.50,477.13 L674.20,478.31 L674.90,477.02 L675.60,474.85 L676.30,476.75 L677.00,477.75 L677.70,476.28 L678.40,477.80 L679.10,477.25 L679.80,477.03 L680.50,476.27 L681.20,475.98 L681.90,476.26 L682.60,476.60 L683.30,477.09 L684.00,476.97" fill="none" stroke="#d6a832" stroke-width="1.8" stroke-linejoin="round" stroke-linecap="round" />
<path d="M397.00,457.31 L397.70,457.67 L398.40,458.00 L399.10,455.98 L399.80,456.84 L400.50,456.81 L401.20,457.40 L401.90,457.33 L402.60,457.34 L403.30,456.73 L404.00,458.27 L404.70,457.88 L405.40,455.95 L406.10,457.61 L406.80,456.47 L407.50,459.30 L408.20,457.14 L408.90,457.20 L409.60,457.67 L410.30,457.39 L411.00,457.53 L411.70,459.13 L412.40,457.81 L413.10,458.42 L413.80,458.71 L414.50,456.61 L415.20,459.27 L415.90,458.27 L416.60,458.53 L417.30,456.71 L418.00,458.39 L418.70,457.99 L419.40,457.03 L420.10,459.85 L420.80,458.14 L421.50,457.33 L422.20,457.76 L422.90,458.47 L423.60,458.69 L424.30,458.14 L425.00,458.78 L425.70,459.03 L426.40,456.32 L427.10,457.07 L427.80,456.62 L428.50,457.65 L429.20,459.00 L429.90,458.20 L430.60,456.50 L431.30,457.25 L432.00,458.58 L432.70,457.01 L433.40,457.45 L434.10,457.85 L434.80,455.72 L435.50,458.32 L436.20,457.88 L436.90,458.11 L437.60,456.56 L438.30,456.77 L439.00,456.94 L439.70,457.78 L440.40,457.60 L441.10,457.66 L441.80,459.32 L442.50,458.83 L443.20,456.80 L443.90,456.87 L444.60,459.24 L445.30,457.20 L446.00,458.90 L446.70,459.11 L447.40,456.97 L448.10,457.24 L448.80,457.59 L449.50,456.65 L450.20,456.53 L450.90,457.11 L451.60,458.36 L452.30,457.06 L453.00,457.30 L453.70,457.04 L454.40,456.14 L455.10,458.98 L455.80,455.15 L456.50,456.84 L457.20,458.05 L457.90,456.10 L458.60,458.10 L459.30,458.74 L460.00,456.63 L460.70,457.70 L461.40,456.37 L462.10,457.99 L462.80,457.57 L463.50,457.70 L464.20,458.85 L464.90,457.95 L465.60,458.82 L466.30,458.11 L467.00,456.27 L467.70,457.73 L468.40,457.96 L469.10,456.02 L469.80,458.80 L470.50,457.53 L471.20,457.83 L471.90,456.57 L472.60,457.53 L473.30,457.76 L474.00,457.13 L474.70,457.54 L475.40,455.34 L476.10,458.82 L476.80,456.34 L477.50,455.27 L478.20,456.49 L478.90,456.61 L479.60,457.99 L480.30,456.53 L481.00,457.73 L481.70,456.48 L482.40,459.65 L483.10,457.98 L483.80,459.39 L484.50,456.42 L485.20,458.10 L485.90,456.48 L486.60,458.01 L487.30,458.11 L488.00,455.83 L488.70,456.29 L489.40,456.26 L490.10,455.92 L490.80,456.69 L491.50,456.46 L492.20,455.97 L492.90,457.51 L493.60,457.96 L494.30,456.10 L495.00,456.85 L495.70,457.42 L496.40,457.17 L497.10,456.70 L497.80,458.21 L498.50,458.25 L499.20,458.08 L499.90,457.19 L500.60,459.38 L501.30,459.13 L502.00,456.99 L502.70,457.27 L503.40,458.58 L504.10,456.59 L504.80,457.78 L505.50,457.43 L506.20,456.68 L506.90,457.15 L507.60,455.81 L508.30,456.83 L509.00,455.38 L509.70,459.65 L510.40,458.88 L511.10,458.60 L511.80,457.67 L512.50,458.37 L513.20,458.64 L513.90,458.38 L514.60,458.28 L515.30,456.45 L516.00,457.79 L516.70,456.82 L517.40,456.17 L518.10,456.21 L518.80,457.78 L519.50,458.40 L520.20,455.98 L520.90,459.09 L521.60,458.81 L522.30,456.96 L523.00,456.88 L523.70,457.27 L524.40,458.32 L525.10,456.95 L525.80,456.23 L526.50,457.68 L527.20,455.27 L527.90,457.47 L528.60,458.49 L529.30,457.63 L530.00,458.10 L530.70,457.82 L531.40,458.05 L532.10,457.46 L532.80,456.49 L533.50,457.09 L534.20,457.24 L534.90,458.57 L535.60,458.94 L536.30,457.73 L537.00,456.55 L537.70,456.58 L538.40,457.12 L539.10,458.69 L539.80,457.64 L540.50,457.24 L541.20,456.53 L541.90,458.18 L542.60,457.58 L543.30,457.24 L544.00,457.40 L544.70,458.98 L545.40,457.13 L546.10,458.98 L546.80,458.53 L547.50,457.34 L548.20,458.17 L548.90,457.16 L549.60,456.45 L550.30,457.01 L551.00,456.37 L551.70,457.79 L552.40,457.29 L553.10,457.84 L553.80,458.10 L554.50,454.15 L555.20,457.58 L555.90,455.47 L556.60,457.43 L557.30,456.39 L558.00,457.37 L558.70,458.63 L559.40,455.55 L560.10,457.45 L560.80,457.18 L561.50,455.36 L562.20,457.90 L562.90,457.29 L563.60,456.74 L564.30,456.53 L565.00,460.46 L565.70,456.85 L566.40,455.45 L567.10,456.31 L567.80,456.88 L568.50,456.86 L569.20,457.16 L569.90,456.19 L570.60,457.78 L571.30,456.75 L572.00,455.87 L572.70,456.42 L573.40,456.85 L574.10,458.08 L574.80,457.71 L575.50,456.89 L576.20,457.25 L576.90,457.44 L577.60,459.26 L578.30,456.60 L579.00,457.69 L579.70,457.94 L580.40,456.26 L581.10,457.40 L581.80,457.38 L582.50,456.74 L583.20,457.78 L583.90,458.24 L584.60,458.34 L585.30,457.01 L586.00,457.39 L586.70,459.55 L587.40,456.10 L588.10,457.42 L588.80,458.09 L589.50,457.35 L590.20,457.85 L590.90,457.37 L591.60,457.95 L592.30,458.47 L593.00,456.97 L593.70,457.39 L594.40,457.13 L595.10,456.78 L595.80,457.16 L596.50,456.05 L597.20,457.93 L597.90,458.88 L598.60,458.88 L599.30,458.45 L600.00,456.21 L600.70,458.69 L601.40,456.46 L602.10,457.12 L602.80,459.02 L603.50,456.10 L604.20,458.01 L604.90,457.45 L605.60,457.01 L606.30,456.29 L607.00,457.58 L607.70,456.70 L608.40,458.20 L609.10,458.38 L609.80,455.78 L610.50,456.65 L611.20,456.83 L611.90,455.97 L612.60,456.03 L613.30,457.24 L614.00,456.94 L614.70,455.49 L615.40,456.61 L616.10,457.66 L616.80,455.93 L617.50,456.22 L618.20,458.73 L618.90,458.45 L619.60,455.51 L620.30,455.78 L621.00,457.51 L621.70,455.94 L622.40,456.88 L623.10,456.68 L623.80,457.69 L624.50,454.60 L625.20,454.92 L625.90,455.90 L626.60,458.13 L627.30,456.96 L628.00,455.41 L628.70,457.61 L629.40,457.82 L630.10,456.87 L630.80,456.78 L631.50,457.55 L632.20,458.32 L632.90,457.26 L633.60,457.64 L634.30,457.06 L635.00,456.72 L635.70,456.19 L636.40,457.36 L637.10,456.80 L637.80,456.85 L638.50,458.02 L639.20,457.58 L639.90,457.96 L640.60,455.52 L641.30,457.65 L642.00,456.50 L642.70,456.28 L643.40,456.23 L644.10,458.29 L644.80,457.91 L645.50,456.36 L646.20,455.94 L646.90,457.09 L647.60,456.62 L648.30,458.73 L649.00,455.61 L649.70,455.24 L650.40,456.81 L651.10,457.08 L651.80,457.20 L652.50,457.82 L653.20,459.14 L653.90,456.72 L654.60,456.52 L655.30,455.30 L656.00,457.30 L656.70,457.91 L657.40,456.80 L658.10,458.23 L658.80,457.08 L659.50,458.57 L660.20,457.38 L660.90,455.99 L661.60,456.41 L662.30,455.51 L663.00,455.31 L663.70,457.31 L664.40,457.91 L665.10,458.99 L665.80,456.98 L666.50,456.80 L667.20,455.93 L667.90,458.02 L668.60,457.42 L669.30,456.44 L670.00,457.72 L670.70,457.59 L671.40,455.16 L672.10,457.77 L672.80,457.16 L673.50,456.63 L674.20,456.60 L674.90,458.77 L675.60,458.55 L676.30,458.84 L677.00,455.87 L677.70,456.36 L678.40,457.92 L679.10,455.80 L679.80,456.29 L680.50,455.20 L681.20,458.86 L681.90,458.07 L682.60,457.46 L683.30,457.22 L684.00,456.58" fill="none" stroke="#3cc4c0" stroke-width="1.7" stroke-linejoin="round" stroke-linecap="round" />
<path d="M397.00,449.56 L397.70,449.52 L398.40,445.12 L399.10,443.24 L399.80,430.92 L400.50,415.81 L401.20,406.74 L401.90,403.33 L402.60,407.41 L403.30,411.44 L404.00,418.67 L404.70,434.94 L405.40,444.27 L406.10,454.51 L406.80,452.89 L407.50,452.55 L408.20,454.94 L408.90,450.36 L409.60,450.38 L410.30,453.54 L411.00,455.98 L411.70,453.39 L412.40,454.49 L413.10,454.13 L413.80,454.58 L414.50,455.94 L415.20,454.30 L415.90,455.62 L416.60,449.76 L417.30,447.54 L418.00,454.02 L418.70,454.88 L419.40,454.65 L420.10,455.64 L420.80,453.18 L421.50,456.09 L422.20,456.12 L422.90,455.11 L423.60,453.78 L424.30,455.31 L425.00,454.71 L425.70,455.92 L426.40,455.21 L427.10,456.10 L427.80,454.82 L428.50,456.89 L429.20,452.76 L429.90,454.18 L430.60,455.84 L431.30,453.64 L432.00,456.11 L432.70,453.96 L433.40,455.40 L434.10,454.29 L434.80,454.81 L435.50,455.49 L436.20,455.18 L436.90,454.88 L437.60,457.67 L438.30,455.31 L439.00,454.23 L439.70,451.86 L440.40,453.31 L441.10,456.65 L441.80,457.27 L442.50,454.27 L443.20,456.47 L443.90,456.55 L444.60,455.30 L445.30,455.57 L446.00,452.00 L446.70,454.67 L447.40,457.27 L448.10,453.33 L448.80,454.71 L449.50,455.62 L450.20,455.93 L450.90,457.09 L451.60,453.36 L452.30,455.35 L453.00,456.25 L453.70,453.85 L454.40,455.26 L455.10,457.37 L455.80,456.75 L456.50,455.89 L457.20,452.42 L457.90,455.16 L458.60,455.73 L459.30,454.96 L460.00,455.23 L460.70,458.69 L461.40,455.06 L462.10,454.23 L462.80,455.57 L463.50,454.95 L464.20,454.96 L464.90,455.20 L465.60,456.15 L466.30,455.56 L467.00,453.98 L467.70,455.15 L468.40,455.82 L469.10,454.79 L469.80,456.56 L470.50,456.15 L471.20,454.21 L471.90,455.65 L472.60,457.48 L473.30,457.02 L474.00,455.24 L474.70,456.29 L475.40,454.56 L476.10,453.71 L476.80,455.91 L477.50,455.57 L478.20,455.87 L478.90,455.27 L479.60,455.66 L480.30,454.74 L481.00,455.82 L481.70,456.22 L482.40,455.24 L483.10,456.20 L483.80,453.35 L484.50,454.44 L485.20,456.89 L485.90,457.24 L486.60,455.58 L487.30,455.19 L488.00,453.91 L488.70,455.70 L489.40,456.16 L490.10,453.67 L490.80,455.91 L491.50,455.84 L492.20,455.78 L492.90,454.06 L493.60,455.90 L494.30,453.65 L495.00,456.94 L495.70,455.45 L496.40,454.02 L497.10,456.78 L497.80,456.57 L498.50,454.58 L499.20,457.72 L499.90,454.20 L500.60,455.64 L501.30,456.60 L502.00,452.80 L502.70,456.40 L503.40,455.23 L504.10,455.28 L504.80,454.12 L505.50,455.66 L506.20,454.08 L506.90,454.23 L507.60,454.81 L508.30,453.95 L509.00,457.03 L509.70,453.84 L510.40,454.47 L511.10,454.95 L511.80,455.30 L512.50,456.17 L513.20,456.20 L513.90,454.97 L514.60,454.88 L515.30,455.34 L516.00,456.20 L516.70,456.07 L517.40,454.73 L518.10,453.03 L518.80,457.66 L519.50,456.35 L520.20,455.59 L520.90,455.67 L521.60,454.73 L522.30,454.20 L523.00,454.93 L523.70,455.06 L524.40,454.61 L525.10,452.73 L525.80,447.05 L526.50,440.65 L527.20,432.19 L527.90,433.54 L528.60,438.78 L529.30,448.35 L530.00,454.72 L530.70,453.95 L531.40,453.40 L532.10,455.75 L532.80,454.41 L533.50,455.84 L534.20,454.84 L534.90,455.99 L535.60,454.93 L536.30,453.64 L537.00,455.20 L537.70,454.94 L538.40,456.02 L539.10,454.80 L539.80,454.87 L540.50,456.25 L541.20,456.58 L541.90,456.14 L542.60,456.44 L543.30,455.80 L544.00,456.15 L544.70,456.27 L545.40,455.74 L546.10,455.37 L546.80,455.46 L547.50,457.95 L548.20,455.32 L548.90,455.04 L549.60,454.90 L550.30,455.26 L551.00,455.57 L551.70,454.06 L552.40,453.12 L553.10,455.62 L553.80,453.53 L554.50,455.58 L555.20,455.45 L555.90,456.57 L556.60,457.14 L557.30,455.70 L558.00,454.69 L558.70,454.01 L559.40,454.43 L560.10,455.34 L560.80,453.02 L561.50,455.38 L562.20,455.29 L562.90,456.01 L563.60,454.93 L564.30,455.41 L565.00,454.49 L565.70,454.79 L566.40,453.35 L567.10,455.44 L567.80,457.00 L568.50,455.48 L569.20,455.70 L569.90,454.22 L570.60,456.87 L571.30,454.46 L572.00,456.18 L572.70,455.42 L573.40,454.24 L574.10,456.43 L574.80,455.32 L575.50,455.50 L576.20,455.80 L576.90,455.28 L577.60,454.88 L578.30,455.81 L579.00,454.85 L579.70,455.37 L580.40,454.57 L581.10,453.66 L581.80,454.56 L582.50,454.76 L583.20,455.32 L583.90,456.60 L584.60,453.44 L585.30,455.44 L586.00,452.87 L586.70,454.15 L587.40,454.74 L588.10,452.82 L588.80,453.26 L589.50,455.47 L590.20,455.39 L590.90,455.17 L591.60,454.42 L592.30,457.67 L593.00,455.12 L593.70,454.35 L594.40,457.15 L595.10,455.98 L595.80,454.89 L596.50,456.61 L597.20,455.47 L597.90,456.01 L598.60,455.56 L599.30,454.17 L600.00,456.37 L600.70,455.48 L601.40,454.19 L602.10,454.46 L602.80,456.35 L603.50,454.89 L604.20,455.35 L604.90,456.02 L605.60,455.44 L606.30,453.62 L607.00,456.00 L607.70,456.33 L608.40,456.25 L609.10,457.08 L609.80,455.70 L610.50,456.15 L611.20,457.05 L611.90,454.98 L612.60,457.21 L613.30,457.21 L614.00,456.16 L614.70,457.32 L615.40,456.24 L616.10,454.33 L616.80,456.55 L617.50,455.66 L618.20,455.75 L618.90,455.47 L619.60,456.80 L620.30,455.91 L621.00,454.53 L621.70,455.83 L622.40,456.10 L623.10,454.50 L623.80,454.82 L624.50,454.88 L625.20,454.63 L625.90,455.68 L626.60,456.42 L627.30,457.38 L628.00,456.61 L628.70,456.42 L629.40,456.56 L630.10,456.77 L630.80,454.89 L631.50,456.06 L632.20,455.65 L632.90,455.16 L633.60,454.80 L634.30,454.74 L635.00,455.01 L635.70,453.94 L636.40,455.87 L637.10,455.28 L637.80,455.42 L638.50,455.67 L639.20,456.10 L639.90,454.65 L640.60,455.18 L641.30,453.53 L642.00,452.86 L642.70,453.17 L643.40,456.99 L644.10,453.29 L644.80,455.82 L645.50,456.92 L646.20,454.80 L646.90,457.09 L647.60,457.33 L648.30,456.34 L649.00,457.91 L649.70,455.99 L650.40,454.50 L651.10,455.88 L651.80,454.82 L652.50,453.87 L653.20,453.90 L653.90,457.85 L654.60,454.71 L655.30,455.28 L656.00,454.58 L656.70,455.46 L657.40,455.05 L658.10,454.86 L658.80,453.98 L659.50,453.76 L660.20,454.49 L660.90,455.63 L661.60,457.60 L662.30,456.47 L663.00,457.32 L663.70,455.85 L664.40,455.22 L665.10,453.86 L665.80,455.32 L666.50,452.96 L667.20,454.99 L667.90,457.11 L668.60,455.68 L669.30,456.56 L670.00,454.90 L670.70,453.81 L671.40,454.79 L672.10,454.89 L672.80,456.65 L673.50,457.50 L674.20,454.51 L674.90,454.93 L675.60,455.16 L676.30,454.94 L677.00,453.96 L677.70,455.43 L678.40,455.72 L679.10,455.75 L679.80,454.00 L680.50,455.20 L681.20,453.41 L681.90,456.33 L682.60,454.21 L683.30,455.03 L684.00,454.84" fill="none" stroke="#f86a6a" stroke-width="1.8" stroke-linejoin="round" stroke-linecap="round" />
<path d="M397.90,377.94 L398.70,370.18 L399.50,364.88 L400.30,366.22 L401.10,365.31 L401.90,369.72 L402.70,374.81 L403.50,373.91 L404.30,375.81 L405.10,378.14 L405.90,385.44 L406.70,389.77 L407.50,392.73 L408.30,395.80 L409.10,400.17 L409.90,404.40 L410.70,404.27 L411.50,408.93 L412.30,409.60 L413.10,409.04 L413.90,405.94 L414.70,406.81 L415.50,401.39 L416.30,398.14 L417.10,397.17 L417.90,398.54 L418.70,404.54 L419.50,414.16 L420.30,416.20 L421.10,416.95 L421.90,417.36 L422.70,417.73 L423.50,418.99 L424.30,423.29 L425.10,423.02 L425.90,420.87 L426.70,418.70 L427.50,415.48 L428.30,414.46 L429.10,415.79 L429.90,418.68 L430.70,422.58 L431.50,420.57 L432.30,419.34 L433.10,418.38 L433.90,417.42 L434.70,418.10 L435.50,416.07 L436.30,415.55 L437.10,410.23 L437.90,412.80 L438.70,413.00 L439.50,413.90 L440.30,412.82 L441.10,412.24 L441.90,415.21 L442.70,413.87 L443.50,412.16 L444.30,412.61 L445.10,413.51 L445.90,412.97 L446.70,412.05 L447.50,410.33 L448.30,415.31 L449.10,413.77 L449.90,416.70 L450.70,416.54 L451.50,420.44 L452.30,420.54 L453.10,421.65 L453.90,421.14 L454.70,421.20 L455.50,421.63 L456.30,419.73 L457.10,422.75 L457.90,422.78 L458.70,421.56 L459.50,421.99 L460.30,422.34 L461.10,423.61 L461.90,422.47 L462.70,422.07 L463.50,421.51 L464.30,420.51 L465.10,421.40 L465.90,422.05 L466.70,421.71 L467.50,422.02 L468.30,422.67 L469.10,422.34 L469.90,422.16 L470.70,422.52 L471.50,422.03 L472.30,421.79 L473.10,422.26 L473.90,420.03 L474.70,422.98 L475.50,420.40 L476.30,422.48 L477.10,421.61 L477.90,422.66 L478.70,421.54 L479.50,420.51 L480.30,422.47 L481.10,421.53 L481.90,421.41 L482.70,421.32 L483.50,422.19 L484.30,421.95 L485.10,421.31 L485.90,419.47 L486.70,420.57 L487.50,421.03 L488.30,422.67 L489.10,421.21 L489.90,420.69 L490.70,421.94 L491.50,420.59 L492.30,420.64 L493.10,420.80 L493.90,419.11 L494.70,421.55 L495.50,421.00 L496.30,420.28 L497.10,419.41 L497.90,420.77 L498.70,421.96 L499.50,419.94 L500.30,419.55 L501.10,421.06 L501.90,419.08 L502.70,418.51 L503.50,420.33 L504.30,420.15 L505.10,420.62 L505.90,420.41 L506.70,421.36 L507.50,420.87 L508.30,420.56 L509.10,420.78 L509.90,421.93 L510.70,422.33 L511.50,422.34 L512.30,422.20 L513.10,418.27 L513.90,420.62 L514.70,421.36 L515.50,421.93 L516.30,420.15 L517.10,423.22 L517.90,422.13 L518.70,421.23 L519.50,422.02 L520.30,421.46 L521.10,420.49 L521.90,420.71 L522.70,418.41 L523.50,416.00 L524.30,415.39 L525.10,414.78 L525.90,413.12 L526.70,415.59 L527.50,415.75 L528.30,421.73 L529.10,422.16 L529.90,420.32 L530.70,421.39 L531.50,422.44 L532.30,421.07 L533.10,420.07 L533.90,421.38 L534.70,423.25 L535.50,419.77 L536.30,421.82 L537.10,421.27 L537.90,421.15 L538.70,420.88 L539.50,420.95 L540.30,422.30 L541.10,421.86 L541.90,420.27 L542.70,422.83 L543.50,419.97 L544.30,421.93 L545.10,421.45 L545.90,422.47 L546.70,421.63 L547.50,422.33 L548.30,421.25 L549.10,422.24 L549.90,421.61 L550.70,423.42 L551.50,420.58 L552.30,422.41 L553.10,421.04 L553.90,419.64 L554.70,417.59 L555.50,417.39 L556.30,414.62 L557.10,414.57 L557.90,417.91 L558.70,417.67 L559.50,422.33 L560.30,421.00 L561.10,421.52 L561.90,421.33 L562.70,421.65 L563.50,420.93 L564.30,420.81 L565.10,421.01 L565.90,422.14 L566.70,422.18 L567.50,422.27 L568.30,421.30 L569.10,420.67 L569.90,419.13 L570.70,421.38 L571.50,421.51 L572.30,420.19 L573.10,421.32 L573.90,421.72 L574.70,420.45 L575.50,421.33 L576.30,420.49 L577.10,418.36 L577.90,419.54 L578.70,419.52 L579.50,420.37 L580.30,418.89 L581.10,419.23 L581.90,418.62 L582.70,419.46 L583.50,419.49 L584.30,420.31 L585.10,420.06 L585.90,419.35 L586.70,419.35 L587.50,419.15 L588.30,419.09 L589.10,420.46 L589.90,416.37 L590.70,418.63 L591.50,419.07 L592.30,419.84 L593.10,417.58 L593.90,418.99 L594.70,419.48 L595.50,418.15 L596.30,416.68 L597.10,418.22 L597.90,417.38 L598.70,419.23 L599.50,417.73 L600.30,420.36 L601.10,418.72 L601.90,417.77 L602.70,418.07 L603.50,417.49 L604.30,418.97 L605.10,420.07 L605.90,418.36 L606.70,419.51 L607.50,417.64 L608.30,418.89 L609.10,420.89 L609.90,417.18 L610.70,419.82 L611.50,419.76 L612.30,416.71 L613.10,417.16 L613.90,417.62 L614.70,419.57 L615.50,418.18 L616.30,418.44 L617.10,419.32 L617.90,418.73 L618.70,418.85 L619.50,418.31 L620.30,419.76 L621.10,417.86 L621.90,420.32 L622.70,418.31 L623.50,417.86 L624.30,419.31 L625.10,419.12 L625.90,416.70 L626.70,418.91 L627.50,417.35 L628.30,417.88 L629.10,419.51 L629.90,417.87 L630.70,419.10 L631.50,418.38 L632.30,420.70 L633.10,418.69 L633.90,417.62 L634.70,417.71 L635.50,417.92 L636.30,418.97 L637.10,418.86 L637.90,419.85 L638.70,419.06 L639.50,419.04 L640.30,419.26 L641.10,418.82 L641.90,419.27 L642.70,419.78 L643.50,419.80 L644.30,418.50 L645.10,417.30 L645.90,418.28 L646.70,419.40 L647.50,416.66 L648.30,418.70 L649.10,419.65 L649.90,418.67 L650.70,418.14 L651.50,421.05 L652.30,420.71 L653.10,419.10 L653.90,420.72 L654.70,420.73 L655.50,418.34 L656.30,422.18 L657.10,418.61 L657.90,419.32 L658.70,418.53 L659.50,419.74 L660.30,418.39 L661.10,419.74 L661.90,420.88 L662.70,420.06 L663.50,419.63 L664.30,421.48 L665.10,419.09 L665.90,421.01 L666.70,419.79 L667.50,420.36 L668.30,420.23 L669.10,420.38 L669.90,420.26 L670.70,419.59 L671.50,419.86 L672.30,420.93 L673.10,420.45 L673.90,419.45 L674.70,419.98 L675.50,420.06 L676.30,420.76 L677.10,421.06 L677.90,421.05 L678.70,420.37 L679.50,421.12 L680.30,419.81 L681.10,418.37 L681.90,421.27 L682.70,419.75 L683.50,420.54" fill="none" stroke="#c0d4d9" stroke-width="4.2" stroke-linejoin="round" stroke-linecap="round" />
<path d="M397.90,377.33 L398.90,370.48 L399.90,364.08 L400.90,364.73 L401.90,368.97 L402.90,371.87 L403.90,372.99 L404.90,377.47 L405.90,384.64 L406.90,390.87 L407.90,395.99 L408.90,399.22 L409.90,403.51 L410.90,406.98 L411.90,409.93 L412.90,409.24 L413.90,407.01 L414.90,407.29 L415.90,398.22 L416.90,397.70 L417.90,400.64 L418.90,407.84 L419.90,416.04 L420.90,417.04 L421.90,416.89 L422.90,416.82 L423.90,420.07 L424.90,421.92 L425.90,421.52 L426.90,419.13 L427.90,413.97 L428.90,416.11 L429.90,418.90 L430.90,421.28 L431.90,420.18 L432.90,419.10 L433.90,416.63 L434.90,415.63 L435.90,414.12 L436.90,413.74 L437.90,413.18 L438.90,412.91 L439.90,411.73 L440.90,413.72 L441.90,412.97 L442.90,412.11 L443.90,412.70 L444.90,411.94 L445.90,410.17 L446.90,409.45 L447.90,412.42 L448.90,413.54 L449.90,415.05 L450.90,420.55 L451.90,419.76 L452.90,420.26 L453.90,421.68 L454.90,420.50 L455.90,423.07 L456.90,420.13 L457.90,420.51 L458.90,421.77 L459.90,421.20 L460.90,423.39 L461.90,420.38 L462.90,421.24 L463.90,422.19 L464.90,422.49 L465.90,422.91 L466.90,422.23 L467.90,424.06 L468.90,421.36 L469.90,421.98 L470.90,422.64 L471.90,421.44 L472.90,421.43 L473.90,421.22 L474.90,420.99 L475.90,420.46 L476.90,420.98 L477.90,419.93 L478.90,421.79 L479.90,419.75 L480.90,423.33 L481.90,422.90 L482.90,422.24 L483.90,420.86 L484.90,420.41 L485.90,422.15 L486.90,421.05 L487.90,421.36 L488.90,420.02 L489.90,421.75 L490.90,419.84 L491.90,420.69 L492.90,418.82 L493.90,419.86 L494.90,420.98 L495.90,420.02 L496.90,420.01 L497.90,421.24 L498.90,420.39 L499.90,421.73 L500.90,418.12 L501.90,421.14 L502.90,421.14 L503.90,419.16 L504.90,419.48 L505.90,421.73 L506.90,419.87 L507.90,420.39 L508.90,421.70 L509.90,420.86 L510.90,421.75 L511.90,420.50 L512.90,421.73 L513.90,422.59 L514.90,421.90 L515.90,419.45 L516.90,422.33 L517.90,421.77 L518.90,420.84 L519.90,423.13 L520.90,419.59 L521.90,421.96 L522.90,417.76 L523.90,418.15 L524.90,414.99 L525.90,412.76 L526.90,414.74 L527.90,418.70 L528.90,421.65 L529.90,422.20 L530.90,420.25 L531.90,421.64 L532.90,421.88 L533.90,420.88 L534.90,420.21 L535.90,420.19 L536.90,421.89 L537.90,421.94 L538.90,420.32 L539.90,419.81 L540.90,422.38 L541.90,419.60 L542.90,421.30 L543.90,420.34 L544.90,419.40 L545.90,421.27 L546.90,420.96 L547.90,422.58 L548.90,423.41 L549.90,420.96 L550.90,422.17 L551.90,422.18 L552.90,420.14 L553.90,418.48 L554.90,419.31 L555.90,415.96 L556.90,415.72 L557.90,416.78 L558.90,419.45 L559.90,420.53 L560.90,421.88 L561.90,422.37 L562.90,420.73 L563.90,419.69 L564.90,421.07 L565.90,419.48 L566.90,420.27 L567.90,422.06 L568.90,423.07 L569.90,421.05 L570.90,419.53 L571.90,421.27 L572.90,418.17 L573.90,419.61 L574.90,421.72 L575.90,420.84 L576.90,418.61 L577.90,418.23 L578.90,420.62 L579.90,419.62 L580.90,418.97 L581.90,419.86 L582.90,418.78 L583.90,417.33 L584.90,419.95 L585.90,418.41 L586.90,417.96 L587.90,417.55 L588.90,419.05 L589.90,417.93 L590.90,419.28 L591.90,418.34 L592.90,419.63 L593.90,418.13 L594.90,417.83 L595.90,416.50 L596.90,417.35 L597.90,419.16 L598.90,421.48 L599.90,417.20 L600.90,417.41 L601.90,418.78 L602.90,418.92 L603.90,417.77 L604.90,418.52 L605.90,416.85 L606.90,418.15 L607.90,419.35 L608.90,420.08 L609.90,418.29 L610.90,418.20 L611.90,418.91 L612.90,419.56 L613.90,418.95 L614.90,417.72 L615.90,418.83 L616.90,419.44 L617.90,417.78 L618.90,417.16 L619.90,419.00 L620.90,418.87 L621.90,419.48 L622.90,418.61 L623.90,417.89 L624.90,418.11 L625.90,417.53 L626.90,417.62 L627.90,418.02 L628.90,418.11 L629.90,419.71 L630.90,417.40 L631.90,418.59 L632.90,418.07 L633.90,420.15 L634.90,418.95 L635.90,418.34 L636.90,419.54 L637.90,418.82 L638.90,418.31 L639.90,420.33 L640.90,419.54 L641.90,420.58 L642.90,420.04 L643.90,419.69 L644.90,419.08 L645.90,417.90 L646.90,419.72 L647.90,419.12 L648.90,419.76 L649.90,419.11 L650.90,418.48 L651.90,418.20 L652.90,419.94 L653.90,420.57 L654.90,419.05 L655.90,419.83 L656.90,420.80 L657.90,418.65 L658.90,419.19 L659.90,418.47 L660.90,420.81 L661.90,419.96 L662.90,419.30 L663.90,418.17 L664.90,419.70 L665.90,420.93 L666.90,419.72 L667.90,419.66 L668.90,420.78 L669.90,418.99 L670.90,420.35 L671.90,420.96 L672.90,419.67 L673.90,419.70 L674.90,420.86 L675.90,420.60 L676.90,420.55 L677.90,421.08 L678.90,421.18 L679.90,420.14 L680.90,420.49 L681.90,421.69 L682.90,422.46 L683.90,422.80" fill="none" stroke="#2424f0" stroke-width="2.3" stroke-linejoin="round" stroke-linecap="butt" stroke-dasharray="3.0,2.2"/>
</g>
<rect x="397.70" y="329.50" width="285.80" height="244.70" fill="none" stroke="#1a1a1a" stroke-width="1.2"/>
<line x1="421.50" y1="574.20" x2="421.50" y2="570.20" stroke="#1a1a1a" stroke-width="1.2" />
<line x1="421.50" y1="329.50" x2="421.50" y2="333.50" stroke="#1a1a1a" stroke-width="1.2" />
<line x1="540.75" y1="574.20" x2="540.75" y2="570.20" stroke="#1a1a1a" stroke-width="1.2" />
<line x1="540.75" y1="329.50" x2="540.75" y2="333.50" stroke="#1a1a1a" stroke-width="1.2" />
<line x1="660.00" y1="574.20" x2="660.00" y2="570.20" stroke="#1a1a1a" stroke-width="1.2" />
<line x1="660.00" y1="329.50" x2="660.00" y2="333.50" stroke="#1a1a1a" stroke-width="1.2" />
<line x1="481.12" y1="574.20" x2="481.12" y2="571.70" stroke="#1a1a1a" stroke-width="1.2" />
<line x1="481.12" y1="329.50" x2="481.12" y2="332.00" stroke="#1a1a1a" stroke-width="1.2" />
<line x1="600.38" y1="574.20" x2="600.38" y2="571.70" stroke="#1a1a1a" stroke-width="1.2" />
<line x1="600.38" y1="329.50" x2="600.38" y2="332.00" stroke="#1a1a1a" stroke-width="1.2" />
<line x1="397.70" y1="343.40" x2="401.70" y2="343.40" stroke="#1a1a1a" stroke-width="1.2" />
<line x1="679.50" y1="343.40" x2="683.50" y2="343.40" stroke="#1a1a1a" stroke-width="1.2" />
<line x1="397.70" y1="411.27" x2="401.70" y2="411.27" stroke="#1a1a1a" stroke-width="1.2" />
<line x1="679.50" y1="411.27" x2="683.50" y2="411.27" stroke="#1a1a1a" stroke-width="1.2" />
<line x1="397.70" y1="479.13" x2="401.70" y2="479.13" stroke="#1a1a1a" stroke-width="1.2" />
<line x1="679.50" y1="479.13" x2="683.50" y2="479.13" stroke="#1a1a1a" stroke-width="1.2" />
<line x1="397.70" y1="547.00" x2="401.70" y2="547.00" stroke="#1a1a1a" stroke-width="1.2" />
<line x1="679.50" y1="547.00" x2="683.50" y2="547.00" stroke="#1a1a1a" stroke-width="1.2" />
<line x1="397.70" y1="377.33" x2="400.20" y2="377.33" stroke="#1a1a1a" stroke-width="1.2" />
<line x1="681.00" y1="377.33" x2="683.50" y2="377.33" stroke="#1a1a1a" stroke-width="1.2" />
<line x1="397.70" y1="445.20" x2="400.20" y2="445.20" stroke="#1a1a1a" stroke-width="1.2" />
<line x1="681.00" y1="445.20" x2="683.50" y2="445.20" stroke="#1a1a1a" stroke-width="1.2" />
<line x1="397.70" y1="513.07" x2="400.20" y2="513.07" stroke="#1a1a1a" stroke-width="1.2" />
<line x1="681.00" y1="513.07" x2="683.50" y2="513.07" stroke="#1a1a1a" stroke-width="1.2" />
<text x="394.50" y="348.40" font-size="14" text-anchor="end" fill="#000" >-50</text>
<text x="394.50" y="416.27" font-size="14" text-anchor="end" fill="#000" >-75</text>
<text x="394.50" y="484.13" font-size="14" text-anchor="end" fill="#000" >-100</text>
<text x="394.50" y="552.00" font-size="14" text-anchor="end" fill="#000" >-125</text>
<text x="421.50" y="589.00" font-size="14" text-anchor="middle" fill="#000" >5</text>
<text x="540.75" y="589.00" font-size="14" text-anchor="middle" fill="#000" >10</text>
<text x="660.00" y="589.00" font-size="14" text-anchor="middle" fill="#000" >15</text>
<text x="541.00" y="605.20" font-size="17.3" text-anchor="middle" fill="#000" >Frequency (kHz)</text>
<text transform="translate(362.0,452.3) rotate(-90)" font-size="17.5" text-anchor="middle" fill="#000">Power spectrum (dBm)</text>
<line x1="417.00" y1="345.60" x2="438.00" y2="345.60" stroke="#d8a833" stroke-width="1.6" />
<text x="441.60" y="350.30" font-size="13" text-anchor="start" fill="#000" >Electronic noise</text>
<line x1="417.00" y1="361.60" x2="438.00" y2="361.60" stroke="#f86a6a" stroke-width="1.6" />
<text x="441.60" y="366.30" font-size="13" text-anchor="start" fill="#000" >Laser intensity noise</text>
<line x1="417.00" y1="376.80" x2="438.00" y2="376.80" stroke="#2424f0" stroke-width="2.0" stroke-dasharray="4.2,3.3"/>
<text x="441.60" y="381.50" font-size="13" text-anchor="start" fill="#000" >Laser frequency noise</text>
<line x1="572.60" y1="345.60" x2="594.00" y2="345.60" stroke="#858585" stroke-width="1.4" stroke-dasharray="7,2.4,1.6,2.4"/>
<text x="597.60" y="350.30" font-size="13" text-anchor="start" fill="#000" >Thermal noise</text>
<line x1="573.00" y1="361.60" x2="594.00" y2="361.60" stroke="#3cc4c0" stroke-width="1.6" />
<text x="597.60" y="366.30" font-size="13" text-anchor="start" fill="#000" >Shot noise</text>
<line x1="573.00" y1="376.80" x2="594.00" y2="376.80" stroke="#c2d3d9" stroke-width="3.2" />
<text x="597.60" y="381.50" font-size="13" text-anchor="start" fill="#000" >Total noise</text>
</svg></body></html>
